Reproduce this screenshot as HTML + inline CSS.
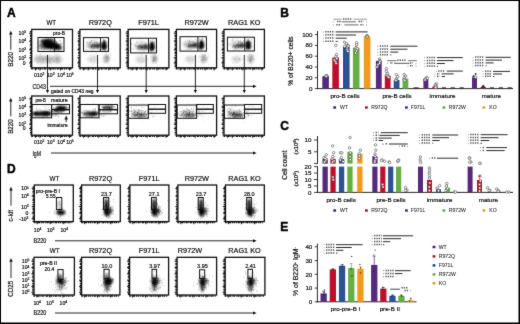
<!DOCTYPE html>
<html><head><meta charset="utf-8"><title>Figure</title>
<style>html,body{margin:0;padding:0;background:#fff;}body{width:520px;height:324px;overflow:hidden;font-family:"Liberation Sans",sans-serif;}svg{display:block;will-change:transform;opacity:0.999;}</style>
</head><body>
<svg width="520" height="324" viewBox="0 0 520 324" font-family="Liberation Sans, sans-serif">
<defs>
<filter id="b1" x="-50%" y="-50%" width="200%" height="200%"><feGaussianBlur stdDeviation="0.8"/></filter>
<filter id="b2" x="-50%" y="-50%" width="200%" height="200%"><feGaussianBlur stdDeviation="1.5"/></filter>
<filter id="b0" x="-50%" y="-50%" width="200%" height="200%"><feGaussianBlur stdDeviation="0.45"/></filter>
<filter id="soft" x="0" y="0" width="520" height="324" filterUnits="userSpaceOnUse" color-interpolation-filters="sRGB"><feConvolveMatrix order="3" kernelMatrix="0.016 0.064 0.016 0.064 0.68 0.064 0.016 0.064 0.016" divisor="1" edgeMode="duplicate" preserveAlpha="true"/></filter>
</defs>
<g filter="url(#soft)">
<rect x="0" y="0" width="520" height="324" fill="#fff"/>
<text x="7" y="16.8" font-size="12" text-anchor="start" font-weight="bold" fill="#000"  stroke="#000" stroke-width="0.45">A</text>
<text x="7" y="173.2" font-size="12" text-anchor="start" font-weight="bold" fill="#000"  stroke="#000" stroke-width="0.45">D</text>
<text x="280.3" y="17.2" font-size="12" text-anchor="start" font-weight="bold" fill="#000"  stroke="#000" stroke-width="0.45">B</text>
<text x="280.3" y="130.2" font-size="12" text-anchor="start" font-weight="bold" fill="#000"  stroke="#000" stroke-width="0.45">C</text>
<text x="280.3" y="230.6" font-size="12" text-anchor="start" font-weight="bold" fill="#000"  stroke="#000" stroke-width="0.45">E</text>
<text x="51.2" y="25.1" font-size="7.3" text-anchor="middle" font-weight="normal" fill="#111" stroke="#111" stroke-width="0.2" textLength="9.6" lengthAdjust="spacingAndGlyphs">WT</text>
<text x="100.3" y="25.1" font-size="7.3" text-anchor="middle" font-weight="normal" fill="#111" stroke="#111" stroke-width="0.2" >R972Q</text>
<text x="148.6" y="25.1" font-size="7.3" text-anchor="middle" font-weight="normal" fill="#111" stroke="#111" stroke-width="0.2" >F971L</text>
<text x="196.6" y="25.1" font-size="7.3" text-anchor="middle" font-weight="normal" fill="#111" stroke="#111" stroke-width="0.2" >R972W</text>
<text x="244.3" y="25.1" font-size="7.3" text-anchor="middle" font-weight="normal" fill="#111" stroke="#111" stroke-width="0.2" >RAG1 KO</text>
<ellipse cx="46" cy="44.6" rx="8" ry="5.4" fill="#000" opacity="0.24" filter="url(#b2)"/>
<ellipse cx="47" cy="44.3" rx="4.8" ry="4.2" fill="#000" opacity="0.95" filter="url(#b1)"/>
<ellipse cx="52" cy="45.2" rx="5.2" ry="3.9" fill="#000" opacity="0.97" filter="url(#b1)"/>
<ellipse cx="56.8" cy="46.8" rx="3.4" ry="3.3" fill="#000" opacity="0.95" filter="url(#b1)"/>
<ellipse cx="44" cy="41.2" rx="3.6" ry="2.0" fill="#000" opacity="0.75" filter="url(#b1)"/>
<ellipse cx="60" cy="47.8" rx="2.2" ry="2.8" fill="#000" opacity="0.6" filter="url(#b1)"/>
<ellipse cx="50" cy="40.2" rx="4.4" ry="1.6" fill="#000" opacity="0.8" filter="url(#b1)"/>
<ellipse cx="42" cy="47" rx="2.4" ry="2.6" fill="#000" opacity="0.35" filter="url(#b1)"/>
<ellipse cx="40" cy="59.2" rx="5.6" ry="4" fill="#000" opacity="0.25" filter="url(#b2)"/>
<ellipse cx="49" cy="59.4" rx="5" ry="4" fill="#000" opacity="0.24" filter="url(#b2)"/>
<ellipse cx="57.5" cy="59.4" rx="4" ry="4" fill="#000" opacity="0.28" filter="url(#b2)"/>
<path d="M42.0 46.4h.01M56.5 43.2h.01M41.4 44.8h.01M53.1 49.0h.01M42.1 40.3h.01M54.6 46.7h.01M60.0 48.5h.01M49.3 44.0h.01M44.9 40.9h.01M50.6 45.5h.01M47.8 44.8h.01M51.8 47.5h.01M57.1 45.8h.01M40.8 44.4h.01M40.4 45.0h.01M44.9 45.8h.01M55.5 40.2h.01M48.1 47.4h.01M49.4 46.3h.01M50.7 41.4h.01M53.7 42.1h.01M62.2 43.2h.01M54.5 45.0h.01M56.2 42.8h.01M56.5 44.6h.01M58.2 47.2h.01M50.9 42.2h.01M55.0 46.7h.01M60.7 43.6h.01M53.6 46.8h.01M51.8 45.8h.01M51.2 42.8h.01M43.4 43.6h.01M53.8 50.4h.01M56.4 48.8h.01M55.1 47.5h.01M51.2 47.8h.01M61.5 43.8h.01M51.6 48.5h.01M55.7 40.9h.01M51.2 47.7h.01M50.8 41.8h.01M49.3 46.3h.01M57.3 47.6h.01M50.4 49.9h.01M45.1 47.9h.01M57.2 43.9h.01M51.5 46.9h.01M60.1 41.4h.01M50.0 47.3h.01M56.5 41.7h.01M47.3 45.8h.01M50.7 50.6h.01M45.5 43.3h.01M54.7 50.1h.01M54.3 46.1h.01M46.0 43.1h.01M53.8 43.8h.01M55.1 45.3h.01M47.8 45.4h.01M52.8 48.1h.01M46.9 44.2h.01M59.4 44.4h.01M46.9 40.6h.01M51.1 45.7h.01M59.2 45.7h.01M39.5 45.6h.01M57.3 47.1h.01M49.2 39.4h.01M44.1 49.4h.01M60.7 40.7h.01M40.0 48.2h.01M55.5 41.4h.01" stroke="#000" stroke-width="0.6" stroke-linecap="round" fill="none" opacity="0.55"/>
<path d="M42.8 57.6h.01M39.1 57.6h.01M57.4 61.4h.01M63.4 59.3h.01M47.0 56.7h.01M47.1 55.8h.01M34.7 61.5h.01M58.8 61.8h.01M58.0 60.2h.01M42.6 59.7h.01M45.2 56.4h.01M35.3 55.3h.01M48.0 59.9h.01M44.4 63.5h.01M49.3 61.1h.01M57.1 57.2h.01M33.2 61.6h.01M42.8 63.2h.01M50.5 62.3h.01M53.7 53.7h.01M53.4 57.6h.01M42.3 58.3h.01M53.8 62.0h.01M55.6 54.9h.01M43.6 52.8h.01M47.2 61.2h.01M42.3 60.2h.01M49.7 62.3h.01M41.8 57.2h.01M42.3 64.4h.01M56.2 59.2h.01M49.7 59.8h.01M49.5 58.9h.01M45.5 56.0h.01M43.2 64.1h.01M52.0 59.7h.01M46.4 59.7h.01M50.7 57.7h.01M49.5 60.2h.01M42.4 57.3h.01M40.5 56.5h.01M54.7 52.9h.01M46.0 57.8h.01M43.4 59.8h.01M56.5 59.7h.01M46.9 57.8h.01M47.0 62.1h.01M45.0 56.3h.01M38.5 56.4h.01M37.6 62.6h.01M50.7 58.8h.01M58.9 57.7h.01M53.6 61.7h.01M36.4 55.1h.01M41.0 62.0h.01M57.7 56.1h.01M55.9 58.4h.01M45.0 58.0h.01M45.6 54.4h.01M40.5 56.0h.01M51.7 65.3h.01M68.5 58.6h.01M35.1 58.4h.01M41.0 65.1h.01M52.3 57.5h.01M55.0 61.0h.01M35.8 58.0h.01M46.2 59.6h.01M49.0 58.6h.01M49.4 57.9h.01M41.3 63.7h.01M50.7 60.7h.01M36.0 59.0h.01M54.1 55.9h.01M56.2 58.4h.01M51.0 59.1h.01M49.6 62.9h.01M45.0 63.9h.01M42.1 56.9h.01M53.3 56.5h.01M45.2 62.0h.01M57.1 54.5h.01M51.8 64.8h.01M57.0 58.8h.01M43.5 58.7h.01M39.4 58.8h.01M46.6 59.1h.01M56.9 58.9h.01M37.1 62.4h.01M40.0 58.2h.01M47.0 58.5h.01M40.5 58.8h.01M64.4 57.8h.01M47.0 62.6h.01M53.6 61.6h.01M54.5 54.0h.01M41.5 59.9h.01M51.7 63.1h.01M51.5 58.8h.01M48.3 58.9h.01M49.9 61.4h.01M45.5 57.2h.01M41.6 62.6h.01M57.6 62.3h.01M54.4 61.8h.01M48.0 61.4h.01M40.1 58.9h.01M42.5 61.5h.01M43.7 59.2h.01M51.0 63.3h.01" stroke="#000" stroke-width="0.7" stroke-linecap="round" fill="none" opacity="0.13"/>
<path d="M44.9 41.4h.01M59.4 40.3h.01M56.1 44.0h.01M51.0 35.3h.01M58.4 44.5h.01M43.9 62.5h.01M55.7 45.6h.01M53.0 59.2h.01M51.8 51.2h.01M56.6 41.6h.01M53.2 44.5h.01M40.8 54.1h.01M58.0 48.5h.01M43.8 34.0h.01M56.4 47.3h.01M36.8 47.6h.01M38.3 47.8h.01M53.3 50.5h.01M54.0 49.2h.01M41.7 45.3h.01M47.4 46.4h.01M54.4 52.3h.01M55.6 46.6h.01M37.1 50.8h.01M47.3 55.0h.01M42.5 47.3h.01M50.8 47.3h.01M46.7 35.1h.01M56.1 55.0h.01M51.4 40.9h.01M53.8 52.0h.01M50.4 47.9h.01M64.7 40.2h.01M47.0 34.7h.01M45.7 42.8h.01M43.4 43.1h.01M68.2 46.6h.01" stroke="#000" stroke-width="0.5" stroke-linecap="round" fill="none" opacity="0.3"/>
<rect x="31.7" y="29.4" width="40.8" height="38.4" fill="none" stroke="#111" stroke-width="1.3" />
<line x1="30.7" y1="30.9" x2="30.7" y2="68.3" stroke="#111" stroke-width="1.5" stroke-dasharray="1.7 0.8 0.8 0.6 2.3 0.7 1.1 0.6"/>
<line x1="31.2" y1="68.8" x2="71.5" y2="68.8" stroke="#111" stroke-width="1.5" stroke-dasharray="1.7 0.8 0.8 0.6 2.3 0.7 1.1 0.6"/>
<line x1="29.099999999999998" y1="33.2" x2="31.7" y2="33.2" stroke="#111" stroke-width="0.9" />
<line x1="29.099999999999998" y1="41.2" x2="31.7" y2="41.2" stroke="#111" stroke-width="0.9" />
<line x1="29.099999999999998" y1="49.7" x2="31.7" y2="49.7" stroke="#111" stroke-width="0.9" />
<line x1="29.099999999999998" y1="57.8" x2="31.7" y2="57.8" stroke="#111" stroke-width="0.9" />
<line x1="29.099999999999998" y1="63" x2="31.7" y2="63" stroke="#111" stroke-width="0.9" />
<line x1="35.5" y1="67.8" x2="35.5" y2="70.39999999999999" stroke="#111" stroke-width="0.9" />
<line x1="40.0" y1="67.8" x2="40.0" y2="70.39999999999999" stroke="#111" stroke-width="0.9" />
<line x1="50.5" y1="67.8" x2="50.5" y2="70.39999999999999" stroke="#111" stroke-width="0.9" />
<line x1="60.5" y1="67.8" x2="60.5" y2="70.39999999999999" stroke="#111" stroke-width="0.9" />
<line x1="69.5" y1="67.8" x2="69.5" y2="70.39999999999999" stroke="#111" stroke-width="0.9" />
<rect x="38" y="37.5" width="26" height="14.0" fill="none" stroke="#111" stroke-width="1.0" />
<line x1="54.6" y1="37.5" x2="54.6" y2="51.5" stroke="#111" stroke-width="0.9" />
<ellipse cx="92.5" cy="45.1" rx="7" ry="4.6" fill="#000" opacity="0.13" filter="url(#b2)"/>
<ellipse cx="95.5" cy="46.1" rx="5" ry="1.8" fill="#000" opacity="0.62" filter="url(#b1)"/>
<ellipse cx="98.3" cy="45.4" rx="2.4" ry="2.8" fill="#000" opacity="0.5" filter="url(#b1)"/>
<ellipse cx="91.5" cy="46.5" rx="3" ry="1.4" fill="#000" opacity="0.3" filter="url(#b1)"/>
<ellipse cx="104.1" cy="45.1" rx="2.1" ry="4.4" fill="#000" opacity="0.96" filter="url(#b1)"/>
<ellipse cx="103.9" cy="46.5" rx="2.6" ry="3.0" fill="#000" opacity="0.75" filter="url(#b1)"/>
<ellipse cx="92.5" cy="59.4" rx="4.8" ry="3.6" fill="#000" opacity="0.14" filter="url(#b2)"/>
<ellipse cx="106.5" cy="58.6" rx="2.8" ry="3.8" fill="#000" opacity="0.34" filter="url(#b2)"/>
<path d="M94.2 40.3h.01M96.7 42.7h.01M103.5 41.8h.01M91.3 40.7h.01M95.0 42.5h.01M94.1 44.4h.01M91.1 48.3h.01M99.6 45.7h.01M89.5 42.3h.01M92.0 43.1h.01M90.7 42.2h.01M89.2 44.9h.01M102.4 45.5h.01M91.7 40.7h.01M95.7 45.4h.01M87.8 42.2h.01M94.3 48.5h.01M97.9 46.1h.01M92.7 46.5h.01M88.3 44.4h.01M101.5 44.7h.01M102.3 45.4h.01M95.3 44.4h.01M86.9 42.6h.01M106.7 47.4h.01M97.8 48.4h.01M97.6 48.6h.01M93.0 44.8h.01M99.9 44.4h.01M87.2 44.8h.01M91.5 47.3h.01M90.5 42.3h.01M92.7 50.2h.01M94.2 46.0h.01M94.6 46.4h.01M99.6 49.7h.01M85.5 49.6h.01M94.5 44.5h.01M107.7 45.0h.01M105.2 48.4h.01M88.8 47.0h.01M98.6 45.1h.01M93.4 42.2h.01M104.5 44.8h.01M92.3 44.6h.01M90.2 43.2h.01M95.0 46.4h.01M91.7 45.2h.01M86.9 47.1h.01M90.4 46.1h.01M89.5 44.0h.01M95.7 41.9h.01M94.1 43.3h.01M103.3 49.7h.01M96.1 41.4h.01M91.7 47.3h.01M91.7 41.9h.01M88.0 43.2h.01M94.6 43.6h.01M104.3 42.4h.01M96.4 45.8h.01M93.7 48.6h.01M92.7 44.5h.01M92.4 45.2h.01" stroke="#000" stroke-width="0.55" stroke-linecap="round" fill="none" opacity="0.45"/>
<path d="M106.3 47.8h.01M101.6 43.4h.01M102.6 47.9h.01M104.4 48.2h.01M104.8 45.8h.01M104.9 40.3h.01M104.1 42.5h.01M102.8 46.3h.01M104.6 41.8h.01M103.0 49.0h.01M102.4 46.5h.01M107.0 49.2h.01M104.7 45.7h.01M102.1 43.4h.01M103.4 42.2h.01M104.1 43.6h.01M104.6 50.2h.01M105.3 46.5h.01M103.6 39.5h.01M103.8 47.0h.01M102.2 49.5h.01M103.4 46.3h.01M103.4 40.5h.01M105.7 43.0h.01M104.5 42.1h.01M103.3 48.3h.01M107.5 42.0h.01M104.0 48.4h.01M102.9 47.6h.01M102.6 47.2h.01M104.8 49.4h.01M104.7 40.7h.01M105.2 41.0h.01M105.4 50.4h.01M105.1 43.0h.01M106.1 45.6h.01" stroke="#000" stroke-width="0.6" stroke-linecap="round" fill="none" opacity="0.6"/>
<path d="M87.9 58.6h.01M99.9 58.7h.01M94.0 58.6h.01M85.9 58.2h.01M95.1 60.0h.01M92.7 54.0h.01M99.0 61.4h.01M98.1 62.9h.01M91.5 57.9h.01M94.9 63.9h.01M85.9 58.9h.01M90.3 61.0h.01M100.1 58.7h.01M87.9 59.6h.01M92.2 55.5h.01M97.5 58.1h.01M96.6 56.1h.01M98.4 55.8h.01M98.2 54.8h.01M99.7 58.5h.01M86.5 58.9h.01M95.0 56.9h.01M91.3 60.2h.01M92.7 51.5h.01M91.6 60.6h.01M94.8 62.1h.01M90.4 66.1h.01M97.1 60.3h.01M98.4 62.0h.01M94.0 57.9h.01M98.1 60.6h.01M85.0 56.6h.01M95.6 59.8h.01M94.8 61.2h.01M94.2 63.6h.01M90.8 58.5h.01M95.0 61.4h.01M97.0 63.4h.01M91.4 62.5h.01M95.6 56.8h.01M92.9 64.9h.01M97.0 58.3h.01M82.7 57.6h.01M90.3 59.7h.01M103.9 61.4h.01M94.9 57.1h.01M88.2 59.0h.01M91.7 57.9h.01M98.6 59.7h.01" stroke="#000" stroke-width="0.7" stroke-linecap="round" fill="none" opacity="0.1"/>
<path d="M103.5 62.9h.01M105.8 55.0h.01M107.3 60.5h.01M105.7 61.1h.01M108.5 56.4h.01M101.6 51.8h.01M106.2 62.7h.01M108.9 63.2h.01M111.0 59.0h.01M109.0 54.4h.01M108.2 60.2h.01M106.3 57.7h.01M103.8 59.4h.01M109.6 57.9h.01M107.8 57.0h.01M107.1 56.0h.01M107.4 58.3h.01M107.3 57.2h.01M103.7 58.0h.01M109.0 63.7h.01M105.7 61.4h.01M108.3 60.2h.01M102.8 60.0h.01M104.2 62.5h.01M108.4 60.9h.01M100.4 60.9h.01M108.2 55.2h.01M108.8 59.2h.01M106.1 56.9h.01M104.1 57.7h.01M113.9 59.6h.01M107.0 57.1h.01M105.0 57.3h.01M104.4 61.6h.01M105.9 61.6h.01M103.7 61.8h.01M106.4 61.0h.01M106.3 56.3h.01M109.4 57.7h.01M106.1 56.3h.01M107.0 57.8h.01M107.2 60.0h.01M104.8 54.8h.01M107.5 61.8h.01M108.2 55.6h.01" stroke="#000" stroke-width="0.7" stroke-linecap="round" fill="none" opacity="0.16"/>
<path d="M105.3 52.3h.01M102.8 52.6h.01M97.9 51.3h.01M107.9 47.0h.01M89.0 49.4h.01M102.1 38.9h.01M95.1 53.5h.01M99.3 50.6h.01M90.4 55.4h.01M114.5 48.8h.01M94.6 43.1h.01M107.6 50.6h.01M94.1 57.3h.01M106.6 53.6h.01M86.4 49.4h.01M105.5 42.7h.01M107.9 58.6h.01M108.8 45.7h.01M94.8 55.7h.01M108.5 57.4h.01M110.1 49.4h.01M97.2 38.9h.01M106.8 63.7h.01M96.8 47.1h.01M105.7 52.2h.01" stroke="#000" stroke-width="0.5" stroke-linecap="round" fill="none" opacity="0.25"/>
<rect x="79.9" y="29.4" width="40.3" height="38.4" fill="none" stroke="#111" stroke-width="1.3" />
<line x1="78.9" y1="30.9" x2="78.9" y2="68.3" stroke="#111" stroke-width="1.5" stroke-dasharray="1.7 0.8 0.8 0.6 2.3 0.7 1.1 0.6"/>
<line x1="79.4" y1="68.8" x2="119.2" y2="68.8" stroke="#111" stroke-width="1.5" stroke-dasharray="1.7 0.8 0.8 0.6 2.3 0.7 1.1 0.6"/>
<line x1="77.30000000000001" y1="33.2" x2="79.9" y2="33.2" stroke="#111" stroke-width="0.9" />
<line x1="77.30000000000001" y1="41.2" x2="79.9" y2="41.2" stroke="#111" stroke-width="0.9" />
<line x1="77.30000000000001" y1="49.7" x2="79.9" y2="49.7" stroke="#111" stroke-width="0.9" />
<line x1="77.30000000000001" y1="57.8" x2="79.9" y2="57.8" stroke="#111" stroke-width="0.9" />
<line x1="77.30000000000001" y1="63" x2="79.9" y2="63" stroke="#111" stroke-width="0.9" />
<line x1="83.7" y1="67.8" x2="83.7" y2="70.39999999999999" stroke="#111" stroke-width="0.9" />
<line x1="88.2" y1="67.8" x2="88.2" y2="70.39999999999999" stroke="#111" stroke-width="0.9" />
<line x1="98.7" y1="67.8" x2="98.7" y2="70.39999999999999" stroke="#111" stroke-width="0.9" />
<line x1="108.7" y1="67.8" x2="108.7" y2="70.39999999999999" stroke="#111" stroke-width="0.9" />
<line x1="117.7" y1="67.8" x2="117.7" y2="70.39999999999999" stroke="#111" stroke-width="0.9" />
<rect x="83.5" y="37.6" width="25.0" height="13.799999999999997" fill="none" stroke="#111" stroke-width="1.0" />
<line x1="100.5" y1="37.6" x2="100.5" y2="51.4" stroke="#111" stroke-width="0.9" />
<ellipse cx="140.5" cy="46.15" rx="7" ry="4.6" fill="#000" opacity="0.13" filter="url(#b2)"/>
<ellipse cx="143.5" cy="47.15" rx="5" ry="1.8" fill="#000" opacity="0.62" filter="url(#b1)"/>
<ellipse cx="146.3" cy="46.449999999999996" rx="2.4" ry="2.8" fill="#000" opacity="0.5" filter="url(#b1)"/>
<ellipse cx="139.5" cy="47.55" rx="3" ry="1.4" fill="#000" opacity="0.3" filter="url(#b1)"/>
<ellipse cx="152.1" cy="46.15" rx="2.1" ry="4.4" fill="#000" opacity="0.96" filter="url(#b1)"/>
<ellipse cx="151.9" cy="47.55" rx="2.6" ry="3.0" fill="#000" opacity="0.75" filter="url(#b1)"/>
<ellipse cx="140.5" cy="59.4" rx="4.8" ry="3.6" fill="#000" opacity="0.14" filter="url(#b2)"/>
<ellipse cx="154.5" cy="58.6" rx="2.8" ry="3.8" fill="#000" opacity="0.34" filter="url(#b2)"/>
<path d="M135.0 44.4h.01M138.6 49.1h.01M150.3 51.4h.01M135.7 45.5h.01M138.5 45.7h.01M145.6 42.8h.01M149.9 50.4h.01M142.9 50.5h.01M144.2 44.9h.01M140.4 46.2h.01M145.9 46.9h.01M155.5 46.0h.01M139.9 44.4h.01M138.2 42.2h.01M137.1 49.3h.01M142.8 46.0h.01M144.4 49.8h.01M145.9 48.9h.01M139.4 45.8h.01M138.2 46.3h.01M138.0 45.4h.01M141.5 45.9h.01M141.0 45.1h.01M149.7 45.5h.01M136.9 47.1h.01M136.5 43.3h.01M143.0 41.5h.01M148.2 41.5h.01M137.6 48.3h.01M131.6 43.9h.01M135.9 46.0h.01M131.6 49.2h.01M141.7 47.5h.01M140.7 40.2h.01M141.7 42.5h.01M142.6 44.0h.01M140.8 45.9h.01M146.7 48.9h.01M137.0 46.5h.01M150.5 48.0h.01M138.5 46.2h.01M140.6 49.4h.01M142.7 47.7h.01M154.7 42.4h.01M136.9 41.4h.01M133.7 49.1h.01M144.1 51.4h.01M131.6 43.9h.01M150.4 49.6h.01M147.4 49.2h.01M142.7 46.5h.01M142.7 49.1h.01M141.6 47.5h.01M150.5 43.2h.01M138.4 48.2h.01M141.1 46.1h.01M154.0 47.8h.01M140.2 49.8h.01M138.8 46.9h.01M145.4 45.4h.01M145.2 44.2h.01M139.2 46.9h.01M155.6 39.8h.01" stroke="#000" stroke-width="0.55" stroke-linecap="round" fill="none" opacity="0.45"/>
<path d="M152.8 50.9h.01M152.8 46.6h.01M151.8 43.0h.01M154.9 41.8h.01M151.8 44.2h.01M151.3 46.5h.01M152.3 49.1h.01M151.7 43.7h.01M152.6 48.4h.01M150.4 40.6h.01M150.2 49.9h.01M153.8 42.9h.01M152.2 49.1h.01M154.4 43.7h.01M151.6 51.1h.01M149.9 47.7h.01M151.5 45.8h.01M150.8 44.3h.01M153.3 47.6h.01M152.0 43.3h.01M151.6 50.5h.01M152.5 46.0h.01M149.1 47.5h.01M148.9 51.5h.01M150.9 46.1h.01M149.6 44.3h.01M150.3 50.1h.01M152.4 41.8h.01M148.5 45.8h.01M151.1 42.1h.01M153.1 45.4h.01M152.2 43.9h.01M151.0 44.4h.01M149.1 48.3h.01M152.7 39.8h.01" stroke="#000" stroke-width="0.6" stroke-linecap="round" fill="none" opacity="0.6"/>
<path d="M142.0 62.5h.01M142.6 62.9h.01M140.3 59.5h.01M135.7 57.1h.01M133.3 57.2h.01M142.6 60.9h.01M146.7 59.8h.01M137.0 60.6h.01M140.8 64.1h.01M150.3 62.0h.01M136.4 58.1h.01M142.4 57.6h.01M143.9 61.3h.01M145.3 60.1h.01M137.5 57.3h.01M140.9 63.0h.01M148.6 62.0h.01M143.1 61.3h.01M145.2 62.9h.01M145.4 55.5h.01M145.8 60.5h.01M139.4 60.9h.01M142.8 59.4h.01M133.9 59.8h.01M144.0 59.4h.01M134.4 60.7h.01M144.7 60.0h.01M143.4 58.6h.01M138.5 60.9h.01M139.9 60.0h.01M156.1 61.4h.01M142.1 55.3h.01M141.9 61.5h.01M138.3 58.9h.01M131.4 60.9h.01M138.8 61.3h.01M147.6 59.1h.01M145.9 60.2h.01M140.6 58.8h.01M137.7 62.8h.01M145.5 56.9h.01M145.3 57.6h.01M134.7 62.6h.01M135.7 62.6h.01M142.4 61.8h.01M143.8 62.5h.01M143.1 61.0h.01M142.6 62.3h.01M139.7 62.1h.01M148.3 59.3h.01" stroke="#000" stroke-width="0.7" stroke-linecap="round" fill="none" opacity="0.1"/>
<path d="M155.6 57.5h.01M153.8 59.8h.01M153.7 56.3h.01M154.4 59.6h.01M155.3 61.1h.01M150.2 63.2h.01M154.1 56.7h.01M153.6 60.3h.01M156.6 57.9h.01M154.9 54.2h.01M154.9 58.7h.01M153.5 61.7h.01M158.8 62.1h.01M152.6 63.6h.01M153.7 58.9h.01M153.1 60.4h.01M155.8 59.4h.01M154.0 58.6h.01M153.5 61.9h.01M153.3 58.6h.01M154.0 56.8h.01M154.0 54.6h.01M155.5 60.6h.01M153.8 63.7h.01M152.5 60.7h.01M155.6 57.4h.01M153.9 61.7h.01M154.6 59.8h.01M157.8 59.6h.01M150.5 56.8h.01M156.5 58.6h.01M151.9 53.1h.01M155.3 63.5h.01M151.5 52.5h.01M155.7 57.4h.01M153.8 58.0h.01M152.3 60.3h.01M156.7 60.1h.01M153.2 62.1h.01M154.2 60.7h.01M152.3 61.0h.01M156.3 62.8h.01M154.6 60.3h.01M153.1 61.6h.01M156.4 62.2h.01" stroke="#000" stroke-width="0.7" stroke-linecap="round" fill="none" opacity="0.16"/>
<path d="M145.4 42.7h.01M148.0 48.8h.01M142.6 53.6h.01M156.0 52.4h.01M157.3 52.4h.01M140.8 46.5h.01M145.7 54.1h.01M155.8 50.8h.01M156.5 45.1h.01M147.6 58.9h.01M152.0 56.2h.01M133.6 40.1h.01M141.7 56.0h.01M161.4 46.3h.01M140.7 44.0h.01M141.5 53.3h.01M146.0 61.1h.01M154.2 46.0h.01M150.4 49.1h.01M154.8 55.4h.01M145.8 55.3h.01M153.0 49.5h.01M150.5 54.0h.01M146.0 46.0h.01M158.5 50.0h.01" stroke="#000" stroke-width="0.5" stroke-linecap="round" fill="none" opacity="0.25"/>
<rect x="128.2" y="29.4" width="40.70000000000002" height="38.4" fill="none" stroke="#111" stroke-width="1.3" />
<line x1="127.19999999999999" y1="30.9" x2="127.19999999999999" y2="68.3" stroke="#111" stroke-width="1.5" stroke-dasharray="1.7 0.8 0.8 0.6 2.3 0.7 1.1 0.6"/>
<line x1="127.69999999999999" y1="68.8" x2="167.9" y2="68.8" stroke="#111" stroke-width="1.5" stroke-dasharray="1.7 0.8 0.8 0.6 2.3 0.7 1.1 0.6"/>
<line x1="125.6" y1="33.2" x2="128.2" y2="33.2" stroke="#111" stroke-width="0.9" />
<line x1="125.6" y1="41.2" x2="128.2" y2="41.2" stroke="#111" stroke-width="0.9" />
<line x1="125.6" y1="49.7" x2="128.2" y2="49.7" stroke="#111" stroke-width="0.9" />
<line x1="125.6" y1="57.8" x2="128.2" y2="57.8" stroke="#111" stroke-width="0.9" />
<line x1="125.6" y1="63" x2="128.2" y2="63" stroke="#111" stroke-width="0.9" />
<line x1="132.0" y1="67.8" x2="132.0" y2="70.39999999999999" stroke="#111" stroke-width="0.9" />
<line x1="136.5" y1="67.8" x2="136.5" y2="70.39999999999999" stroke="#111" stroke-width="0.9" />
<line x1="147.0" y1="67.8" x2="147.0" y2="70.39999999999999" stroke="#111" stroke-width="0.9" />
<line x1="157.0" y1="67.8" x2="157.0" y2="70.39999999999999" stroke="#111" stroke-width="0.9" />
<line x1="166.0" y1="67.8" x2="166.0" y2="70.39999999999999" stroke="#111" stroke-width="0.9" />
<rect x="130.6" y="38.2" width="25.900000000000006" height="14.699999999999996" fill="none" stroke="#111" stroke-width="1.0" />
<line x1="148.5" y1="38.2" x2="148.5" y2="52.9" stroke="#111" stroke-width="0.9" />
<ellipse cx="189.9" cy="44.50000000000001" rx="7" ry="4.6" fill="#000" opacity="0.13" filter="url(#b2)"/>
<ellipse cx="192.9" cy="45.50000000000001" rx="5" ry="1.8" fill="#000" opacity="0.62" filter="url(#b1)"/>
<ellipse cx="195.70000000000002" cy="44.800000000000004" rx="2.4" ry="2.8" fill="#000" opacity="0.5" filter="url(#b1)"/>
<ellipse cx="188.9" cy="45.900000000000006" rx="3" ry="1.4" fill="#000" opacity="0.3" filter="url(#b1)"/>
<ellipse cx="201.5" cy="44.50000000000001" rx="2.1" ry="4.4" fill="#000" opacity="0.96" filter="url(#b1)"/>
<ellipse cx="201.3" cy="45.900000000000006" rx="2.6" ry="3.0" fill="#000" opacity="0.75" filter="url(#b1)"/>
<ellipse cx="189.9" cy="59.4" rx="4.8" ry="3.6" fill="#000" opacity="0.14" filter="url(#b2)"/>
<ellipse cx="203.9" cy="58.6" rx="2.8" ry="3.8" fill="#000" opacity="0.34" filter="url(#b2)"/>
<path d="M188.7 46.3h.01M183.9 45.1h.01M184.6 43.6h.01M182.3 42.8h.01M196.8 44.4h.01M185.4 50.0h.01M188.5 49.3h.01M189.1 40.6h.01M201.9 43.6h.01M196.0 48.4h.01M184.8 45.1h.01M188.8 46.7h.01M191.9 41.2h.01M192.2 47.2h.01M190.3 46.6h.01M189.1 44.8h.01M193.8 45.3h.01M198.8 47.7h.01M196.5 47.0h.01M192.8 41.5h.01M197.7 50.0h.01M193.1 44.2h.01M191.7 48.5h.01M193.5 42.0h.01M191.0 42.7h.01M190.9 42.3h.01M187.2 49.3h.01M197.6 40.2h.01M186.7 43.6h.01M189.8 40.9h.01M196.7 40.2h.01M195.7 47.0h.01M190.0 43.0h.01M192.3 45.4h.01M194.8 44.6h.01M189.7 42.0h.01M188.2 42.7h.01M200.2 46.3h.01M193.1 45.5h.01M189.9 49.6h.01M194.7 44.8h.01M191.3 45.5h.01M185.8 44.0h.01M188.6 46.7h.01M195.2 39.5h.01M190.7 47.8h.01M185.0 41.5h.01M197.3 44.5h.01M189.5 41.4h.01M192.9 43.3h.01M193.1 46.2h.01M195.7 44.0h.01M189.1 45.0h.01M191.4 45.4h.01M189.1 44.2h.01M188.8 43.2h.01M192.8 48.3h.01M189.1 46.6h.01M193.8 45.2h.01M195.6 43.3h.01M195.0 45.8h.01M186.2 45.2h.01M193.8 42.1h.01M198.4 46.2h.01M187.7 41.4h.01" stroke="#000" stroke-width="0.55" stroke-linecap="round" fill="none" opacity="0.45"/>
<path d="M198.2 46.8h.01M201.2 42.2h.01M202.5 44.8h.01M201.9 45.4h.01M199.5 49.1h.01M200.6 48.4h.01M202.6 44.6h.01M201.7 44.3h.01M198.2 43.3h.01M202.2 38.7h.01M198.8 48.2h.01M202.8 39.0h.01M202.2 44.3h.01M203.1 43.3h.01M201.0 41.8h.01M201.7 44.0h.01M200.3 43.2h.01M200.1 46.6h.01M199.6 38.9h.01M199.7 48.3h.01M200.5 46.7h.01M202.7 42.6h.01M202.7 46.2h.01M201.3 41.9h.01M201.3 39.9h.01M200.9 42.4h.01M202.2 45.6h.01M200.3 47.5h.01M203.5 44.7h.01M200.1 46.2h.01M197.1 42.3h.01M200.1 49.8h.01M197.2 48.3h.01M201.7 48.0h.01M201.1 42.2h.01M201.0 49.8h.01M202.9 43.4h.01" stroke="#000" stroke-width="0.6" stroke-linecap="round" fill="none" opacity="0.6"/>
<path d="M192.6 61.7h.01M193.4 59.4h.01M188.0 57.6h.01M189.0 58.1h.01M183.9 55.9h.01M194.8 56.6h.01M185.1 59.4h.01M197.4 62.8h.01M189.1 56.8h.01M188.5 57.2h.01M188.5 60.7h.01M186.2 57.5h.01M189.8 59.4h.01M187.5 57.5h.01M185.9 57.6h.01M193.2 58.9h.01M190.6 57.3h.01M189.8 51.7h.01M183.5 62.5h.01M200.5 65.1h.01M187.6 59.6h.01M194.4 56.3h.01M198.7 57.6h.01M192.5 56.5h.01M192.5 59.5h.01M195.8 56.5h.01M190.9 64.2h.01M185.6 60.4h.01M192.9 58.2h.01M189.7 63.2h.01M196.0 61.0h.01M192.1 56.6h.01M191.3 64.2h.01M195.6 56.0h.01M181.6 57.8h.01M191.6 58.1h.01M189.5 60.4h.01M194.9 60.0h.01M196.5 55.8h.01M193.0 60.6h.01M184.2 62.8h.01M183.7 55.7h.01M202.9 62.9h.01M192.6 63.0h.01M196.1 56.6h.01M193.1 63.2h.01M190.2 59.7h.01M188.8 61.4h.01M188.4 58.0h.01" stroke="#000" stroke-width="0.7" stroke-linecap="round" fill="none" opacity="0.1"/>
<path d="M201.0 56.2h.01M204.4 60.4h.01M203.0 55.8h.01M204.7 60.1h.01M207.0 57.5h.01M202.9 60.5h.01M207.6 58.9h.01M203.7 56.2h.01M203.0 61.9h.01M206.0 62.4h.01M199.9 61.5h.01M201.7 60.8h.01M198.2 58.7h.01M201.8 62.8h.01M204.2 62.9h.01M202.8 64.9h.01M202.8 64.7h.01M202.7 56.0h.01M206.1 57.8h.01M203.8 54.9h.01M203.1 59.3h.01M202.2 60.2h.01M198.3 61.7h.01M202.9 63.5h.01M203.1 57.0h.01M202.8 59.8h.01M205.3 57.6h.01M202.0 60.3h.01M205.9 53.7h.01M201.4 57.0h.01M208.0 62.7h.01M205.8 60.5h.01M201.2 62.4h.01M202.8 56.6h.01M208.6 54.6h.01M207.3 59.6h.01M201.7 59.5h.01M201.9 59.6h.01M202.3 55.4h.01M210.4 57.5h.01M206.3 58.9h.01M205.5 55.2h.01M201.4 49.1h.01M206.3 60.4h.01M201.0 61.5h.01" stroke="#000" stroke-width="0.7" stroke-linecap="round" fill="none" opacity="0.16"/>
<path d="M199.8 55.6h.01M202.9 54.7h.01M197.7 47.5h.01M203.7 57.5h.01M188.5 43.1h.01M197.6 61.0h.01M196.2 39.7h.01M204.5 54.6h.01M213.7 51.2h.01M213.9 45.6h.01M205.3 50.8h.01M188.3 48.3h.01M208.7 56.8h.01M194.9 56.8h.01M205.2 55.5h.01M200.3 51.9h.01M191.2 49.6h.01M198.9 45.6h.01M195.6 51.0h.01M199.7 56.4h.01M189.6 47.6h.01M200.1 47.7h.01M200.6 47.2h.01M207.5 48.6h.01" stroke="#000" stroke-width="0.5" stroke-linecap="round" fill="none" opacity="0.25"/>
<rect x="176.4" y="29.4" width="40.19999999999999" height="38.4" fill="none" stroke="#111" stroke-width="1.3" />
<line x1="175.4" y1="30.9" x2="175.4" y2="68.3" stroke="#111" stroke-width="1.5" stroke-dasharray="1.7 0.8 0.8 0.6 2.3 0.7 1.1 0.6"/>
<line x1="175.9" y1="68.8" x2="215.6" y2="68.8" stroke="#111" stroke-width="1.5" stroke-dasharray="1.7 0.8 0.8 0.6 2.3 0.7 1.1 0.6"/>
<line x1="173.8" y1="33.2" x2="176.4" y2="33.2" stroke="#111" stroke-width="0.9" />
<line x1="173.8" y1="41.2" x2="176.4" y2="41.2" stroke="#111" stroke-width="0.9" />
<line x1="173.8" y1="49.7" x2="176.4" y2="49.7" stroke="#111" stroke-width="0.9" />
<line x1="173.8" y1="57.8" x2="176.4" y2="57.8" stroke="#111" stroke-width="0.9" />
<line x1="173.8" y1="63" x2="176.4" y2="63" stroke="#111" stroke-width="0.9" />
<line x1="180.20000000000002" y1="67.8" x2="180.20000000000002" y2="70.39999999999999" stroke="#111" stroke-width="0.9" />
<line x1="184.70000000000002" y1="67.8" x2="184.70000000000002" y2="70.39999999999999" stroke="#111" stroke-width="0.9" />
<line x1="195.20000000000002" y1="67.8" x2="195.20000000000002" y2="70.39999999999999" stroke="#111" stroke-width="0.9" />
<line x1="205.20000000000002" y1="67.8" x2="205.20000000000002" y2="70.39999999999999" stroke="#111" stroke-width="0.9" />
<line x1="214.2" y1="67.8" x2="214.2" y2="70.39999999999999" stroke="#111" stroke-width="0.9" />
<rect x="180" y="36.7" width="26.400000000000006" height="14.399999999999999" fill="none" stroke="#111" stroke-width="1.0" />
<line x1="197.9" y1="36.7" x2="197.9" y2="51.1" stroke="#111" stroke-width="0.9" />
<ellipse cx="236.7" cy="44.7" rx="7" ry="4.6" fill="#000" opacity="0.13" filter="url(#b2)"/>
<ellipse cx="239.7" cy="45.7" rx="5" ry="1.8" fill="#000" opacity="0.62" filter="url(#b1)"/>
<ellipse cx="242.5" cy="45.0" rx="2.4" ry="2.8" fill="#000" opacity="0.5" filter="url(#b1)"/>
<ellipse cx="235.7" cy="46.1" rx="3" ry="1.4" fill="#000" opacity="0.3" filter="url(#b1)"/>
<ellipse cx="248.29999999999998" cy="44.7" rx="2.1" ry="4.4" fill="#000" opacity="0.96" filter="url(#b1)"/>
<ellipse cx="248.1" cy="46.1" rx="2.6" ry="3.0" fill="#000" opacity="0.75" filter="url(#b1)"/>
<ellipse cx="236.7" cy="59.4" rx="4.8" ry="3.6" fill="#000" opacity="0.14" filter="url(#b2)"/>
<ellipse cx="250.7" cy="58.6" rx="2.8" ry="3.8" fill="#000" opacity="0.34" filter="url(#b2)"/>
<path d="M232.4 47.4h.01M248.0 39.3h.01M238.0 45.3h.01M244.5 49.7h.01M237.9 40.4h.01M242.4 48.2h.01M241.3 45.4h.01M232.1 40.5h.01M244.2 46.0h.01M242.5 46.2h.01M248.1 49.4h.01M235.7 48.2h.01M232.2 39.9h.01M245.4 43.8h.01M235.0 46.7h.01M238.4 42.8h.01M234.8 47.4h.01M233.6 45.5h.01M233.2 46.5h.01M248.6 46.8h.01M244.9 46.5h.01M233.4 44.2h.01M239.1 46.5h.01M235.4 47.0h.01M234.7 45.3h.01M238.7 41.6h.01M244.3 45.3h.01M239.3 45.0h.01M233.8 48.1h.01M235.5 47.0h.01M233.0 42.6h.01M236.1 48.3h.01M229.5 44.6h.01M241.0 45.5h.01M238.6 47.5h.01M240.3 42.1h.01M242.3 42.8h.01M236.8 49.5h.01M252.3 49.5h.01M241.1 42.8h.01M234.5 50.2h.01M240.6 40.9h.01M247.5 46.9h.01M246.1 46.3h.01M237.9 44.6h.01M247.1 43.1h.01M238.2 44.9h.01M238.2 42.0h.01M240.6 44.5h.01M239.9 41.9h.01M238.8 42.2h.01M233.1 46.1h.01M242.3 46.9h.01M238.5 44.0h.01M246.5 48.9h.01M235.2 41.8h.01M240.8 46.1h.01M240.1 48.1h.01M228.5 43.8h.01M246.7 49.4h.01M237.3 45.2h.01M233.8 46.3h.01M232.9 39.0h.01" stroke="#000" stroke-width="0.55" stroke-linecap="round" fill="none" opacity="0.45"/>
<path d="M245.4 44.8h.01M245.8 48.6h.01M250.5 48.2h.01M249.4 48.7h.01M248.7 47.8h.01M249.1 47.5h.01M246.4 42.2h.01M246.4 47.6h.01M249.1 41.8h.01M246.4 42.5h.01M249.8 44.2h.01M247.8 42.1h.01M247.0 43.3h.01M251.3 47.2h.01M246.1 48.6h.01M245.9 46.6h.01M243.6 41.0h.01M249.9 42.5h.01M246.9 44.8h.01M248.2 42.9h.01M250.9 45.8h.01M246.1 42.7h.01M247.7 46.4h.01M251.1 42.7h.01M248.5 43.1h.01M248.5 42.1h.01M248.9 48.8h.01M247.5 43.4h.01M248.4 39.9h.01M251.5 39.8h.01M247.6 41.4h.01M250.9 42.9h.01M248.0 41.8h.01M248.2 45.3h.01M246.9 44.0h.01M247.8 47.2h.01M249.6 47.7h.01" stroke="#000" stroke-width="0.6" stroke-linecap="round" fill="none" opacity="0.6"/>
<path d="M237.2 61.6h.01M236.8 62.6h.01M239.6 58.4h.01M243.3 55.6h.01M233.3 57.4h.01M237.1 56.3h.01M232.3 54.6h.01M238.3 57.5h.01M247.7 61.5h.01M232.6 63.0h.01M238.2 62.3h.01M232.7 62.6h.01M242.7 58.4h.01M233.9 58.5h.01M238.9 65.8h.01M245.9 63.4h.01M236.7 58.7h.01M239.4 58.8h.01M235.6 59.0h.01M241.6 59.3h.01M238.8 58.8h.01M236.9 58.7h.01M243.5 60.1h.01M244.5 59.1h.01M242.5 55.9h.01M235.9 59.4h.01M234.9 59.2h.01M233.6 59.1h.01M234.7 59.5h.01M236.4 56.9h.01M235.9 59.6h.01M232.0 59.8h.01M243.4 58.9h.01M240.2 61.1h.01M234.1 63.0h.01M249.1 56.8h.01M247.4 57.7h.01M244.3 54.8h.01M242.9 59.9h.01M231.9 57.4h.01M233.0 57.2h.01M239.4 59.0h.01M226.4 58.7h.01M239.8 59.8h.01M245.4 54.7h.01M238.8 59.6h.01M241.0 56.0h.01M231.8 59.1h.01M238.1 54.8h.01M239.4 59.5h.01" stroke="#000" stroke-width="0.7" stroke-linecap="round" fill="none" opacity="0.1"/>
<path d="M252.5 51.1h.01M251.9 56.3h.01M249.6 61.4h.01M254.8 59.5h.01M250.5 63.0h.01M248.6 58.6h.01M249.5 56.1h.01M251.2 65.2h.01M251.3 60.5h.01M250.6 62.4h.01M251.2 56.4h.01M251.0 63.4h.01M250.5 62.6h.01M250.5 65.1h.01M251.4 61.0h.01M250.0 61.5h.01M250.2 54.6h.01M251.4 55.4h.01M254.3 61.4h.01M250.8 61.1h.01M244.5 63.7h.01M249.1 61.0h.01M256.9 54.1h.01M249.7 60.1h.01M251.7 53.9h.01M248.5 63.5h.01M249.3 60.7h.01M247.4 56.3h.01M246.3 59.8h.01M253.5 59.3h.01M250.1 59.8h.01M251.8 58.1h.01M252.1 64.9h.01M256.1 57.3h.01M247.7 64.8h.01M253.1 62.7h.01M252.2 58.3h.01M253.1 62.4h.01M253.6 55.7h.01M253.2 58.0h.01M249.9 60.1h.01M249.9 66.0h.01M252.1 59.8h.01M250.3 59.8h.01M250.2 60.8h.01" stroke="#000" stroke-width="0.7" stroke-linecap="round" fill="none" opacity="0.16"/>
<path d="M251.7 55.1h.01M234.7 48.1h.01M245.5 42.7h.01M247.8 49.2h.01M245.2 52.4h.01M239.8 59.4h.01M253.1 46.7h.01M248.5 54.5h.01M238.6 47.9h.01M250.4 34.5h.01M234.2 52.0h.01M249.8 44.5h.01M251.7 63.4h.01M246.5 49.8h.01M245.3 43.9h.01M249.2 51.1h.01M250.8 58.7h.01M245.1 51.2h.01M247.4 60.6h.01M233.1 50.0h.01M239.7 50.8h.01M251.5 50.5h.01M250.7 51.2h.01M239.1 46.1h.01M233.7 51.4h.01" stroke="#000" stroke-width="0.5" stroke-linecap="round" fill="none" opacity="0.25"/>
<rect x="224" y="29.4" width="40.39999999999998" height="38.4" fill="none" stroke="#111" stroke-width="1.3" />
<line x1="223.0" y1="30.9" x2="223.0" y2="68.3" stroke="#111" stroke-width="1.5" stroke-dasharray="1.7 0.8 0.8 0.6 2.3 0.7 1.1 0.6"/>
<line x1="223.5" y1="68.8" x2="263.4" y2="68.8" stroke="#111" stroke-width="1.5" stroke-dasharray="1.7 0.8 0.8 0.6 2.3 0.7 1.1 0.6"/>
<line x1="221.4" y1="33.2" x2="224" y2="33.2" stroke="#111" stroke-width="0.9" />
<line x1="221.4" y1="41.2" x2="224" y2="41.2" stroke="#111" stroke-width="0.9" />
<line x1="221.4" y1="49.7" x2="224" y2="49.7" stroke="#111" stroke-width="0.9" />
<line x1="221.4" y1="57.8" x2="224" y2="57.8" stroke="#111" stroke-width="0.9" />
<line x1="221.4" y1="63" x2="224" y2="63" stroke="#111" stroke-width="0.9" />
<line x1="227.8" y1="67.8" x2="227.8" y2="70.39999999999999" stroke="#111" stroke-width="0.9" />
<line x1="232.3" y1="67.8" x2="232.3" y2="70.39999999999999" stroke="#111" stroke-width="0.9" />
<line x1="242.8" y1="67.8" x2="242.8" y2="70.39999999999999" stroke="#111" stroke-width="0.9" />
<line x1="252.8" y1="67.8" x2="252.8" y2="70.39999999999999" stroke="#111" stroke-width="0.9" />
<line x1="261.8" y1="67.8" x2="261.8" y2="70.39999999999999" stroke="#111" stroke-width="0.9" />
<rect x="227.4" y="37.2" width="27.0" height="13.799999999999997" fill="none" stroke="#111" stroke-width="1.0" />
<line x1="244.7" y1="37.2" x2="244.7" y2="51" stroke="#111" stroke-width="0.9" />
<text x="53.1" y="35.0" font-size="5.2" text-anchor="start" font-weight="normal" fill="#111" stroke="#111" stroke-width="0.2" textLength="11.8" lengthAdjust="spacingAndGlyphs">pro-B</text>
<line x1="47.5" y1="55" x2="47.5" y2="91.3" stroke="#111" stroke-width="0.9" />
<path d="M45.9 89.89999999999999 L47.5 93.3 L49.1 89.89999999999999 Z" fill="#111"/>
<line x1="97.5" y1="55" x2="97.5" y2="91.3" stroke="#111" stroke-width="0.9" />
<path d="M95.9 89.89999999999999 L97.5 93.3 L99.1 89.89999999999999 Z" fill="#111"/>
<line x1="146.2" y1="55" x2="146.2" y2="91.3" stroke="#111" stroke-width="0.9" />
<path d="M144.6 89.89999999999999 L146.2 93.3 L147.79999999999998 89.89999999999999 Z" fill="#111"/>
<line x1="195.4" y1="55" x2="195.4" y2="91.3" stroke="#111" stroke-width="0.9" />
<path d="M193.8 89.89999999999999 L195.4 93.3 L197.0 89.89999999999999 Z" fill="#111"/>
<line x1="244.3" y1="55" x2="244.3" y2="91.3" stroke="#111" stroke-width="0.9" />
<path d="M242.70000000000002 89.89999999999999 L244.3 93.3 L245.9 89.89999999999999 Z" fill="#111"/>
<text x="18.6" y="35.1" font-size="5.1" text-anchor="start" font-weight="normal" fill="#111" stroke="#111" stroke-width="0.2" >10<tspan font-size="3.37" dy="-1.84">5</tspan></text>
<text x="18.6" y="43.1" font-size="5.1" text-anchor="start" font-weight="normal" fill="#111" stroke="#111" stroke-width="0.2" >10<tspan font-size="3.37" dy="-1.84">4</tspan></text>
<text x="18.6" y="51.6" font-size="5.1" text-anchor="start" font-weight="normal" fill="#111" stroke="#111" stroke-width="0.2" >10<tspan font-size="3.37" dy="-1.84">3</tspan></text>
<text x="18.6" y="59.7" font-size="5.1" text-anchor="start" font-weight="normal" fill="#111" stroke="#111" stroke-width="0.2" >10<tspan font-size="3.37" dy="-1.84">2</tspan></text>
<text x="22.7" y="64.9" font-size="5.1" text-anchor="start" font-weight="normal" fill="#111" stroke="#111" stroke-width="0.2" >0</text>
<text transform="translate(13.2 59.4) rotate(-90)" font-size="6.3" text-anchor="middle" fill="#111" stroke="#111" stroke-width="0.2" >B220</text>
<line x1="10.8" y1="49.8" x2="10.8" y2="32.8" stroke="#111" stroke-width="0.9" />
<path d="M9.100000000000001 34.6 L10.8 30.8 L12.5 34.6 Z" fill="#111"/>
<text x="34" y="76.6" font-size="5.1" text-anchor="start" font-weight="normal" fill="#111" stroke="#111" stroke-width="0.2" >0</text>
<text x="36.9" y="76.6" font-size="5.1" text-anchor="start" font-weight="normal" fill="#111" stroke="#111" stroke-width="0.2" >10<tspan font-size="3.37" dy="-1.84">2</tspan></text>
<text x="47" y="76.6" font-size="5.1" text-anchor="start" font-weight="normal" fill="#111" stroke="#111" stroke-width="0.2" >10<tspan font-size="3.37" dy="-1.84">3</tspan></text>
<text x="57.3" y="76.6" font-size="5.1" text-anchor="start" font-weight="normal" fill="#111" stroke="#111" stroke-width="0.2" >10<tspan font-size="3.37" dy="-1.84">4</tspan></text>
<text x="66.2" y="76.6" font-size="5.1" text-anchor="start" font-weight="normal" fill="#111" stroke="#111" stroke-width="0.2" >10<tspan font-size="3.37" dy="-1.84">5</tspan></text>
<text x="32.4" y="89" font-size="7.6" text-anchor="start" font-weight="normal" fill="#111" stroke="#111" stroke-width="0.2" textLength="13.6" lengthAdjust="spacingAndGlyphs">CD43</text>
<line x1="50" y1="86.3" x2="254.60000000000002" y2="86.3" stroke="#111" stroke-width="0.9" />
<path d="M253.00000000000003 84.7 L256.6 86.3 L253.00000000000003 87.89999999999999 Z" fill="#111"/>
<text x="51" y="93.1" font-size="5" text-anchor="start" font-weight="normal" fill="#111" stroke="#111" stroke-width="0.2" textLength="42.6" lengthAdjust="spacingAndGlyphs">gated on CD43 neg</text>
<ellipse cx="42" cy="114" rx="9" ry="2.6" fill="#000" opacity="0.3" filter="url(#b2)"/>
<ellipse cx="42" cy="113.6" rx="8.5" ry="1.9" fill="#000" opacity="0.93" filter="url(#b1)"/>
<ellipse cx="46.5" cy="113.6" rx="4.6" ry="2.2" fill="#000" opacity="0.85" filter="url(#b1)"/>
<ellipse cx="35.5" cy="113.8" rx="3.6" ry="1.6" fill="#000" opacity="0.8" filter="url(#b1)"/>
<ellipse cx="55" cy="114.8" rx="3.4" ry="1.1" fill="#000" opacity="0.35" filter="url(#b1)"/>
<ellipse cx="60.5" cy="108.8" rx="5.2" ry="2.7" fill="#000" opacity="0.95" filter="url(#b1)"/>
<ellipse cx="56" cy="110.8" rx="3" ry="1.8" fill="#000" opacity="0.6" filter="url(#b1)"/>
<ellipse cx="64.5" cy="108" rx="3" ry="1.9" fill="#000" opacity="0.65" filter="url(#b1)"/>
<path d="M40.3 114.9h.01M49.9 111.1h.01M35.4 114.4h.01M36.9 113.5h.01M47.4 112.2h.01M55.6 111.3h.01M46.1 112.1h.01M42.0 114.3h.01M42.1 111.4h.01M39.5 112.4h.01M48.4 112.4h.01M51.8 114.9h.01M37.9 115.3h.01M36.2 112.8h.01M51.2 113.0h.01M41.9 115.9h.01M37.7 111.2h.01M49.9 114.4h.01M33.0 113.4h.01M48.6 112.7h.01M40.2 113.3h.01M44.6 111.5h.01M49.0 109.5h.01M42.6 117.7h.01M35.6 112.9h.01M35.0 113.2h.01M39.6 117.1h.01M36.6 113.0h.01M44.6 114.4h.01M49.4 109.6h.01M58.5 112.3h.01M38.0 109.4h.01M40.0 109.1h.01M44.4 111.7h.01M45.4 111.3h.01M43.6 117.9h.01M51.3 113.4h.01M36.1 116.2h.01M52.2 111.7h.01M52.5 114.3h.01M58.4 117.0h.01M47.2 111.6h.01M47.2 116.1h.01M44.0 106.6h.01M40.4 112.2h.01M42.6 112.2h.01M51.1 110.2h.01M46.1 108.6h.01M37.8 111.0h.01M38.1 114.4h.01M47.1 113.2h.01M44.4 111.5h.01M36.1 109.9h.01M40.1 110.5h.01M40.7 114.6h.01M46.9 115.9h.01M36.5 108.2h.01M35.2 117.4h.01M47.9 112.0h.01M52.3 112.1h.01M54.7 112.1h.01M40.2 114.5h.01M35.0 112.6h.01M56.6 114.0h.01M35.3 112.4h.01" stroke="#000" stroke-width="0.6" stroke-linecap="round" fill="none" opacity="0.5"/>
<path d="M60.4 107.1h.01M62.4 111.6h.01M60.7 110.8h.01M61.8 109.1h.01M57.1 110.9h.01M66.6 107.8h.01M56.6 110.0h.01M61.0 111.3h.01M62.7 108.5h.01M54.3 110.2h.01M60.9 106.0h.01M53.8 104.8h.01M63.3 107.8h.01M45.5 106.9h.01M57.6 108.6h.01M60.7 108.1h.01M63.8 111.1h.01M59.5 112.3h.01M59.9 106.9h.01M61.2 105.6h.01M59.1 106.5h.01M58.6 109.2h.01M49.4 109.7h.01M61.7 108.3h.01M63.7 109.6h.01M58.8 106.6h.01M63.8 110.5h.01M53.8 107.2h.01M55.2 110.6h.01M57.9 106.0h.01M67.3 109.8h.01M61.5 109.3h.01M59.7 108.9h.01M64.5 109.8h.01M58.4 109.0h.01M68.9 107.6h.01M54.5 109.0h.01M55.3 114.6h.01M63.3 110.1h.01M62.1 113.1h.01M55.9 108.7h.01M52.9 111.5h.01M60.1 112.7h.01M59.2 106.5h.01M57.3 110.6h.01M56.8 109.4h.01M57.2 107.2h.01M57.9 112.4h.01M55.6 109.5h.01M64.1 107.1h.01M53.7 112.1h.01M68.3 108.2h.01M55.0 110.7h.01M60.3 107.0h.01M58.7 103.5h.01M56.8 106.1h.01M54.5 110.1h.01M61.7 112.5h.01M48.3 107.3h.01M56.6 111.7h.01" stroke="#000" stroke-width="0.6" stroke-linecap="round" fill="none" opacity="0.55"/>
<path d="M61.3 112.4h.01M52.7 108.9h.01M47.2 110.2h.01M58.5 120.3h.01M63.1 113.9h.01M59.4 105.1h.01M42.7 115.4h.01M48.4 105.4h.01M51.8 106.7h.01M51.9 118.3h.01M41.5 110.1h.01M56.9 111.8h.01M53.5 108.5h.01M48.8 102.3h.01M50.2 117.1h.01M41.6 111.2h.01M58.3 116.9h.01M62.4 108.3h.01M48.0 119.0h.01M47.6 113.1h.01M44.1 109.3h.01M42.9 117.4h.01M58.8 113.5h.01M47.1 106.3h.01M56.2 108.6h.01M50.7 115.7h.01M50.1 111.8h.01" stroke="#000" stroke-width="0.5" stroke-linecap="round" fill="none" opacity="0.3"/>
<rect x="31.7" y="96" width="40.8" height="39.19999999999999" fill="none" stroke="#111" stroke-width="1.3" />
<line x1="30.7" y1="97.5" x2="30.7" y2="135.7" stroke="#111" stroke-width="1.5" stroke-dasharray="1.7 0.8 0.8 0.6 2.3 0.7 1.1 0.6"/>
<line x1="31.2" y1="136.2" x2="71.5" y2="136.2" stroke="#111" stroke-width="1.5" stroke-dasharray="1.7 0.8 0.8 0.6 2.3 0.7 1.1 0.6"/>
<line x1="29.099999999999998" y1="98.9" x2="31.7" y2="98.9" stroke="#111" stroke-width="0.9" />
<line x1="29.099999999999998" y1="107" x2="31.7" y2="107" stroke="#111" stroke-width="0.9" />
<line x1="29.099999999999998" y1="115" x2="31.7" y2="115" stroke="#111" stroke-width="0.9" />
<line x1="29.099999999999998" y1="124.2" x2="31.7" y2="124.2" stroke="#111" stroke-width="0.9" />
<line x1="29.099999999999998" y1="128.5" x2="31.7" y2="128.5" stroke="#111" stroke-width="0.9" />
<line x1="35.5" y1="135.2" x2="35.5" y2="137.79999999999998" stroke="#111" stroke-width="0.9" />
<line x1="40.0" y1="135.2" x2="40.0" y2="137.79999999999998" stroke="#111" stroke-width="0.9" />
<line x1="50.5" y1="135.2" x2="50.5" y2="137.79999999999998" stroke="#111" stroke-width="0.9" />
<line x1="60.5" y1="135.2" x2="60.5" y2="137.79999999999998" stroke="#111" stroke-width="0.9" />
<line x1="69.5" y1="135.2" x2="69.5" y2="137.79999999999998" stroke="#111" stroke-width="0.9" />
<rect x="32" y="104.5" width="19.6" height="13.299999999999997" fill="none" stroke="#111" stroke-width="1.0" />
<rect x="51.6" y="104.5" width="17.9" height="5.2" fill="none" stroke="#111" stroke-width="1.0" />
<rect x="51.6" y="109.7" width="17.9" height="4.1" fill="none" stroke="#111" stroke-width="1.0" />
<ellipse cx="90" cy="113.6" rx="8" ry="2.4" fill="#000" opacity="0.22" filter="url(#b2)"/>
<ellipse cx="90.5" cy="113.7" rx="7.6" ry="1.6" fill="#000" opacity="0.88" filter="url(#b1)"/>
<ellipse cx="94.5" cy="113.7" rx="3.8" ry="1.9" fill="#000" opacity="0.8" filter="url(#b1)"/>
<ellipse cx="90" cy="116.4" rx="6" ry="0.7" fill="#000" opacity="0.35" filter="url(#b1)"/>
<ellipse cx="108" cy="107.4" rx="5.6" ry="1.9" fill="#000" opacity="0.72" filter="url(#b1)"/>
<ellipse cx="106" cy="111.6" rx="4.8" ry="1.1" fill="#000" opacity="0.36" filter="url(#b1)"/>
<ellipse cx="103" cy="115.6" rx="3" ry="0.8" fill="#000" opacity="0.2" filter="url(#b1)"/>
<path d="M83.3 116.0h.01M93.3 115.2h.01M100.5 109.5h.01M90.0 115.0h.01M92.0 114.2h.01M92.9 109.7h.01M89.3 116.3h.01M89.5 113.0h.01M95.4 109.2h.01M92.4 117.1h.01M88.2 111.4h.01M93.3 112.3h.01M84.4 113.8h.01M81.9 112.1h.01M94.6 113.4h.01M91.5 116.8h.01M99.8 118.5h.01M86.2 115.7h.01M98.4 111.7h.01M92.9 115.5h.01M88.8 111.9h.01M99.8 110.2h.01M90.9 115.8h.01M91.4 117.3h.01M99.6 114.6h.01M101.5 115.3h.01M81.7 112.6h.01M91.6 113.9h.01M92.8 113.9h.01M100.0 114.0h.01M92.3 115.2h.01M85.0 110.3h.01M86.8 115.9h.01M88.0 116.5h.01M86.2 115.3h.01M90.0 115.5h.01M89.9 113.9h.01M86.8 116.5h.01M89.6 114.7h.01M94.2 111.3h.01M84.4 113.3h.01M98.3 110.9h.01M83.2 111.0h.01M87.3 110.9h.01M84.5 114.7h.01M82.7 113.4h.01M82.1 113.0h.01M93.3 108.6h.01M90.2 114.0h.01M89.5 114.1h.01M92.6 110.3h.01M89.1 115.0h.01M98.4 110.1h.01M86.0 110.1h.01M89.8 110.9h.01M83.4 115.3h.01M104.6 108.4h.01M100.7 111.2h.01M94.4 114.3h.01M98.0 113.0h.01M84.4 113.3h.01M95.1 111.3h.01M92.6 113.4h.01M91.1 113.5h.01M93.9 115.4h.01M88.0 112.6h.01" stroke="#000" stroke-width="0.6" stroke-linecap="round" fill="none" opacity="0.5"/>
<path d="M97.1 106.5h.01M100.2 110.0h.01M102.5 106.9h.01M110.6 110.7h.01M114.1 106.6h.01M109.1 110.8h.01M103.6 108.0h.01M101.8 107.0h.01M111.5 108.7h.01M106.1 107.2h.01M115.6 110.1h.01M101.7 113.3h.01M105.8 108.1h.01M105.5 107.2h.01M111.2 105.3h.01M108.1 107.7h.01M116.7 109.3h.01M110.1 109.6h.01M110.9 108.7h.01M95.6 109.4h.01M106.3 110.0h.01M109.5 107.3h.01M103.4 106.2h.01M109.4 108.2h.01M103.5 107.7h.01M109.7 107.0h.01M107.3 107.1h.01M94.9 108.7h.01M108.3 110.3h.01M114.5 106.9h.01M110.9 109.1h.01M108.3 110.3h.01M112.3 105.7h.01M115.4 108.1h.01M104.6 106.9h.01M106.8 106.0h.01M113.4 109.4h.01M103.4 110.3h.01M109.1 108.7h.01M112.8 108.3h.01M106.6 109.6h.01M98.7 105.8h.01M110.5 110.8h.01M99.5 108.5h.01M104.6 107.9h.01M111.0 111.8h.01M116.8 110.6h.01M111.2 108.8h.01M98.6 109.4h.01M102.0 106.0h.01M108.6 105.0h.01M116.9 109.8h.01M109.8 109.5h.01M109.2 108.6h.01M111.5 107.0h.01M109.3 108.9h.01M111.9 106.0h.01M109.2 108.2h.01M111.1 109.7h.01M108.9 109.5h.01M110.2 111.5h.01M109.5 109.7h.01M103.3 108.0h.01M111.8 110.8h.01M103.1 108.4h.01M106.6 108.6h.01M105.5 107.5h.01M107.6 108.8h.01M113.1 106.6h.01M103.1 110.2h.01" stroke="#000" stroke-width="0.6" stroke-linecap="round" fill="none" opacity="0.5"/>
<path d="M104.5 111.2h.01M89.5 116.2h.01M90.2 116.5h.01M102.2 111.4h.01M98.4 115.3h.01M100.0 105.0h.01M93.6 103.4h.01M103.5 115.7h.01M109.2 106.6h.01M119.1 119.3h.01M98.9 104.0h.01M92.1 116.2h.01M118.6 109.8h.01M83.3 108.1h.01M117.2 112.0h.01M87.2 103.6h.01M105.7 115.2h.01M95.6 111.2h.01M100.6 110.6h.01M95.0 109.7h.01M94.6 116.9h.01M103.5 116.1h.01M116.5 102.8h.01M99.3 115.8h.01M98.0 109.6h.01" stroke="#000" stroke-width="0.5" stroke-linecap="round" fill="none" opacity="0.3"/>
<rect x="79.9" y="96" width="40.3" height="39.19999999999999" fill="none" stroke="#111" stroke-width="1.3" />
<line x1="78.9" y1="97.5" x2="78.9" y2="135.7" stroke="#111" stroke-width="1.5" stroke-dasharray="1.7 0.8 0.8 0.6 2.3 0.7 1.1 0.6"/>
<line x1="79.4" y1="136.2" x2="119.2" y2="136.2" stroke="#111" stroke-width="1.5" stroke-dasharray="1.7 0.8 0.8 0.6 2.3 0.7 1.1 0.6"/>
<line x1="77.30000000000001" y1="98.9" x2="79.9" y2="98.9" stroke="#111" stroke-width="0.9" />
<line x1="77.30000000000001" y1="107" x2="79.9" y2="107" stroke="#111" stroke-width="0.9" />
<line x1="77.30000000000001" y1="115" x2="79.9" y2="115" stroke="#111" stroke-width="0.9" />
<line x1="77.30000000000001" y1="124.2" x2="79.9" y2="124.2" stroke="#111" stroke-width="0.9" />
<line x1="77.30000000000001" y1="128.5" x2="79.9" y2="128.5" stroke="#111" stroke-width="0.9" />
<line x1="83.7" y1="135.2" x2="83.7" y2="137.79999999999998" stroke="#111" stroke-width="0.9" />
<line x1="88.2" y1="135.2" x2="88.2" y2="137.79999999999998" stroke="#111" stroke-width="0.9" />
<line x1="98.7" y1="135.2" x2="98.7" y2="137.79999999999998" stroke="#111" stroke-width="0.9" />
<line x1="108.7" y1="135.2" x2="108.7" y2="137.79999999999998" stroke="#111" stroke-width="0.9" />
<line x1="117.7" y1="135.2" x2="117.7" y2="137.79999999999998" stroke="#111" stroke-width="0.9" />
<rect x="80" y="104.5" width="19" height="13.299999999999997" fill="none" stroke="#111" stroke-width="1.0" />
<rect x="99" y="104.5" width="18.5" height="5.2" fill="none" stroke="#111" stroke-width="1.0" />
<rect x="99" y="109.7" width="18.5" height="4.1" fill="none" stroke="#111" stroke-width="1.0" />
<ellipse cx="139.2" cy="114.8" rx="7.8" ry="2.5" fill="#000" opacity="0.36" filter="url(#b1)"/>
<ellipse cx="141.7" cy="115.9" rx="4.4" ry="1.4" fill="#000" opacity="0.36" filter="url(#b1)"/>
<ellipse cx="137.2" cy="111.6" rx="6" ry="1.6" fill="#000" opacity="0.14" filter="url(#b1)"/>
<ellipse cx="153.4" cy="115.5" rx="4" ry="0.8" fill="#000" opacity="0.1" filter="url(#b1)"/>
<path d="M141.7 112.6h.01M133.7 113.2h.01M139.5 114.0h.01M145.0 114.0h.01M137.7 113.3h.01M138.2 112.2h.01M128.9 114.5h.01M148.6 109.2h.01M134.2 115.1h.01M134.7 115.4h.01M138.8 111.1h.01M137.7 112.6h.01M142.7 107.4h.01M141.8 117.4h.01M140.1 114.6h.01M135.7 114.9h.01M138.2 110.6h.01M131.4 107.9h.01M142.0 114.4h.01M146.2 114.6h.01M143.6 110.5h.01M137.0 114.9h.01M138.3 113.5h.01M139.4 114.6h.01M140.4 114.8h.01M135.9 113.7h.01M129.6 111.1h.01M137.4 115.1h.01M134.2 110.3h.01M145.4 111.8h.01M131.4 107.7h.01M136.6 118.4h.01M134.3 111.8h.01M146.6 114.2h.01M138.5 117.5h.01M131.4 113.8h.01M142.4 114.5h.01M131.5 111.5h.01M150.7 113.7h.01M137.4 116.8h.01M132.7 114.3h.01M133.1 114.3h.01M141.2 114.0h.01M137.1 114.6h.01M137.6 112.7h.01M143.2 116.2h.01M130.4 111.4h.01M134.1 114.7h.01M130.0 118.0h.01M139.4 114.4h.01M144.8 112.0h.01M141.6 115.0h.01M147.5 111.3h.01M148.2 115.5h.01M140.8 116.8h.01M137.5 113.5h.01M144.6 113.1h.01M146.2 117.6h.01M140.6 114.5h.01M135.0 111.6h.01M148.5 111.3h.01M139.7 114.8h.01M133.4 112.2h.01M141.6 117.6h.01M152.4 116.6h.01M147.8 112.9h.01M134.7 117.8h.01M148.7 111.4h.01M146.6 114.8h.01M144.4 116.5h.01M151.6 112.4h.01M139.3 117.3h.01M137.6 115.4h.01M138.8 109.6h.01M135.7 116.3h.01M135.7 110.0h.01M136.0 114.3h.01M142.5 114.9h.01M142.7 111.3h.01M135.4 112.0h.01M136.5 115.2h.01M148.0 113.4h.01M146.2 116.9h.01M131.9 111.9h.01M140.3 110.5h.01M151.5 109.2h.01M131.4 116.1h.01M134.5 115.9h.01M132.9 116.8h.01M135.6 115.9h.01M145.9 110.2h.01M133.6 109.5h.01M132.2 116.4h.01M139.2 116.3h.01M148.6 116.8h.01M144.1 113.0h.01M136.9 114.9h.01M145.0 116.9h.01M141.3 113.3h.01M138.9 118.4h.01M134.8 116.4h.01M140.8 116.1h.01M134.5 115.0h.01M139.0 113.4h.01M131.7 110.4h.01M137.2 115.5h.01M141.1 114.7h.01M141.5 110.6h.01M146.3 114.3h.01M134.6 112.7h.01M145.8 114.6h.01M129.8 118.5h.01M144.9 111.5h.01M147.5 117.4h.01M146.2 115.8h.01M141.5 114.7h.01M136.0 114.8h.01M147.7 113.8h.01M152.2 110.1h.01M139.7 110.3h.01M137.4 112.7h.01" stroke="#000" stroke-width="0.6" stroke-linecap="round" fill="none" opacity="0.48"/>
<path d="M132.1 111.1h.01M136.3 106.6h.01M143.8 103.8h.01M143.9 113.4h.01M144.7 112.8h.01M146.9 111.0h.01M131.9 113.9h.01M134.2 110.6h.01M141.5 108.0h.01M148.4 105.3h.01M150.3 112.0h.01M154.0 117.2h.01M145.9 113.5h.01M141.5 106.0h.01M136.1 108.0h.01M134.9 111.6h.01M134.2 112.8h.01M138.5 110.1h.01M143.6 114.3h.01M129.9 110.8h.01M163.8 112.2h.01M144.2 108.2h.01M148.3 119.1h.01M145.2 111.6h.01M140.8 103.7h.01M145.3 110.8h.01M143.7 113.9h.01M142.2 121.6h.01M147.9 109.3h.01" stroke="#000" stroke-width="0.5" stroke-linecap="round" fill="none" opacity="0.3"/>
<path d="M159.6 109.8h.01M156.8 111.4h.01M154.8 105.1h.01M151.3 109.4h.01M151.7 108.9h.01M149.1 109.3h.01M155.3 106.8h.01M153.8 108.0h.01M161.1 109.1h.01M155.6 108.9h.01" stroke="#000" stroke-width="0.5" stroke-linecap="round" fill="none" opacity="0.35"/>
<rect x="128.2" y="96" width="40.70000000000002" height="39.19999999999999" fill="none" stroke="#111" stroke-width="1.3" />
<line x1="127.19999999999999" y1="97.5" x2="127.19999999999999" y2="135.7" stroke="#111" stroke-width="1.5" stroke-dasharray="1.7 0.8 0.8 0.6 2.3 0.7 1.1 0.6"/>
<line x1="127.69999999999999" y1="136.2" x2="167.9" y2="136.2" stroke="#111" stroke-width="1.5" stroke-dasharray="1.7 0.8 0.8 0.6 2.3 0.7 1.1 0.6"/>
<line x1="125.6" y1="98.9" x2="128.2" y2="98.9" stroke="#111" stroke-width="0.9" />
<line x1="125.6" y1="107" x2="128.2" y2="107" stroke="#111" stroke-width="0.9" />
<line x1="125.6" y1="115" x2="128.2" y2="115" stroke="#111" stroke-width="0.9" />
<line x1="125.6" y1="124.2" x2="128.2" y2="124.2" stroke="#111" stroke-width="0.9" />
<line x1="125.6" y1="128.5" x2="128.2" y2="128.5" stroke="#111" stroke-width="0.9" />
<line x1="132.0" y1="135.2" x2="132.0" y2="137.79999999999998" stroke="#111" stroke-width="0.9" />
<line x1="136.5" y1="135.2" x2="136.5" y2="137.79999999999998" stroke="#111" stroke-width="0.9" />
<line x1="147.0" y1="135.2" x2="147.0" y2="137.79999999999998" stroke="#111" stroke-width="0.9" />
<line x1="157.0" y1="135.2" x2="157.0" y2="137.79999999999998" stroke="#111" stroke-width="0.9" />
<line x1="166.0" y1="135.2" x2="166.0" y2="137.79999999999998" stroke="#111" stroke-width="0.9" />
<rect x="128.2" y="105" width="20.200000000000017" height="13.299999999999997" fill="none" stroke="#111" stroke-width="1.0" />
<rect x="148.4" y="104.5" width="17.19999999999999" height="4.7" fill="none" stroke="#111" stroke-width="1.0" />
<rect x="148.4" y="109.2" width="17.19999999999999" height="4.1" fill="none" stroke="#111" stroke-width="1.0" />
<ellipse cx="188.2" cy="114.8" rx="7.8" ry="2.5" fill="#000" opacity="0.36" filter="url(#b1)"/>
<ellipse cx="190.7" cy="115.9" rx="4.4" ry="1.4" fill="#000" opacity="0.36" filter="url(#b1)"/>
<ellipse cx="186.2" cy="111.6" rx="6" ry="1.6" fill="#000" opacity="0.14" filter="url(#b1)"/>
<ellipse cx="201.6" cy="115.5" rx="4" ry="0.8" fill="#000" opacity="0.1" filter="url(#b1)"/>
<path d="M194.2 115.3h.01M199.8 112.2h.01M193.8 114.4h.01M184.4 115.6h.01M193.9 116.6h.01M191.6 111.8h.01M189.6 115.1h.01M199.2 114.4h.01M189.5 118.1h.01M188.9 113.0h.01M190.3 116.1h.01M189.5 109.8h.01M185.9 116.7h.01M183.7 116.3h.01M189.6 112.1h.01M193.6 108.6h.01M191.9 113.4h.01M192.5 113.9h.01M189.3 112.8h.01M185.9 116.7h.01M193.4 110.7h.01M193.3 111.7h.01M193.3 114.7h.01M186.4 116.6h.01M196.4 112.8h.01M189.3 113.1h.01M188.5 118.2h.01M185.7 115.6h.01M190.1 114.3h.01M181.2 115.7h.01M181.4 116.0h.01M187.9 114.5h.01M185.5 111.9h.01M181.9 114.1h.01M187.9 114.8h.01M186.6 116.1h.01M189.4 114.4h.01M186.9 114.1h.01M192.7 112.3h.01M180.8 115.1h.01M191.2 114.2h.01M190.0 110.8h.01M182.2 114.1h.01M188.3 110.9h.01M191.4 109.2h.01M196.4 111.4h.01M184.9 111.4h.01M179.8 113.3h.01M189.5 113.3h.01M188.3 110.4h.01M195.2 114.9h.01M192.5 116.9h.01M194.9 117.4h.01M177.6 114.3h.01M192.8 114.1h.01M186.8 108.7h.01M189.1 111.9h.01M197.1 116.0h.01M187.9 113.1h.01M195.5 112.7h.01M195.5 114.6h.01M186.6 115.0h.01M199.6 110.0h.01M193.2 116.0h.01M186.8 117.8h.01M192.7 115.5h.01M182.0 115.6h.01M180.2 115.4h.01M198.4 111.3h.01M188.9 115.9h.01M179.2 114.9h.01M183.5 112.5h.01M193.8 113.9h.01M191.0 114.1h.01M190.9 118.1h.01M189.2 113.4h.01M188.6 115.9h.01M191.4 108.6h.01M187.9 115.2h.01M186.7 111.1h.01M188.0 109.6h.01M183.0 113.9h.01M178.7 113.4h.01M184.0 117.3h.01M189.3 115.8h.01M199.3 111.7h.01M195.2 110.1h.01M185.9 113.6h.01M186.8 109.1h.01M189.2 113.3h.01M198.0 115.6h.01M195.3 113.8h.01M183.9 110.6h.01M186.0 111.7h.01M186.6 113.3h.01M196.6 111.6h.01M190.5 111.3h.01M190.2 116.7h.01M184.7 111.0h.01M188.6 114.1h.01M184.3 115.2h.01M188.9 115.8h.01M179.6 116.0h.01M196.5 112.0h.01M201.2 114.7h.01M180.0 111.3h.01M183.6 112.4h.01M186.9 114.8h.01M187.1 113.3h.01M182.2 108.8h.01M183.8 110.9h.01M194.1 107.8h.01M195.8 106.7h.01M187.1 114.1h.01M181.2 111.6h.01M194.0 111.3h.01M187.8 114.2h.01M192.6 110.8h.01M196.9 113.7h.01" stroke="#000" stroke-width="0.6" stroke-linecap="round" fill="none" opacity="0.48"/>
<path d="M197.5 105.8h.01M198.1 111.7h.01M195.6 109.3h.01M196.3 112.3h.01M184.1 114.2h.01M187.9 110.1h.01M186.5 116.2h.01M196.9 116.3h.01M177.5 122.5h.01M192.5 117.2h.01M189.4 112.8h.01M183.8 121.1h.01M186.8 117.0h.01M183.0 111.5h.01M186.3 111.6h.01M185.4 115.0h.01M194.7 104.9h.01M185.9 106.2h.01M198.0 106.5h.01M193.2 112.8h.01M189.0 103.4h.01M203.0 111.5h.01M194.9 116.9h.01M181.5 107.7h.01M203.2 120.8h.01M182.9 111.8h.01M197.0 111.5h.01M200.0 114.8h.01" stroke="#000" stroke-width="0.5" stroke-linecap="round" fill="none" opacity="0.3"/>
<path d="M204.4 109.9h.01M202.4 111.1h.01M201.5 111.2h.01M213.2 105.6h.01M204.4 112.2h.01M210.2 109.9h.01M206.6 108.9h.01M207.1 108.2h.01M203.3 106.1h.01" stroke="#000" stroke-width="0.5" stroke-linecap="round" fill="none" opacity="0.35"/>
<rect x="176.4" y="96" width="40.19999999999999" height="39.19999999999999" fill="none" stroke="#111" stroke-width="1.3" />
<line x1="175.4" y1="97.5" x2="175.4" y2="135.7" stroke="#111" stroke-width="1.5" stroke-dasharray="1.7 0.8 0.8 0.6 2.3 0.7 1.1 0.6"/>
<line x1="175.9" y1="136.2" x2="215.6" y2="136.2" stroke="#111" stroke-width="1.5" stroke-dasharray="1.7 0.8 0.8 0.6 2.3 0.7 1.1 0.6"/>
<line x1="173.8" y1="98.9" x2="176.4" y2="98.9" stroke="#111" stroke-width="0.9" />
<line x1="173.8" y1="107" x2="176.4" y2="107" stroke="#111" stroke-width="0.9" />
<line x1="173.8" y1="115" x2="176.4" y2="115" stroke="#111" stroke-width="0.9" />
<line x1="173.8" y1="124.2" x2="176.4" y2="124.2" stroke="#111" stroke-width="0.9" />
<line x1="173.8" y1="128.5" x2="176.4" y2="128.5" stroke="#111" stroke-width="0.9" />
<line x1="180.20000000000002" y1="135.2" x2="180.20000000000002" y2="137.79999999999998" stroke="#111" stroke-width="0.9" />
<line x1="184.70000000000002" y1="135.2" x2="184.70000000000002" y2="137.79999999999998" stroke="#111" stroke-width="0.9" />
<line x1="195.20000000000002" y1="135.2" x2="195.20000000000002" y2="137.79999999999998" stroke="#111" stroke-width="0.9" />
<line x1="205.20000000000002" y1="135.2" x2="205.20000000000002" y2="137.79999999999998" stroke="#111" stroke-width="0.9" />
<line x1="214.2" y1="135.2" x2="214.2" y2="137.79999999999998" stroke="#111" stroke-width="0.9" />
<rect x="177.2" y="105" width="19.400000000000006" height="13.299999999999997" fill="none" stroke="#111" stroke-width="1.0" />
<rect x="196.6" y="104.5" width="16.700000000000017" height="4.7" fill="none" stroke="#111" stroke-width="1.0" />
<rect x="196.6" y="109.2" width="16.700000000000017" height="4.1" fill="none" stroke="#111" stroke-width="1.0" />
<ellipse cx="235.5" cy="114.8" rx="7.8" ry="2.5" fill="#000" opacity="0.44" filter="url(#b1)"/>
<ellipse cx="238.0" cy="115.9" rx="4.4" ry="1.4" fill="#000" opacity="0.44" filter="url(#b1)"/>
<ellipse cx="233.5" cy="111.6" rx="6" ry="1.6" fill="#000" opacity="0.14" filter="url(#b1)"/>
<ellipse cx="249.5" cy="115.5" rx="4" ry="0.8" fill="#000" opacity="0.1" filter="url(#b1)"/>
<path d="M247.0 114.0h.01M248.1 116.0h.01M238.7 111.2h.01M234.0 114.2h.01M234.9 113.3h.01M234.1 112.8h.01M233.7 110.0h.01M230.2 117.9h.01M229.6 112.7h.01M230.3 113.7h.01M229.0 117.6h.01M232.7 115.3h.01M235.7 106.6h.01M233.5 113.5h.01M236.6 114.7h.01M228.6 111.6h.01M240.7 113.4h.01M236.0 115.8h.01M236.4 114.5h.01M228.7 114.1h.01M230.8 118.5h.01M232.5 113.8h.01M244.3 114.7h.01M237.0 113.4h.01M234.1 112.2h.01M230.8 109.5h.01M234.8 112.1h.01M248.2 111.0h.01M233.5 113.8h.01M225.8 118.2h.01M240.5 114.9h.01M248.4 115.4h.01M233.9 114.9h.01M232.8 115.4h.01M227.3 115.5h.01M233.9 113.0h.01M233.3 113.8h.01M235.7 116.6h.01M235.6 113.8h.01M227.9 112.9h.01M232.0 107.8h.01M233.9 112.3h.01M237.8 116.8h.01M233.9 117.2h.01M244.0 116.1h.01M233.7 114.4h.01M246.5 118.2h.01M243.3 109.6h.01M240.5 117.7h.01M239.7 113.4h.01M238.9 114.0h.01M245.6 116.4h.01M229.7 112.2h.01M242.5 116.5h.01M237.8 115.1h.01M227.7 111.9h.01M239.3 109.4h.01M239.1 115.7h.01M240.2 116.4h.01M248.4 114.9h.01M230.6 109.7h.01M241.7 109.8h.01M237.1 112.3h.01M234.3 114.7h.01M236.2 111.1h.01M240.9 113.8h.01M246.2 113.2h.01M246.4 110.0h.01M234.3 117.6h.01M244.5 115.5h.01M242.9 113.1h.01M240.6 116.7h.01M242.1 115.2h.01M241.4 115.3h.01M239.9 110.1h.01M239.9 111.7h.01M233.5 114.3h.01M237.6 110.7h.01M232.5 114.8h.01M233.2 114.2h.01M237.4 114.7h.01M232.4 114.6h.01M239.7 110.8h.01M241.0 111.5h.01M238.3 115.8h.01M240.1 111.1h.01M229.9 111.1h.01M239.6 114.5h.01M243.7 112.8h.01M235.4 114.8h.01M229.3 113.0h.01M239.5 113.3h.01M235.8 114.4h.01M247.1 114.8h.01M238.1 112.9h.01M244.0 114.3h.01M235.7 117.6h.01M244.7 111.7h.01M233.8 117.5h.01M232.8 118.3h.01M229.5 109.1h.01M231.1 113.0h.01M232.1 112.2h.01M236.9 114.5h.01M231.8 112.8h.01M244.6 116.6h.01M242.3 117.4h.01M234.6 116.4h.01M246.6 112.0h.01M244.7 107.7h.01M229.3 111.6h.01M232.7 116.3h.01M231.1 113.2h.01M227.3 110.0h.01M234.6 112.2h.01M241.6 114.4h.01" stroke="#000" stroke-width="0.6" stroke-linecap="round" fill="none" opacity="0.55"/>
<path d="M227.3 110.4h.01M228.5 108.5h.01M232.0 106.8h.01M230.9 110.9h.01M242.6 115.4h.01M251.2 104.9h.01M233.7 117.7h.01M227.8 111.4h.01M242.7 119.1h.01M241.4 113.7h.01M235.5 115.0h.01M237.6 113.7h.01M231.6 111.6h.01M229.7 107.2h.01M230.0 108.4h.01M231.4 109.6h.01M239.3 119.1h.01M229.0 108.2h.01M237.3 108.3h.01M230.6 115.4h.01M235.3 104.9h.01M244.4 122.3h.01M245.8 111.4h.01M247.6 111.8h.01M233.9 113.3h.01M247.1 112.7h.01M234.3 105.9h.01" stroke="#000" stroke-width="0.5" stroke-linecap="round" fill="none" opacity="0.3"/>
<path d="M253.6 106.4h.01M252.2 105.8h.01M248.3 106.6h.01M249.3 106.3h.01M258.8 110.1h.01M251.0 106.5h.01M258.1 108.1h.01M255.5 110.6h.01M250.6 109.4h.01M254.9 107.7h.01" stroke="#000" stroke-width="0.5" stroke-linecap="round" fill="none" opacity="0.35"/>
<rect x="224" y="96" width="40.39999999999998" height="39.19999999999999" fill="none" stroke="#111" stroke-width="1.3" />
<line x1="223.0" y1="97.5" x2="223.0" y2="135.7" stroke="#111" stroke-width="1.5" stroke-dasharray="1.7 0.8 0.8 0.6 2.3 0.7 1.1 0.6"/>
<line x1="223.5" y1="136.2" x2="263.4" y2="136.2" stroke="#111" stroke-width="1.5" stroke-dasharray="1.7 0.8 0.8 0.6 2.3 0.7 1.1 0.6"/>
<line x1="221.4" y1="98.9" x2="224" y2="98.9" stroke="#111" stroke-width="0.9" />
<line x1="221.4" y1="107" x2="224" y2="107" stroke="#111" stroke-width="0.9" />
<line x1="221.4" y1="115" x2="224" y2="115" stroke="#111" stroke-width="0.9" />
<line x1="221.4" y1="124.2" x2="224" y2="124.2" stroke="#111" stroke-width="0.9" />
<line x1="221.4" y1="128.5" x2="224" y2="128.5" stroke="#111" stroke-width="0.9" />
<line x1="227.8" y1="135.2" x2="227.8" y2="137.79999999999998" stroke="#111" stroke-width="0.9" />
<line x1="232.3" y1="135.2" x2="232.3" y2="137.79999999999998" stroke="#111" stroke-width="0.9" />
<line x1="242.8" y1="135.2" x2="242.8" y2="137.79999999999998" stroke="#111" stroke-width="0.9" />
<line x1="252.8" y1="135.2" x2="252.8" y2="137.79999999999998" stroke="#111" stroke-width="0.9" />
<line x1="261.8" y1="135.2" x2="261.8" y2="137.79999999999998" stroke="#111" stroke-width="0.9" />
<rect x="224.5" y="105" width="20.0" height="13.299999999999997" fill="none" stroke="#111" stroke-width="1.0" />
<rect x="244.5" y="104.5" width="17.19999999999999" height="4.7" fill="none" stroke="#111" stroke-width="1.0" />
<rect x="244.5" y="109.2" width="17.19999999999999" height="4.1" fill="none" stroke="#111" stroke-width="1.0" />
<text x="35.4" y="102" font-size="5" text-anchor="start" font-weight="normal" fill="#111" stroke="#111" stroke-width="0.2" textLength="10.3" lengthAdjust="spacingAndGlyphs">pre-B</text>
<text x="51" y="102" font-size="5" text-anchor="start" font-weight="normal" fill="#111" stroke="#111" stroke-width="0.2" textLength="16.6" lengthAdjust="spacingAndGlyphs">mature</text>
<text x="47.4" y="127" font-size="5" text-anchor="start" font-weight="normal" fill="#111" stroke="#111" stroke-width="0.2" textLength="20.3" lengthAdjust="spacingAndGlyphs">immature</text>
<line x1="66.2" y1="122" x2="66.2" y2="117.6" stroke="#111" stroke-width="0.9" />
<path d="M64.5 119.39999999999999 L66.2 115.6 L67.9 119.39999999999999 Z" fill="#111"/>
<text x="18.6" y="100.8" font-size="5.1" text-anchor="start" font-weight="normal" fill="#111" stroke="#111" stroke-width="0.2" >10<tspan font-size="3.37" dy="-1.84">5</tspan></text>
<text x="18.6" y="108.9" font-size="5.1" text-anchor="start" font-weight="normal" fill="#111" stroke="#111" stroke-width="0.2" >10<tspan font-size="3.37" dy="-1.84">4</tspan></text>
<text x="18.6" y="116.9" font-size="5.1" text-anchor="start" font-weight="normal" fill="#111" stroke="#111" stroke-width="0.2" >10<tspan font-size="3.37" dy="-1.84">3</tspan></text>
<text x="18.6" y="126.1" font-size="5.1" text-anchor="start" font-weight="normal" fill="#111" stroke="#111" stroke-width="0.2" >10<tspan font-size="3.37" dy="-1.84">2</tspan></text>
<text x="22.7" y="130.4" font-size="5.1" text-anchor="start" font-weight="normal" fill="#111" stroke="#111" stroke-width="0.2" >0</text>
<text transform="translate(13.2 126.5) rotate(-90)" font-size="6.3" text-anchor="middle" fill="#111" stroke="#111" stroke-width="0.2" >B220</text>
<line x1="10.8" y1="116.3" x2="10.8" y2="99.8" stroke="#111" stroke-width="0.9" />
<path d="M9.100000000000001 101.6 L10.8 97.8 L12.5 101.6 Z" fill="#111"/>
<text x="34" y="143.8" font-size="5.1" text-anchor="start" font-weight="normal" fill="#111" stroke="#111" stroke-width="0.2" >0</text>
<text x="36.9" y="143.8" font-size="5.1" text-anchor="start" font-weight="normal" fill="#111" stroke="#111" stroke-width="0.2" >10<tspan font-size="3.37" dy="-1.84">2</tspan></text>
<text x="47" y="143.8" font-size="5.1" text-anchor="start" font-weight="normal" fill="#111" stroke="#111" stroke-width="0.2" >10<tspan font-size="3.37" dy="-1.84">3</tspan></text>
<text x="57.3" y="143.8" font-size="5.1" text-anchor="start" font-weight="normal" fill="#111" stroke="#111" stroke-width="0.2" >10<tspan font-size="3.37" dy="-1.84">4</tspan></text>
<text x="66.2" y="143.8" font-size="5.1" text-anchor="start" font-weight="normal" fill="#111" stroke="#111" stroke-width="0.2" >10<tspan font-size="3.37" dy="-1.84">5</tspan></text>
<text x="32.4" y="155.6" font-size="7.6" text-anchor="start" font-weight="normal" fill="#111" stroke="#111" stroke-width="0.2" textLength="8.6" lengthAdjust="spacingAndGlyphs">IgM</text>
<line x1="51" y1="153" x2="254.60000000000002" y2="153" stroke="#111" stroke-width="0.9" />
<path d="M253.00000000000003 151.4 L256.6 153 L253.00000000000003 154.6 Z" fill="#111"/>
<text x="54.4" y="180.8" font-size="7.3" text-anchor="middle" font-weight="normal" fill="#111" stroke="#111" stroke-width="0.2" textLength="9.8" lengthAdjust="spacingAndGlyphs">WT</text>
<text x="100.5" y="180.8" font-size="7.3" text-anchor="middle" font-weight="normal" fill="#111" stroke="#111" stroke-width="0.2" >R972Q</text>
<text x="149.2" y="180.8" font-size="7.3" text-anchor="middle" font-weight="normal" fill="#111" stroke="#111" stroke-width="0.2" >F971L</text>
<text x="196.8" y="180.8" font-size="7.3" text-anchor="middle" font-weight="normal" fill="#111" stroke="#111" stroke-width="0.2" >R972W</text>
<text x="244.5" y="180.8" font-size="7.3" text-anchor="middle" font-weight="normal" fill="#111" stroke="#111" stroke-width="0.2" >RAG1 KO</text>
<ellipse cx="60.3" cy="212.4" rx="3.1" ry="2.3" fill="#000" opacity="0.96" filter="url(#b1)"/>
<ellipse cx="63.3" cy="212.6" rx="1.8" ry="1.6" fill="#000" opacity="0.75" filter="url(#b1)"/>
<ellipse cx="59.099999999999994" cy="204" rx="1.6" ry="4" fill="#000" opacity="0.2" filter="url(#b1)"/>
<ellipse cx="60.599999999999994" cy="212.5" rx="4.6" ry="3.2" fill="#000" opacity="0.25" filter="url(#b2)"/>
<path d="M60.1 211.1h.01M49.8 211.6h.01M66.0 214.7h.01M69.4 212.6h.01M63.5 211.1h.01M58.3 210.5h.01M62.1 214.2h.01M54.6 214.0h.01M63.6 214.2h.01M56.6 212.9h.01M61.7 209.5h.01M57.1 217.3h.01M58.5 211.4h.01M54.5 211.1h.01M65.0 213.3h.01M58.0 212.5h.01M61.9 213.7h.01M57.5 213.3h.01M58.6 211.4h.01M58.0 210.7h.01M62.2 208.6h.01M61.3 218.4h.01M57.8 211.8h.01M60.5 215.9h.01M56.1 213.7h.01M60.4 216.8h.01M60.0 216.8h.01M57.6 213.2h.01M57.2 211.1h.01M56.7 211.6h.01M65.6 211.3h.01M68.5 216.0h.01M61.6 212.5h.01M61.7 210.8h.01M62.6 212.7h.01M54.4 212.5h.01M62.5 212.6h.01M61.7 212.5h.01M59.1 214.7h.01M65.1 211.8h.01M63.2 210.1h.01M64.6 210.6h.01M60.8 214.5h.01M59.1 212.5h.01M63.9 211.2h.01" stroke="#000" stroke-width="0.55" stroke-linecap="round" fill="none" opacity="0.45"/>
<path d="M59.6 208.9h.01M59.5 202.4h.01M58.6 204.2h.01M59.1 207.3h.01M57.0 204.8h.01M59.4 210.3h.01M57.1 202.0h.01M60.4 204.9h.01M60.6 204.9h.01M58.2 204.9h.01M60.8 207.6h.01M59.4 205.6h.01M60.6 207.2h.01M59.5 207.6h.01M59.3 201.2h.01M60.4 209.2h.01M61.1 204.8h.01M57.5 206.5h.01M58.3 198.6h.01M59.3 202.4h.01M59.2 203.4h.01M60.3 208.0h.01M59.8 209.1h.01M58.4 213.2h.01M56.7 207.6h.01" stroke="#000" stroke-width="0.5" stroke-linecap="round" fill="none" opacity="0.35"/>
<rect x="34.3" y="185" width="39.0" height="36.599999999999994" fill="none" stroke="#111" stroke-width="1.3" />
<line x1="33.3" y1="186.5" x2="33.3" y2="222.1" stroke="#111" stroke-width="1.5" stroke-dasharray="1.7 0.8 0.8 0.6 2.3 0.7 1.1 0.6"/>
<line x1="33.8" y1="222.6" x2="72.3" y2="222.6" stroke="#111" stroke-width="1.5" stroke-dasharray="1.7 0.8 0.8 0.6 2.3 0.7 1.1 0.6"/>
<line x1="31.699999999999996" y1="188.5" x2="34.3" y2="188.5" stroke="#111" stroke-width="0.9" />
<line x1="31.699999999999996" y1="196" x2="34.3" y2="196" stroke="#111" stroke-width="0.9" />
<line x1="31.699999999999996" y1="206.6" x2="34.3" y2="206.6" stroke="#111" stroke-width="0.9" />
<line x1="31.699999999999996" y1="213" x2="34.3" y2="213" stroke="#111" stroke-width="0.9" />
<line x1="31.699999999999996" y1="218.7" x2="34.3" y2="218.7" stroke="#111" stroke-width="0.9" />
<line x1="37.3" y1="221.6" x2="37.3" y2="224.2" stroke="#111" stroke-width="0.9" />
<line x1="50.3" y1="221.6" x2="50.3" y2="224.2" stroke="#111" stroke-width="0.9" />
<line x1="63.3" y1="221.6" x2="63.3" y2="224.2" stroke="#111" stroke-width="0.9" />
<rect x="56.4" y="197.5" width="5.399999999999999" height="12" fill="none" stroke="#111" stroke-width="1.0" />
<ellipse cx="106.3" cy="206.8" rx="1.9" ry="7.4" fill="#000" opacity="0.9" filter="url(#b1)"/>
<ellipse cx="106.89999999999999" cy="212.2" rx="2.7" ry="3.4" fill="#000" opacity="0.9" filter="url(#b1)"/>
<ellipse cx="110.3" cy="210.8" rx="2.0" ry="2.7" fill="#000" opacity="0.62" filter="url(#b1)"/>
<ellipse cx="106.3" cy="200.6" rx="1.5" ry="2.4" fill="#000" opacity="0.4" filter="url(#b1)"/>
<ellipse cx="107.69999999999999" cy="215.8" rx="2.4" ry="1.8" fill="#000" opacity="0.35" filter="url(#b1)"/>
<ellipse cx="107.69999999999999" cy="210.5" rx="4.6" ry="6" fill="#000" opacity="0.13" filter="url(#b2)"/>
<path d="M110.5 207.6h.01M108.0 203.7h.01M106.4 211.0h.01M104.2 200.0h.01M106.7 205.5h.01M105.0 208.8h.01M103.9 214.9h.01M110.8 209.7h.01M106.0 209.3h.01M107.4 205.7h.01M105.9 211.7h.01M105.2 206.5h.01M106.4 204.7h.01M108.3 203.3h.01M110.2 213.1h.01M107.6 213.7h.01M110.6 207.7h.01M107.5 206.6h.01M106.6 207.7h.01M107.9 212.1h.01M113.6 211.2h.01M110.2 208.4h.01M112.1 210.1h.01M107.2 208.2h.01M107.7 207.6h.01M108.1 218.1h.01M107.8 205.9h.01M102.6 209.0h.01M104.9 205.8h.01M108.0 211.2h.01M108.9 215.1h.01M105.0 206.3h.01M105.2 204.6h.01M105.8 205.4h.01M109.5 204.3h.01M113.6 199.5h.01M109.9 201.9h.01M106.3 203.6h.01M107.6 211.8h.01M106.5 206.3h.01M104.9 205.4h.01M105.3 206.2h.01M107.8 213.7h.01M105.7 199.7h.01M106.6 213.4h.01M104.8 211.2h.01M104.4 203.3h.01M108.2 200.5h.01M106.5 196.3h.01M104.7 211.2h.01M106.2 206.0h.01M109.0 204.9h.01M104.4 207.4h.01M107.3 210.0h.01M107.0 215.1h.01M109.0 208.7h.01M113.8 201.8h.01M108.2 205.6h.01M113.3 210.7h.01M109.7 211.3h.01M111.5 206.7h.01M110.0 201.0h.01M109.0 214.8h.01M109.9 212.2h.01M102.4 209.7h.01M106.6 216.7h.01M109.0 212.5h.01M111.0 211.9h.01M103.8 205.4h.01M101.8 215.2h.01M107.0 203.1h.01M108.8 207.3h.01M106.7 215.6h.01M101.9 202.2h.01M107.2 208.1h.01M110.6 207.6h.01M108.9 217.6h.01M103.8 202.4h.01M105.6 208.3h.01M104.5 210.5h.01" stroke="#000" stroke-width="0.55" stroke-linecap="round" fill="none" opacity="0.5"/>
<path d="M109.0 213.7h.01M111.5 212.6h.01M110.9 211.4h.01M107.4 210.3h.01M107.1 214.2h.01M108.3 208.6h.01M109.6 216.4h.01M108.4 215.1h.01M110.8 217.4h.01M110.1 209.5h.01M110.5 209.5h.01M109.1 212.7h.01M109.6 213.1h.01M111.7 213.2h.01M113.6 213.6h.01M108.7 214.3h.01M105.7 214.1h.01M112.9 208.2h.01M113.0 206.2h.01M112.5 209.9h.01M110.0 210.5h.01M109.4 212.7h.01M110.4 210.8h.01M110.6 210.0h.01M108.6 212.4h.01M112.1 207.9h.01M112.4 214.1h.01M110.9 214.6h.01M106.3 214.4h.01M109.1 211.7h.01" stroke="#000" stroke-width="0.55" stroke-linecap="round" fill="none" opacity="0.45"/>
<rect x="81.6" y="185" width="38.7" height="36.599999999999994" fill="none" stroke="#111" stroke-width="1.3" />
<line x1="80.6" y1="186.5" x2="80.6" y2="222.1" stroke="#111" stroke-width="1.5" stroke-dasharray="1.7 0.8 0.8 0.6 2.3 0.7 1.1 0.6"/>
<line x1="81.1" y1="222.6" x2="119.3" y2="222.6" stroke="#111" stroke-width="1.5" stroke-dasharray="1.7 0.8 0.8 0.6 2.3 0.7 1.1 0.6"/>
<line x1="79.0" y1="188.5" x2="81.6" y2="188.5" stroke="#111" stroke-width="0.9" />
<line x1="79.0" y1="196" x2="81.6" y2="196" stroke="#111" stroke-width="0.9" />
<line x1="79.0" y1="206.6" x2="81.6" y2="206.6" stroke="#111" stroke-width="0.9" />
<line x1="79.0" y1="213" x2="81.6" y2="213" stroke="#111" stroke-width="0.9" />
<line x1="79.0" y1="218.7" x2="81.6" y2="218.7" stroke="#111" stroke-width="0.9" />
<line x1="84.6" y1="221.6" x2="84.6" y2="224.2" stroke="#111" stroke-width="0.9" />
<line x1="97.6" y1="221.6" x2="97.6" y2="224.2" stroke="#111" stroke-width="0.9" />
<line x1="110.6" y1="221.6" x2="110.6" y2="224.2" stroke="#111" stroke-width="0.9" />
<rect x="103.5" y="197.5" width="5.200000000000003" height="12" fill="none" stroke="#111" stroke-width="1.0" />
<text x="106.39999999999999" y="195.7" font-size="5.5" text-anchor="middle" font-weight="normal" fill="#111" stroke="#111" stroke-width="0.2" >23.7</text>
<ellipse cx="154.04999999999998" cy="206.8" rx="1.9" ry="7.4" fill="#000" opacity="0.9" filter="url(#b1)"/>
<ellipse cx="154.65" cy="212.2" rx="2.7" ry="3.4" fill="#000" opacity="0.9" filter="url(#b1)"/>
<ellipse cx="158.04999999999998" cy="210.8" rx="2.0" ry="2.7" fill="#000" opacity="0.62" filter="url(#b1)"/>
<ellipse cx="154.04999999999998" cy="200.6" rx="1.5" ry="2.4" fill="#000" opacity="0.4" filter="url(#b1)"/>
<ellipse cx="155.45" cy="215.8" rx="2.4" ry="1.8" fill="#000" opacity="0.35" filter="url(#b1)"/>
<ellipse cx="155.45" cy="210.5" rx="4.6" ry="6" fill="#000" opacity="0.13" filter="url(#b2)"/>
<path d="M154.1 212.5h.01M151.3 207.9h.01M156.4 208.8h.01M153.2 216.5h.01M151.1 209.7h.01M154.8 207.5h.01M157.0 210.5h.01M154.8 212.5h.01M155.0 211.9h.01M158.7 210.5h.01M155.4 206.6h.01M159.1 214.0h.01M156.7 210.8h.01M153.0 209.7h.01M156.1 203.7h.01M152.7 208.8h.01M160.5 211.1h.01M151.3 215.5h.01M157.7 212.8h.01M153.8 208.8h.01M161.2 214.8h.01M167.7 200.5h.01M151.0 207.3h.01M152.8 206.1h.01M157.2 215.8h.01M151.4 212.1h.01M157.6 210.6h.01M159.0 215.0h.01M153.1 210.0h.01M156.0 203.6h.01M154.6 214.3h.01M156.3 209.5h.01M162.3 212.4h.01M157.9 205.2h.01M158.6 207.2h.01M154.8 207.4h.01M151.8 212.2h.01M151.9 213.4h.01M153.1 215.6h.01M156.2 215.1h.01M152.3 212.2h.01M157.3 210.8h.01M155.0 206.6h.01M146.4 211.9h.01M151.8 204.3h.01M156.3 196.5h.01M153.2 212.8h.01M155.4 208.4h.01M153.2 210.3h.01M151.1 206.7h.01M157.5 204.9h.01M154.9 207.6h.01M151.9 199.8h.01M152.9 205.7h.01M152.5 209.1h.01M156.2 212.5h.01M156.3 203.7h.01M159.1 211.2h.01M157.3 203.2h.01M158.3 220.7h.01M156.7 214.9h.01M153.7 210.2h.01M155.2 212.7h.01M155.8 210.8h.01M152.8 203.6h.01M152.6 212.1h.01M159.0 206.3h.01M150.8 211.3h.01M155.2 205.2h.01M159.5 212.9h.01M155.3 202.7h.01M158.8 215.0h.01M157.6 217.5h.01M152.5 204.6h.01M157.7 211.7h.01M155.2 207.1h.01M158.2 210.7h.01M157.7 203.9h.01" stroke="#000" stroke-width="0.55" stroke-linecap="round" fill="none" opacity="0.5"/>
<path d="M158.5 212.1h.01M160.3 206.7h.01M157.9 209.3h.01M158.4 210.6h.01M159.2 213.0h.01M158.9 210.8h.01M160.1 214.6h.01M158.5 209.0h.01M161.8 213.4h.01M162.6 209.9h.01M157.6 210.6h.01M158.2 207.2h.01M160.0 207.2h.01M152.9 210.9h.01M156.2 211.7h.01M156.1 207.5h.01M154.3 207.8h.01M157.8 216.5h.01M159.7 209.3h.01M161.0 211.6h.01M154.6 206.5h.01M155.4 209.5h.01M158.4 209.4h.01M157.3 208.6h.01M158.7 213.0h.01M156.2 214.2h.01M156.7 210.3h.01M161.7 212.6h.01M158.4 206.1h.01M158.5 210.1h.01" stroke="#000" stroke-width="0.55" stroke-linecap="round" fill="none" opacity="0.45"/>
<rect x="129.9" y="185" width="39.0" height="36.599999999999994" fill="none" stroke="#111" stroke-width="1.3" />
<line x1="128.9" y1="186.5" x2="128.9" y2="222.1" stroke="#111" stroke-width="1.5" stroke-dasharray="1.7 0.8 0.8 0.6 2.3 0.7 1.1 0.6"/>
<line x1="129.4" y1="222.6" x2="167.9" y2="222.6" stroke="#111" stroke-width="1.5" stroke-dasharray="1.7 0.8 0.8 0.6 2.3 0.7 1.1 0.6"/>
<line x1="127.30000000000001" y1="188.5" x2="129.9" y2="188.5" stroke="#111" stroke-width="0.9" />
<line x1="127.30000000000001" y1="196" x2="129.9" y2="196" stroke="#111" stroke-width="0.9" />
<line x1="127.30000000000001" y1="206.6" x2="129.9" y2="206.6" stroke="#111" stroke-width="0.9" />
<line x1="127.30000000000001" y1="213" x2="129.9" y2="213" stroke="#111" stroke-width="0.9" />
<line x1="127.30000000000001" y1="218.7" x2="129.9" y2="218.7" stroke="#111" stroke-width="0.9" />
<line x1="132.9" y1="221.6" x2="132.9" y2="224.2" stroke="#111" stroke-width="0.9" />
<line x1="145.9" y1="221.6" x2="145.9" y2="224.2" stroke="#111" stroke-width="0.9" />
<line x1="158.9" y1="221.6" x2="158.9" y2="224.2" stroke="#111" stroke-width="0.9" />
<rect x="151.5" y="197.5" width="4.699999999999989" height="12" fill="none" stroke="#111" stroke-width="1.0" />
<text x="154.15" y="195.7" font-size="5.5" text-anchor="middle" font-weight="normal" fill="#111" stroke="#111" stroke-width="0.2" >27.1</text>
<ellipse cx="200.89999999999998" cy="206.8" rx="1.9" ry="7.4" fill="#000" opacity="0.9" filter="url(#b1)"/>
<ellipse cx="201.5" cy="212.2" rx="2.7" ry="3.4" fill="#000" opacity="0.9" filter="url(#b1)"/>
<ellipse cx="204.89999999999998" cy="210.8" rx="2.0" ry="2.7" fill="#000" opacity="0.62" filter="url(#b1)"/>
<ellipse cx="200.89999999999998" cy="200.6" rx="1.5" ry="2.4" fill="#000" opacity="0.4" filter="url(#b1)"/>
<ellipse cx="202.29999999999998" cy="215.8" rx="2.4" ry="1.8" fill="#000" opacity="0.35" filter="url(#b1)"/>
<ellipse cx="202.29999999999998" cy="210.5" rx="4.6" ry="6" fill="#000" opacity="0.13" filter="url(#b2)"/>
<path d="M201.6 215.0h.01M200.7 218.4h.01M202.3 210.3h.01M201.3 210.0h.01M206.0 210.7h.01M199.4 205.7h.01M205.4 212.2h.01M199.8 208.9h.01M202.5 212.4h.01M199.5 210.0h.01M198.6 205.7h.01M201.6 216.2h.01M202.0 217.8h.01M203.3 215.9h.01M201.8 200.6h.01M196.1 207.4h.01M207.1 208.7h.01M200.8 212.6h.01M201.2 207.6h.01M202.8 211.5h.01M200.6 205.5h.01M206.7 205.2h.01M199.7 208.6h.01M201.8 211.0h.01M206.6 216.0h.01M202.1 210.1h.01M204.9 208.9h.01M202.7 204.1h.01M203.3 209.1h.01M198.2 210.7h.01M208.4 211.2h.01M200.0 215.9h.01M203.2 210.5h.01M206.4 214.1h.01M208.0 205.5h.01M201.0 209.1h.01M202.8 203.6h.01M203.0 202.6h.01M200.6 208.3h.01M202.9 211.1h.01M200.1 211.2h.01M203.0 209.1h.01M202.3 207.0h.01M207.3 216.3h.01M202.9 216.1h.01M199.8 206.9h.01M201.3 211.7h.01M201.3 205.0h.01M198.0 204.0h.01M204.8 211.9h.01M198.3 218.8h.01M200.9 207.2h.01M201.7 209.7h.01M201.1 209.3h.01M204.4 214.0h.01M200.3 208.7h.01M200.1 207.3h.01M201.9 207.9h.01M203.9 204.9h.01M203.3 213.2h.01M201.3 207.9h.01M203.9 207.6h.01M201.3 210.5h.01M195.3 213.0h.01M202.9 212.4h.01M198.4 207.4h.01M203.4 212.3h.01M200.6 207.2h.01M206.4 210.8h.01M205.6 202.8h.01M203.4 206.8h.01M200.8 215.8h.01M199.3 204.8h.01M200.3 208.3h.01M202.3 211.6h.01M205.7 211.8h.01M207.1 214.8h.01M203.7 208.8h.01M206.0 208.0h.01M205.0 209.7h.01" stroke="#000" stroke-width="0.55" stroke-linecap="round" fill="none" opacity="0.5"/>
<path d="M204.1 212.7h.01M206.6 211.8h.01M207.4 211.3h.01M203.8 211.2h.01M208.9 208.5h.01M201.6 211.0h.01M203.2 214.5h.01M205.5 208.6h.01M205.1 208.6h.01M206.2 213.4h.01M207.6 213.7h.01M205.2 214.1h.01M206.2 207.7h.01M207.9 208.7h.01M204.0 207.0h.01M203.6 205.6h.01M202.8 208.9h.01M202.8 210.0h.01M206.8 210.2h.01M206.1 213.9h.01M204.0 214.8h.01M205.1 210.9h.01M205.9 214.5h.01M202.8 213.4h.01M204.2 211.2h.01M203.2 204.5h.01M207.5 213.0h.01M203.1 208.7h.01M202.8 210.9h.01M209.2 210.6h.01" stroke="#000" stroke-width="0.55" stroke-linecap="round" fill="none" opacity="0.45"/>
<rect x="177.9" y="185" width="38.79999999999998" height="36.599999999999994" fill="none" stroke="#111" stroke-width="1.3" />
<line x1="176.9" y1="186.5" x2="176.9" y2="222.1" stroke="#111" stroke-width="1.5" stroke-dasharray="1.7 0.8 0.8 0.6 2.3 0.7 1.1 0.6"/>
<line x1="177.4" y1="222.6" x2="215.7" y2="222.6" stroke="#111" stroke-width="1.5" stroke-dasharray="1.7 0.8 0.8 0.6 2.3 0.7 1.1 0.6"/>
<line x1="175.3" y1="188.5" x2="177.9" y2="188.5" stroke="#111" stroke-width="0.9" />
<line x1="175.3" y1="196" x2="177.9" y2="196" stroke="#111" stroke-width="0.9" />
<line x1="175.3" y1="206.6" x2="177.9" y2="206.6" stroke="#111" stroke-width="0.9" />
<line x1="175.3" y1="213" x2="177.9" y2="213" stroke="#111" stroke-width="0.9" />
<line x1="175.3" y1="218.7" x2="177.9" y2="218.7" stroke="#111" stroke-width="0.9" />
<line x1="180.9" y1="221.6" x2="180.9" y2="224.2" stroke="#111" stroke-width="0.9" />
<line x1="193.9" y1="221.6" x2="193.9" y2="224.2" stroke="#111" stroke-width="0.9" />
<line x1="206.9" y1="221.6" x2="206.9" y2="224.2" stroke="#111" stroke-width="0.9" />
<rect x="198.2" y="197.5" width="5.0" height="12" fill="none" stroke="#111" stroke-width="1.0" />
<text x="201.0" y="195.7" font-size="5.5" text-anchor="middle" font-weight="normal" fill="#111" stroke="#111" stroke-width="0.2" >23.7</text>
<ellipse cx="249.2" cy="206.8" rx="1.9" ry="7.4" fill="#000" opacity="0.9" filter="url(#b1)"/>
<ellipse cx="249.8" cy="212.2" rx="2.7" ry="3.4" fill="#000" opacity="0.9" filter="url(#b1)"/>
<ellipse cx="253.2" cy="210.8" rx="2.0" ry="2.7" fill="#000" opacity="0.62" filter="url(#b1)"/>
<ellipse cx="249.2" cy="200.6" rx="1.5" ry="2.4" fill="#000" opacity="0.4" filter="url(#b1)"/>
<ellipse cx="250.6" cy="215.8" rx="2.4" ry="1.8" fill="#000" opacity="0.35" filter="url(#b1)"/>
<ellipse cx="250.6" cy="210.5" rx="4.6" ry="6" fill="#000" opacity="0.13" filter="url(#b2)"/>
<path d="M245.8 213.2h.01M248.0 201.6h.01M251.6 209.5h.01M251.0 213.0h.01M253.2 199.2h.01M251.0 215.2h.01M253.9 204.4h.01M245.4 204.0h.01M251.6 208.5h.01M252.8 208.6h.01M247.0 204.0h.01M249.8 213.6h.01M254.6 204.5h.01M251.7 209.2h.01M247.3 203.7h.01M254.8 207.3h.01M250.3 211.8h.01M251.5 212.9h.01M248.3 207.6h.01M251.2 211.2h.01M248.5 201.1h.01M252.9 213.7h.01M253.1 208.9h.01M245.5 207.5h.01M256.1 211.0h.01M251.2 201.4h.01M248.7 214.4h.01M251.4 208.9h.01M254.0 213.0h.01M252.0 208.7h.01M251.7 214.6h.01M251.4 203.3h.01M250.0 208.1h.01M251.7 215.8h.01M250.3 207.3h.01M252.5 211.8h.01M248.3 211.8h.01M251.0 211.2h.01M246.3 199.7h.01M246.3 201.1h.01M253.2 214.4h.01M246.9 216.8h.01M247.4 205.5h.01M256.5 203.1h.01M252.5 213.6h.01M253.6 212.8h.01M251.2 217.1h.01M250.3 210.0h.01M251.6 207.8h.01M250.1 215.5h.01M255.0 212.5h.01M250.2 207.1h.01M249.4 207.7h.01M249.3 209.1h.01M249.9 214.9h.01M246.6 207.5h.01M252.8 207.5h.01M249.4 212.3h.01M250.3 204.7h.01M250.9 212.7h.01M245.8 214.1h.01M245.8 213.0h.01M246.9 210.7h.01M250.4 214.6h.01M250.3 207.4h.01M248.5 210.6h.01M249.9 213.9h.01M251.7 215.7h.01M252.5 210.4h.01M250.3 212.6h.01M252.7 202.9h.01M251.6 207.8h.01M251.4 213.5h.01M245.2 209.0h.01M253.3 201.0h.01M251.2 209.6h.01M249.0 214.0h.01M253.1 209.7h.01M254.5 216.8h.01M251.1 213.7h.01" stroke="#000" stroke-width="0.55" stroke-linecap="round" fill="none" opacity="0.5"/>
<path d="M255.3 215.5h.01M255.1 212.8h.01M253.8 212.9h.01M256.7 210.9h.01M253.3 208.6h.01M258.6 210.0h.01M252.6 209.6h.01M255.9 212.0h.01M249.5 211.4h.01M257.2 211.0h.01M253.8 218.5h.01M253.1 210.5h.01M254.8 217.3h.01M254.4 206.9h.01M253.3 210.5h.01M255.1 210.2h.01M253.8 207.8h.01M251.1 211.2h.01M256.8 208.6h.01M250.4 214.1h.01M254.3 213.1h.01M253.2 211.7h.01M253.4 211.1h.01M257.1 210.1h.01M252.8 211.1h.01M253.2 215.5h.01M253.3 212.1h.01M251.1 212.5h.01M254.9 212.8h.01M250.4 209.5h.01" stroke="#000" stroke-width="0.55" stroke-linecap="round" fill="none" opacity="0.45"/>
<rect x="225.5" y="185" width="38.80000000000001" height="36.599999999999994" fill="none" stroke="#111" stroke-width="1.3" />
<line x1="224.5" y1="186.5" x2="224.5" y2="222.1" stroke="#111" stroke-width="1.5" stroke-dasharray="1.7 0.8 0.8 0.6 2.3 0.7 1.1 0.6"/>
<line x1="225.0" y1="222.6" x2="263.3" y2="222.6" stroke="#111" stroke-width="1.5" stroke-dasharray="1.7 0.8 0.8 0.6 2.3 0.7 1.1 0.6"/>
<line x1="222.9" y1="188.5" x2="225.5" y2="188.5" stroke="#111" stroke-width="0.9" />
<line x1="222.9" y1="196" x2="225.5" y2="196" stroke="#111" stroke-width="0.9" />
<line x1="222.9" y1="206.6" x2="225.5" y2="206.6" stroke="#111" stroke-width="0.9" />
<line x1="222.9" y1="213" x2="225.5" y2="213" stroke="#111" stroke-width="0.9" />
<line x1="222.9" y1="218.7" x2="225.5" y2="218.7" stroke="#111" stroke-width="0.9" />
<line x1="228.5" y1="221.6" x2="228.5" y2="224.2" stroke="#111" stroke-width="0.9" />
<line x1="241.5" y1="221.6" x2="241.5" y2="224.2" stroke="#111" stroke-width="0.9" />
<line x1="254.5" y1="221.6" x2="254.5" y2="224.2" stroke="#111" stroke-width="0.9" />
<rect x="246.7" y="197.5" width="4.600000000000023" height="12" fill="none" stroke="#111" stroke-width="1.0" />
<text x="249.3" y="195.7" font-size="5.5" text-anchor="middle" font-weight="normal" fill="#111" stroke="#111" stroke-width="0.2" >28.0</text>
<text x="35.7" y="192.5" font-size="5" text-anchor="start" font-weight="normal" fill="#111" stroke="#111" stroke-width="0.2" textLength="24.2" lengthAdjust="spacingAndGlyphs">pro-pre-B I</text>
<text x="45.8" y="197.5" font-size="5" text-anchor="start" font-weight="normal" fill="#111" stroke="#111" stroke-width="0.2" >5.55</text>
<text x="21.2" y="190.4" font-size="5.1" text-anchor="start" font-weight="normal" fill="#111" stroke="#111" stroke-width="0.2" >10<tspan font-size="3.37" dy="-1.84">5</tspan></text>
<text x="21.2" y="197.9" font-size="5.1" text-anchor="start" font-weight="normal" fill="#111" stroke="#111" stroke-width="0.2" >10<tspan font-size="3.37" dy="-1.84">4</tspan></text>
<text x="21.2" y="208.5" font-size="5.1" text-anchor="start" font-weight="normal" fill="#111" stroke="#111" stroke-width="0.2" >10<tspan font-size="3.37" dy="-1.84">3</tspan></text>
<text x="25.4" y="215" font-size="5.1" text-anchor="start" font-weight="normal" fill="#111" stroke="#111" stroke-width="0.2" >0</text>
<text x="19.2" y="220.6" font-size="5.1" text-anchor="start" font-weight="normal" fill="#111" stroke="#111" stroke-width="0.2" >-10<tspan font-size="3.37" dy="-1.84">3</tspan></text>
<text transform="translate(13.2 215.8) rotate(-90)" font-size="6.3" text-anchor="middle" fill="#111" stroke="#111" stroke-width="0.2" >c-kit</text>
<line x1="11" y1="205.6" x2="11" y2="188.8" stroke="#111" stroke-width="0.9" />
<path d="M9.3 190.60000000000002 L11 186.8 L12.7 190.60000000000002 Z" fill="#111"/>
<text x="33.8" y="231.6" font-size="5.1" text-anchor="start" font-weight="normal" fill="#111" stroke="#111" stroke-width="0.2" >10<tspan font-size="3.37" dy="-1.84">4</tspan></text>
<text x="46.9" y="231.6" font-size="5.1" text-anchor="start" font-weight="normal" fill="#111" stroke="#111" stroke-width="0.2" >10<tspan font-size="3.37" dy="-1.84">3</tspan></text>
<text x="60.5" y="231.6" font-size="5.1" text-anchor="start" font-weight="normal" fill="#111" stroke="#111" stroke-width="0.2" >10<tspan font-size="3.37" dy="-1.84">4</tspan></text>
<text x="33.6" y="243.1" font-size="6.4" text-anchor="start" font-weight="normal" fill="#111" stroke="#111" stroke-width="0.2" textLength="12.8" lengthAdjust="spacingAndGlyphs">B220</text>
<line x1="55" y1="240.8" x2="254.60000000000002" y2="240.8" stroke="#111" stroke-width="0.9" />
<path d="M253.00000000000003 239.20000000000002 L256.6 240.8 L253.00000000000003 242.4 Z" fill="#111"/>
<text x="54.6" y="253.3" font-size="7.3" text-anchor="middle" font-weight="normal" fill="#111" stroke="#111" stroke-width="0.2" textLength="9.8" lengthAdjust="spacingAndGlyphs">WT</text>
<text x="100.5" y="253.3" font-size="7.3" text-anchor="middle" font-weight="normal" fill="#111" stroke="#111" stroke-width="0.2" >R972Q</text>
<text x="149.2" y="253.3" font-size="7.3" text-anchor="middle" font-weight="normal" fill="#111" stroke="#111" stroke-width="0.2" >F971L</text>
<text x="190" y="253.3" font-size="7.3" text-anchor="middle" font-weight="normal" fill="#111" stroke="#111" stroke-width="0.2" >R972W</text>
<text x="244.5" y="253.3" font-size="7.3" text-anchor="middle" font-weight="normal" fill="#111" stroke="#111" stroke-width="0.2" >RAG1 KO</text>
<ellipse cx="59.9" cy="281" rx="3.2" ry="2.8" fill="#000" opacity="0.92" filter="url(#b1)"/>
<ellipse cx="63.1" cy="282" rx="2.3" ry="2" fill="#000" opacity="0.55" filter="url(#b1)"/>
<ellipse cx="59.9" cy="276.4" rx="1.8" ry="3" fill="#000" opacity="0.55" filter="url(#b1)"/>
<ellipse cx="60.5" cy="286.5" rx="3.4" ry="3.6" fill="#000" opacity="0.24" filter="url(#b2)"/>
<ellipse cx="60.5" cy="281" rx="5.4" ry="3.6" fill="#000" opacity="0.2" filter="url(#b2)"/>
<path d="M52.9 289.6h.01M60.9 289.5h.01M67.3 287.0h.01M59.2 281.8h.01M63.7 274.5h.01M65.6 288.8h.01M64.0 281.5h.01M62.4 276.0h.01M58.2 280.8h.01M58.8 289.6h.01M62.7 272.6h.01M64.9 284.8h.01M60.5 279.7h.01M67.8 283.7h.01M62.1 276.0h.01M59.4 286.4h.01M61.6 280.8h.01M60.2 276.0h.01M53.4 284.9h.01M56.6 276.1h.01M62.2 286.5h.01M60.1 287.3h.01M61.4 269.6h.01M66.4 278.1h.01M66.2 281.5h.01M61.0 280.7h.01M58.0 285.2h.01M66.5 288.1h.01M59.4 284.7h.01M64.6 285.1h.01M57.1 291.2h.01M58.8 279.2h.01M61.7 283.6h.01M59.4 277.2h.01M57.3 282.7h.01M55.2 287.4h.01M63.3 283.5h.01M61.9 279.0h.01M59.4 286.4h.01M59.6 289.3h.01M64.5 285.5h.01M60.4 278.7h.01M60.7 278.6h.01M60.0 281.1h.01M59.4 287.4h.01M58.4 279.5h.01M65.0 283.7h.01M62.8 280.0h.01M62.3 288.2h.01M61.3 284.4h.01M65.1 285.1h.01M65.2 277.6h.01M55.6 277.9h.01M62.6 279.8h.01M54.8 290.2h.01M65.4 280.4h.01M59.1 279.7h.01M63.5 284.5h.01M61.6 288.4h.01M58.6 277.6h.01M61.2 282.4h.01M61.5 284.4h.01M56.3 289.3h.01M55.5 284.0h.01M62.3 286.1h.01M61.9 279.2h.01M60.6 276.9h.01M60.7 281.7h.01M55.2 291.8h.01M59.3 284.9h.01M65.4 282.5h.01M59.9 277.9h.01M58.8 279.6h.01M60.7 285.9h.01M61.8 288.9h.01M62.5 283.6h.01M51.4 281.9h.01M62.0 276.4h.01M61.0 279.6h.01M60.5 282.4h.01M60.3 282.4h.01M62.3 283.9h.01M59.0 286.4h.01M61.4 284.2h.01M66.8 289.6h.01M68.2 281.6h.01M62.5 284.6h.01M61.5 282.0h.01M63.9 287.4h.01M68.2 280.4h.01" stroke="#000" stroke-width="0.55" stroke-linecap="round" fill="none" opacity="0.5"/>
<path d="M62.2 285.2h.01M60.6 280.0h.01M65.8 282.5h.01M61.4 281.9h.01M60.4 284.3h.01M56.6 284.2h.01M60.7 287.2h.01M56.9 289.6h.01M60.5 283.9h.01M64.5 285.3h.01M61.7 292.4h.01M61.3 287.2h.01M63.3 286.2h.01M61.3 287.1h.01M60.3 290.0h.01M61.8 292.1h.01M62.0 283.1h.01M62.0 286.7h.01M60.6 290.7h.01M62.1 282.4h.01M65.6 287.1h.01M57.6 286.5h.01M62.2 284.0h.01M59.2 281.8h.01M61.7 285.9h.01M64.5 288.4h.01M61.7 285.6h.01M63.3 283.2h.01M61.8 289.1h.01M59.4 283.8h.01M63.7 293.4h.01M62.0 293.4h.01M62.2 287.0h.01M60.3 283.6h.01M63.2 285.7h.01M59.7 288.7h.01M62.2 285.2h.01M61.6 287.1h.01M61.4 287.1h.01M60.2 279.8h.01" stroke="#000" stroke-width="0.55" stroke-linecap="round" fill="none" opacity="0.4"/>
<path d="M63.2 283.2h.01M63.8 281.3h.01M65.9 279.2h.01M64.7 280.5h.01M65.3 282.1h.01M64.7 280.6h.01M66.6 281.2h.01M61.3 283.3h.01M65.5 280.0h.01M64.4 279.3h.01M64.8 278.4h.01M66.7 281.9h.01M62.3 281.9h.01M61.3 280.1h.01M62.3 282.3h.01M66.1 278.6h.01M64.9 281.9h.01M63.8 285.4h.01M61.1 283.4h.01M67.8 280.4h.01M62.0 283.2h.01M59.1 280.9h.01M61.4 281.0h.01M63.3 278.7h.01M65.7 283.1h.01" stroke="#000" stroke-width="0.55" stroke-linecap="round" fill="none" opacity="0.4"/>
<rect x="34" y="257.3" width="40.400000000000006" height="37.69999999999999" fill="none" stroke="#111" stroke-width="1.3" />
<line x1="33.0" y1="258.8" x2="33.0" y2="295.5" stroke="#111" stroke-width="1.5" stroke-dasharray="1.7 0.8 0.8 0.6 2.3 0.7 1.1 0.6"/>
<line x1="33.5" y1="296.0" x2="73.4" y2="296.0" stroke="#111" stroke-width="1.5" stroke-dasharray="1.7 0.8 0.8 0.6 2.3 0.7 1.1 0.6"/>
<line x1="31.4" y1="261.2" x2="34" y2="261.2" stroke="#111" stroke-width="0.9" />
<line x1="31.4" y1="267.5" x2="34" y2="267.5" stroke="#111" stroke-width="0.9" />
<line x1="31.4" y1="273.7" x2="34" y2="273.7" stroke="#111" stroke-width="0.9" />
<line x1="31.4" y1="280.2" x2="34" y2="280.2" stroke="#111" stroke-width="0.9" />
<line x1="31.4" y1="286.4" x2="34" y2="286.4" stroke="#111" stroke-width="0.9" />
<line x1="31.4" y1="292.3" x2="34" y2="292.3" stroke="#111" stroke-width="0.9" />
<line x1="37" y1="295" x2="37" y2="297.6" stroke="#111" stroke-width="0.9" />
<line x1="50" y1="295" x2="50" y2="297.6" stroke="#111" stroke-width="0.9" />
<line x1="63" y1="295" x2="63" y2="297.6" stroke="#111" stroke-width="0.9" />
<rect x="57.9" y="269.6" width="5.200000000000003" height="9.799999999999955" fill="none" stroke="#111" stroke-width="1.0" />
<ellipse cx="107.75" cy="281.6" rx="3.9" ry="4.2" fill="#000" opacity="0.95" filter="url(#b1)"/>
<ellipse cx="111.14999999999999" cy="281" rx="2.3" ry="2.4" fill="#000" opacity="0.6" filter="url(#b1)"/>
<ellipse cx="106.55" cy="276" rx="1.8" ry="2.8" fill="#000" opacity="0.55" filter="url(#b1)"/>
<ellipse cx="107.14999999999999" cy="288.5" rx="2.0" ry="3.2" fill="#000" opacity="0.4" filter="url(#b1)"/>
<ellipse cx="107.55" cy="287" rx="3.2" ry="3.4" fill="#000" opacity="0.2" filter="url(#b2)"/>
<path d="M102.8 285.3h.01M107.5 279.7h.01M105.5 284.9h.01M110.8 281.3h.01M99.3 285.9h.01M108.4 274.4h.01M105.5 282.5h.01M106.2 283.8h.01M104.3 285.2h.01M98.4 284.0h.01M105.3 282.0h.01M109.2 288.2h.01M103.9 282.1h.01M103.9 282.7h.01M105.3 277.4h.01M110.7 284.0h.01M107.1 288.1h.01M101.9 284.1h.01M112.3 281.0h.01M104.3 279.1h.01M111.1 286.9h.01M108.2 286.4h.01M105.0 280.8h.01M109.8 278.5h.01M107.8 282.3h.01M104.4 283.3h.01M103.0 279.7h.01M100.8 277.1h.01M104.3 284.0h.01M107.1 277.2h.01M106.3 291.9h.01M107.3 284.1h.01M100.3 280.3h.01M110.8 276.4h.01M104.2 279.3h.01M106.7 284.9h.01M101.5 285.3h.01M98.6 278.6h.01M108.4 277.5h.01M104.4 280.1h.01M112.2 278.1h.01M110.1 290.6h.01M105.8 278.9h.01M107.0 278.1h.01M105.8 277.8h.01M102.2 275.6h.01M110.0 279.4h.01M103.3 286.8h.01M106.4 280.9h.01M104.6 282.3h.01M106.0 280.5h.01M106.4 285.6h.01M106.4 287.8h.01M110.1 277.9h.01M103.9 276.8h.01M104.5 285.3h.01M105.9 280.2h.01M107.3 273.0h.01M108.0 281.5h.01M109.1 281.0h.01M110.2 286.7h.01M106.0 284.7h.01M104.1 279.2h.01M103.4 281.4h.01M103.0 277.6h.01M106.2 276.0h.01M108.8 278.3h.01M106.1 280.9h.01M110.2 284.8h.01M106.2 279.7h.01M109.7 281.6h.01M103.6 282.8h.01M109.0 282.1h.01M107.1 288.5h.01M105.2 285.4h.01M112.0 289.4h.01M103.2 284.5h.01M107.4 292.3h.01M111.0 286.5h.01M110.8 284.6h.01M103.6 291.7h.01M101.5 285.5h.01M109.5 283.1h.01M110.2 282.2h.01M109.6 283.3h.01M104.6 286.4h.01M105.1 284.9h.01M103.6 283.3h.01M108.7 287.1h.01M103.4 280.0h.01" stroke="#000" stroke-width="0.55" stroke-linecap="round" fill="none" opacity="0.5"/>
<path d="M107.0 284.0h.01M108.5 289.3h.01M105.2 289.1h.01M108.2 293.7h.01M106.3 291.3h.01M106.3 286.4h.01M106.1 288.2h.01M103.7 286.1h.01M110.3 281.5h.01M109.0 289.8h.01M106.1 284.8h.01M109.6 286.2h.01M107.7 286.6h.01M104.6 290.7h.01M108.5 284.3h.01M109.5 283.3h.01M104.2 290.1h.01M106.1 287.3h.01M110.6 283.9h.01M108.4 286.0h.01M107.3 286.6h.01M105.3 287.5h.01M105.0 287.4h.01M104.9 286.4h.01M107.3 282.8h.01M106.9 289.6h.01M107.3 290.3h.01M104.8 289.2h.01M107.7 278.5h.01M107.0 290.2h.01M106.9 287.5h.01M106.7 286.8h.01M104.7 285.1h.01M102.2 294.1h.01M107.0 288.1h.01M108.4 289.0h.01M106.9 282.3h.01M104.4 292.8h.01M108.0 289.5h.01" stroke="#000" stroke-width="0.55" stroke-linecap="round" fill="none" opacity="0.4"/>
<path d="M108.1 280.0h.01M111.0 279.5h.01M113.1 279.5h.01M109.5 278.8h.01M111.2 283.3h.01M110.9 280.9h.01M109.6 282.4h.01M110.4 284.1h.01M109.8 280.2h.01M109.3 277.5h.01M110.9 281.1h.01M106.9 278.8h.01M108.1 280.3h.01M108.2 282.3h.01M113.1 279.7h.01M110.5 279.0h.01M113.4 278.9h.01M108.7 280.9h.01M108.6 285.8h.01M110.0 280.5h.01M108.2 280.8h.01M109.1 280.1h.01M112.6 279.8h.01M111.4 279.8h.01M112.7 279.5h.01" stroke="#000" stroke-width="0.55" stroke-linecap="round" fill="none" opacity="0.4"/>
<rect x="81.6" y="257.3" width="38.30000000000001" height="37.69999999999999" fill="none" stroke="#111" stroke-width="1.3" />
<line x1="80.6" y1="258.8" x2="80.6" y2="295.5" stroke="#111" stroke-width="1.5" stroke-dasharray="1.7 0.8 0.8 0.6 2.3 0.7 1.1 0.6"/>
<line x1="81.1" y1="296.0" x2="118.9" y2="296.0" stroke="#111" stroke-width="1.5" stroke-dasharray="1.7 0.8 0.8 0.6 2.3 0.7 1.1 0.6"/>
<line x1="79.0" y1="261.2" x2="81.6" y2="261.2" stroke="#111" stroke-width="0.9" />
<line x1="79.0" y1="267.5" x2="81.6" y2="267.5" stroke="#111" stroke-width="0.9" />
<line x1="79.0" y1="273.7" x2="81.6" y2="273.7" stroke="#111" stroke-width="0.9" />
<line x1="79.0" y1="280.2" x2="81.6" y2="280.2" stroke="#111" stroke-width="0.9" />
<line x1="79.0" y1="286.4" x2="81.6" y2="286.4" stroke="#111" stroke-width="0.9" />
<line x1="79.0" y1="292.3" x2="81.6" y2="292.3" stroke="#111" stroke-width="0.9" />
<line x1="84.6" y1="295" x2="84.6" y2="297.6" stroke="#111" stroke-width="0.9" />
<line x1="97.6" y1="295" x2="97.6" y2="297.6" stroke="#111" stroke-width="0.9" />
<line x1="110.6" y1="295" x2="110.6" y2="297.6" stroke="#111" stroke-width="0.9" />
<rect x="104" y="269.3" width="5.099999999999994" height="9.300000000000011" fill="none" stroke="#111" stroke-width="1.0" />
<text x="106.85" y="267.6" font-size="5.5" text-anchor="middle" font-weight="normal" fill="#111" stroke="#111" stroke-width="0.2" >10.0</text>
<ellipse cx="154.70000000000002" cy="282" rx="3.1" ry="4.2" fill="#000" opacity="0.92" filter="url(#b1)"/>
<ellipse cx="158.10000000000002" cy="280.4" rx="1.9" ry="1.8" fill="#000" opacity="0.5" filter="url(#b1)"/>
<ellipse cx="154.3" cy="288.4" rx="1.8" ry="3.2" fill="#000" opacity="0.4" filter="url(#b1)"/>
<ellipse cx="154.8" cy="286.5" rx="3" ry="3.6" fill="#000" opacity="0.2" filter="url(#b2)"/>
<ellipse cx="154.3" cy="277" rx="1.5" ry="1.8" fill="#000" opacity="0.35" filter="url(#b1)"/>
<path d="M151.6 281.2h.01M158.7 280.6h.01M151.9 281.6h.01M152.5 283.4h.01M152.5 283.6h.01M157.6 284.4h.01M159.6 283.6h.01M160.6 287.6h.01M153.9 285.6h.01M152.4 281.4h.01M154.5 279.0h.01M155.7 281.9h.01M161.1 285.5h.01M154.0 279.5h.01M153.0 279.4h.01M152.3 282.3h.01M150.4 281.0h.01M156.3 279.8h.01M151.2 280.2h.01M157.5 279.1h.01M159.7 275.3h.01M152.2 284.8h.01M159.0 281.4h.01M149.5 281.1h.01M151.8 279.4h.01M153.5 279.8h.01M154.6 282.9h.01M153.8 274.8h.01M154.2 271.3h.01M155.0 280.5h.01M151.8 291.0h.01M160.0 287.9h.01M155.4 280.2h.01M156.2 289.1h.01M154.4 281.7h.01M152.9 282.0h.01M157.4 278.5h.01M158.1 282.9h.01M161.8 283.1h.01M158.8 278.2h.01M162.4 282.6h.01M154.5 288.6h.01M155.2 277.1h.01M156.7 284.6h.01M154.7 280.4h.01M149.6 289.3h.01M153.4 283.8h.01M153.2 279.3h.01M155.7 278.6h.01M157.7 275.6h.01M156.7 287.3h.01M153.4 283.2h.01M157.4 280.5h.01M154.0 281.5h.01M163.4 278.9h.01M154.2 280.5h.01M153.0 278.5h.01M152.7 283.0h.01M158.5 289.1h.01M150.7 278.3h.01M154.7 278.3h.01M152.3 281.4h.01M153.0 278.8h.01M155.5 279.1h.01M153.9 283.7h.01M157.1 283.2h.01M158.2 283.0h.01M150.1 288.5h.01M163.8 285.7h.01M159.9 286.9h.01M153.4 285.0h.01M152.6 280.0h.01M156.6 282.7h.01M152.7 276.5h.01M157.3 282.4h.01M155.3 278.7h.01M152.3 282.2h.01M148.9 287.4h.01M154.9 286.9h.01M157.8 280.0h.01M156.4 277.7h.01M151.9 287.9h.01M153.1 279.1h.01M156.3 282.5h.01M157.9 277.1h.01M154.0 277.9h.01M154.9 281.2h.01M151.8 275.1h.01M150.5 286.3h.01M153.6 277.8h.01" stroke="#000" stroke-width="0.55" stroke-linecap="round" fill="none" opacity="0.5"/>
<path d="M155.2 283.8h.01M156.8 290.2h.01M154.9 285.6h.01M150.8 289.0h.01M159.3 288.0h.01M153.7 289.9h.01M154.0 283.5h.01M154.6 289.3h.01M150.8 290.7h.01M158.4 287.3h.01M153.8 282.9h.01M156.0 286.5h.01M157.5 292.4h.01M157.6 288.0h.01M150.9 291.6h.01M153.8 285.9h.01M157.2 288.9h.01M152.6 286.4h.01M154.2 286.9h.01M152.3 292.2h.01M154.6 289.5h.01M156.4 285.1h.01M153.9 290.2h.01M158.5 282.8h.01M159.0 285.6h.01M154.4 286.1h.01M156.1 286.8h.01M154.8 284.5h.01M158.0 288.6h.01M154.8 294.2h.01M156.3 291.8h.01M154.3 287.9h.01M154.5 290.2h.01M155.5 282.1h.01M156.1 286.7h.01M155.4 290.5h.01M154.3 289.5h.01M154.9 287.2h.01M153.8 287.1h.01" stroke="#000" stroke-width="0.55" stroke-linecap="round" fill="none" opacity="0.4"/>
<path d="M157.6 282.4h.01M153.2 282.0h.01M158.1 279.1h.01M160.0 280.9h.01M159.5 283.4h.01M158.7 278.1h.01M154.8 280.9h.01M155.6 284.8h.01M158.1 277.8h.01M153.5 280.0h.01M153.0 281.8h.01M153.2 282.5h.01M157.2 283.0h.01M155.7 280.2h.01M160.7 278.1h.01M159.7 283.6h.01M156.1 280.7h.01M161.9 283.6h.01M161.8 280.8h.01M157.5 280.7h.01M157.5 282.5h.01M160.1 281.9h.01M156.8 282.4h.01M159.4 281.4h.01M161.0 280.3h.01" stroke="#000" stroke-width="0.55" stroke-linecap="round" fill="none" opacity="0.4"/>
<rect x="129.6" y="257.3" width="39.0" height="37.69999999999999" fill="none" stroke="#111" stroke-width="1.3" />
<line x1="128.6" y1="258.8" x2="128.6" y2="295.5" stroke="#111" stroke-width="1.5" stroke-dasharray="1.7 0.8 0.8 0.6 2.3 0.7 1.1 0.6"/>
<line x1="129.1" y1="296.0" x2="167.6" y2="296.0" stroke="#111" stroke-width="1.5" stroke-dasharray="1.7 0.8 0.8 0.6 2.3 0.7 1.1 0.6"/>
<line x1="127.0" y1="261.2" x2="129.6" y2="261.2" stroke="#111" stroke-width="0.9" />
<line x1="127.0" y1="267.5" x2="129.6" y2="267.5" stroke="#111" stroke-width="0.9" />
<line x1="127.0" y1="273.7" x2="129.6" y2="273.7" stroke="#111" stroke-width="0.9" />
<line x1="127.0" y1="280.2" x2="129.6" y2="280.2" stroke="#111" stroke-width="0.9" />
<line x1="127.0" y1="286.4" x2="129.6" y2="286.4" stroke="#111" stroke-width="0.9" />
<line x1="127.0" y1="292.3" x2="129.6" y2="292.3" stroke="#111" stroke-width="0.9" />
<line x1="132.6" y1="295" x2="132.6" y2="297.6" stroke="#111" stroke-width="0.9" />
<line x1="145.6" y1="295" x2="145.6" y2="297.6" stroke="#111" stroke-width="0.9" />
<line x1="158.6" y1="295" x2="158.6" y2="297.6" stroke="#111" stroke-width="0.9" />
<rect x="152" y="269.3" width="4.599999999999994" height="8.899999999999977" fill="none" stroke="#111" stroke-width="1.0" />
<text x="154.60000000000002" y="267.6" font-size="5.5" text-anchor="middle" font-weight="normal" fill="#111" stroke="#111" stroke-width="0.2" >3.97</text>
<ellipse cx="202.54999999999998" cy="282" rx="3.1" ry="4.2" fill="#000" opacity="0.92" filter="url(#b1)"/>
<ellipse cx="205.95" cy="280.4" rx="1.9" ry="1.8" fill="#000" opacity="0.5" filter="url(#b1)"/>
<ellipse cx="202.14999999999998" cy="288.4" rx="1.8" ry="3.2" fill="#000" opacity="0.4" filter="url(#b1)"/>
<ellipse cx="202.64999999999998" cy="286.5" rx="3" ry="3.6" fill="#000" opacity="0.2" filter="url(#b2)"/>
<ellipse cx="202.14999999999998" cy="277" rx="1.5" ry="1.8" fill="#000" opacity="0.35" filter="url(#b1)"/>
<path d="M203.1 287.1h.01M200.3 286.2h.01M205.1 288.7h.01M206.9 280.1h.01M208.4 280.6h.01M199.0 281.3h.01M201.6 278.8h.01M205.9 284.6h.01M204.7 276.8h.01M208.6 284.5h.01M206.5 284.0h.01M203.9 285.7h.01M203.3 288.3h.01M201.1 274.0h.01M201.6 282.4h.01M204.1 282.9h.01M204.1 284.4h.01M202.2 284.8h.01M204.5 279.3h.01M197.2 283.4h.01M204.3 287.0h.01M206.3 283.7h.01M206.5 280.1h.01M201.3 288.1h.01M199.0 282.4h.01M199.4 277.5h.01M209.5 275.2h.01M208.4 280.7h.01M200.4 275.6h.01M203.5 285.1h.01M204.6 278.8h.01M208.0 283.4h.01M204.4 285.0h.01M204.6 281.2h.01M203.9 279.6h.01M203.6 278.5h.01M198.3 280.1h.01M202.3 279.7h.01M201.8 280.3h.01M202.9 289.8h.01M204.6 286.1h.01M205.9 286.1h.01M204.1 286.0h.01M206.2 281.9h.01M201.9 282.5h.01M202.6 284.5h.01M201.4 280.8h.01M203.5 284.6h.01M202.5 276.4h.01M202.0 286.0h.01M202.1 287.7h.01M201.2 281.6h.01M205.3 287.3h.01M201.9 288.6h.01M203.4 284.2h.01M208.5 286.0h.01M202.1 282.3h.01M200.0 287.2h.01M203.9 290.3h.01M206.7 282.7h.01M200.9 281.3h.01M206.8 282.1h.01M206.4 287.7h.01M207.5 283.6h.01M205.1 277.3h.01M203.9 282.7h.01M205.7 275.4h.01M201.8 292.1h.01M203.3 280.7h.01M203.1 282.0h.01M201.8 285.1h.01M203.7 287.3h.01M210.7 285.6h.01M203.9 288.7h.01M198.5 290.0h.01M199.3 280.7h.01M203.0 277.1h.01M200.9 283.3h.01M204.1 276.9h.01M193.4 285.3h.01M197.6 284.0h.01M204.3 285.9h.01M201.1 280.1h.01M212.5 282.2h.01M199.6 277.2h.01M202.0 289.7h.01M205.0 278.9h.01M198.5 280.1h.01M202.8 283.8h.01M204.4 287.2h.01" stroke="#000" stroke-width="0.55" stroke-linecap="round" fill="none" opacity="0.5"/>
<path d="M199.9 282.7h.01M202.6 289.4h.01M201.6 288.4h.01M202.6 291.2h.01M202.3 286.1h.01M203.9 290.7h.01M201.4 287.2h.01M201.2 284.0h.01M208.1 285.7h.01M202.1 286.5h.01M201.0 287.1h.01M202.6 288.7h.01M201.6 283.1h.01M202.5 289.8h.01M205.5 287.3h.01M202.2 285.2h.01M206.0 285.7h.01M201.7 287.4h.01M202.3 287.8h.01M203.7 292.9h.01M203.9 288.9h.01M203.9 290.4h.01M202.1 287.3h.01M202.0 287.0h.01M201.9 290.1h.01M205.1 287.4h.01M202.2 290.2h.01M202.3 289.3h.01M201.4 292.0h.01M201.8 289.3h.01M206.5 288.8h.01M202.2 289.9h.01M206.1 280.6h.01M202.0 287.1h.01M204.7 282.8h.01M204.6 287.8h.01M204.0 284.4h.01M203.1 289.5h.01" stroke="#000" stroke-width="0.55" stroke-linecap="round" fill="none" opacity="0.4"/>
<path d="M203.9 276.0h.01M206.0 280.7h.01M207.7 281.2h.01M203.3 277.1h.01M208.6 282.8h.01M205.9 280.6h.01M207.7 280.1h.01M203.4 283.3h.01M203.2 280.3h.01M209.0 281.9h.01M208.6 283.7h.01M206.6 278.4h.01M202.5 277.1h.01M207.8 278.5h.01M205.9 281.2h.01M207.0 281.0h.01M209.0 281.6h.01M208.5 280.9h.01M206.3 281.3h.01M207.3 282.4h.01M205.1 282.2h.01M212.3 276.2h.01M207.6 280.8h.01M205.7 280.0h.01M203.6 281.5h.01" stroke="#000" stroke-width="0.55" stroke-linecap="round" fill="none" opacity="0.4"/>
<rect x="177.1" y="257.3" width="39.5" height="37.69999999999999" fill="none" stroke="#111" stroke-width="1.3" />
<line x1="176.1" y1="258.8" x2="176.1" y2="295.5" stroke="#111" stroke-width="1.5" stroke-dasharray="1.7 0.8 0.8 0.6 2.3 0.7 1.1 0.6"/>
<line x1="176.6" y1="296.0" x2="215.6" y2="296.0" stroke="#111" stroke-width="1.5" stroke-dasharray="1.7 0.8 0.8 0.6 2.3 0.7 1.1 0.6"/>
<line x1="174.5" y1="261.2" x2="177.1" y2="261.2" stroke="#111" stroke-width="0.9" />
<line x1="174.5" y1="267.5" x2="177.1" y2="267.5" stroke="#111" stroke-width="0.9" />
<line x1="174.5" y1="273.7" x2="177.1" y2="273.7" stroke="#111" stroke-width="0.9" />
<line x1="174.5" y1="280.2" x2="177.1" y2="280.2" stroke="#111" stroke-width="0.9" />
<line x1="174.5" y1="286.4" x2="177.1" y2="286.4" stroke="#111" stroke-width="0.9" />
<line x1="174.5" y1="292.3" x2="177.1" y2="292.3" stroke="#111" stroke-width="0.9" />
<line x1="180.1" y1="295" x2="180.1" y2="297.6" stroke="#111" stroke-width="0.9" />
<line x1="193.1" y1="295" x2="193.1" y2="297.6" stroke="#111" stroke-width="0.9" />
<line x1="206.1" y1="295" x2="206.1" y2="297.6" stroke="#111" stroke-width="0.9" />
<rect x="199.6" y="269.8" width="5.099999999999994" height="8.800000000000011" fill="none" stroke="#111" stroke-width="1.0" />
<text x="202.45" y="267.6" font-size="5.5" text-anchor="middle" font-weight="normal" fill="#111" stroke="#111" stroke-width="0.2" >3.95</text>
<ellipse cx="250.6" cy="282" rx="3.1" ry="4.2" fill="#000" opacity="0.92" filter="url(#b1)"/>
<ellipse cx="254.0" cy="280.4" rx="1.9" ry="1.8" fill="#000" opacity="0.5" filter="url(#b1)"/>
<ellipse cx="250.2" cy="288.4" rx="1.8" ry="3.2" fill="#000" opacity="0.4" filter="url(#b1)"/>
<ellipse cx="250.7" cy="286.5" rx="3" ry="3.6" fill="#000" opacity="0.2" filter="url(#b2)"/>
<ellipse cx="250.2" cy="277" rx="1.5" ry="1.8" fill="#000" opacity="0.35" filter="url(#b1)"/>
<path d="M248.6 289.2h.01M251.9 289.9h.01M251.3 276.6h.01M252.2 283.5h.01M253.6 272.6h.01M251.1 288.7h.01M251.1 274.0h.01M252.2 284.6h.01M255.3 285.0h.01M247.7 287.6h.01M253.1 287.7h.01M250.3 287.0h.01M244.2 277.0h.01M252.8 289.4h.01M252.7 283.3h.01M250.4 280.8h.01M254.4 275.1h.01M251.8 289.0h.01M245.6 273.2h.01M247.7 282.6h.01M252.6 280.2h.01M253.4 280.4h.01M245.7 286.9h.01M250.9 279.8h.01M245.6 271.9h.01M247.5 285.6h.01M248.0 276.9h.01M248.4 285.1h.01M252.8 287.8h.01M248.1 289.0h.01M256.0 284.4h.01M254.2 289.7h.01M252.1 279.0h.01M252.6 284.2h.01M253.1 293.7h.01M251.0 281.6h.01M254.9 282.8h.01M246.9 284.0h.01M254.1 275.8h.01M256.4 290.8h.01M247.3 283.7h.01M252.2 285.0h.01M251.8 285.6h.01M248.4 281.6h.01M250.6 284.5h.01M257.2 286.4h.01M247.5 284.2h.01M257.1 291.3h.01M256.4 283.1h.01M253.3 283.4h.01M247.3 282.9h.01M249.6 277.3h.01M250.4 281.0h.01M250.1 285.7h.01M247.5 283.0h.01M252.1 283.9h.01M251.8 283.0h.01M245.8 273.9h.01M249.0 281.0h.01M247.9 279.4h.01M249.6 289.9h.01M250.6 286.1h.01M253.1 283.4h.01M254.0 280.3h.01M250.3 277.7h.01M250.5 286.4h.01M248.1 282.3h.01M250.1 282.4h.01M249.6 283.9h.01M246.9 283.2h.01M256.3 278.0h.01M253.5 279.7h.01M249.1 290.3h.01M253.1 285.3h.01M256.2 285.4h.01M250.6 272.9h.01M253.2 289.9h.01M249.5 277.5h.01M245.4 285.1h.01M243.2 284.2h.01M253.5 280.7h.01M247.5 281.4h.01M255.9 277.7h.01M248.3 284.9h.01M248.9 288.2h.01M248.5 277.5h.01M246.1 281.7h.01M254.4 282.7h.01M249.0 276.1h.01M251.7 279.7h.01" stroke="#000" stroke-width="0.55" stroke-linecap="round" fill="none" opacity="0.5"/>
<path d="M256.0 283.7h.01M247.8 283.4h.01M251.3 289.5h.01M251.4 291.4h.01M252.4 285.7h.01M254.6 285.0h.01M251.3 287.7h.01M253.4 287.5h.01M251.6 281.2h.01M250.7 288.0h.01M254.2 282.0h.01M248.2 290.3h.01M256.0 288.1h.01M246.2 281.8h.01M250.0 284.7h.01M251.9 291.0h.01M252.6 284.5h.01M249.3 287.0h.01M251.8 289.4h.01M250.0 290.9h.01M252.4 286.6h.01M251.3 292.7h.01M252.3 286.6h.01M250.1 290.7h.01M251.7 288.0h.01M249.2 286.7h.01M251.2 293.3h.01M248.0 288.0h.01M248.8 283.1h.01M255.9 283.5h.01M253.6 290.9h.01M251.9 287.8h.01M250.8 289.2h.01M251.7 289.4h.01M252.3 282.3h.01M248.0 287.5h.01M250.8 283.2h.01M253.0 289.2h.01M251.5 291.0h.01M252.2 287.2h.01" stroke="#000" stroke-width="0.55" stroke-linecap="round" fill="none" opacity="0.4"/>
<path d="M252.9 283.1h.01M253.2 279.7h.01M252.2 282.3h.01M254.8 280.8h.01M256.4 279.5h.01M256.1 280.1h.01M253.9 280.7h.01M254.7 283.6h.01M252.9 282.9h.01M257.0 280.8h.01M252.8 279.0h.01M254.1 286.3h.01M253.8 281.3h.01M252.2 281.8h.01M254.8 282.8h.01M258.9 282.9h.01M252.4 280.8h.01M251.4 280.3h.01M251.1 283.1h.01M249.4 282.1h.01M254.5 278.2h.01M256.0 283.4h.01M258.2 280.6h.01M255.9 281.4h.01M257.5 281.0h.01" stroke="#000" stroke-width="0.55" stroke-linecap="round" fill="none" opacity="0.4"/>
<rect x="225.2" y="257.3" width="39.69999999999999" height="37.69999999999999" fill="none" stroke="#111" stroke-width="1.3" />
<line x1="224.2" y1="258.8" x2="224.2" y2="295.5" stroke="#111" stroke-width="1.5" stroke-dasharray="1.7 0.8 0.8 0.6 2.3 0.7 1.1 0.6"/>
<line x1="224.7" y1="296.0" x2="263.9" y2="296.0" stroke="#111" stroke-width="1.5" stroke-dasharray="1.7 0.8 0.8 0.6 2.3 0.7 1.1 0.6"/>
<line x1="222.6" y1="261.2" x2="225.2" y2="261.2" stroke="#111" stroke-width="0.9" />
<line x1="222.6" y1="267.5" x2="225.2" y2="267.5" stroke="#111" stroke-width="0.9" />
<line x1="222.6" y1="273.7" x2="225.2" y2="273.7" stroke="#111" stroke-width="0.9" />
<line x1="222.6" y1="280.2" x2="225.2" y2="280.2" stroke="#111" stroke-width="0.9" />
<line x1="222.6" y1="286.4" x2="225.2" y2="286.4" stroke="#111" stroke-width="0.9" />
<line x1="222.6" y1="292.3" x2="225.2" y2="292.3" stroke="#111" stroke-width="0.9" />
<line x1="228.2" y1="295" x2="228.2" y2="297.6" stroke="#111" stroke-width="0.9" />
<line x1="241.2" y1="295" x2="241.2" y2="297.6" stroke="#111" stroke-width="0.9" />
<line x1="254.2" y1="295" x2="254.2" y2="297.6" stroke="#111" stroke-width="0.9" />
<rect x="247.9" y="269.3" width="4.599999999999994" height="9.300000000000011" fill="none" stroke="#111" stroke-width="1.0" />
<text x="250.5" y="267.6" font-size="5.5" text-anchor="middle" font-weight="normal" fill="#111" stroke="#111" stroke-width="0.2" >2.41</text>
<text x="39.9" y="265.3" font-size="5" text-anchor="start" font-weight="normal" fill="#111" stroke="#111" stroke-width="0.2" textLength="17.1" lengthAdjust="spacingAndGlyphs">pre-B II</text>
<text x="44.6" y="271" font-size="5" text-anchor="start" font-weight="normal" fill="#111" stroke="#111" stroke-width="0.2" >20.4</text>
<text x="21.8" y="263" font-size="5.1" text-anchor="start" font-weight="normal" fill="#111" stroke="#111" stroke-width="0.2" >10<tspan font-size="3.37" dy="-1.84">5</tspan></text>
<text x="21.8" y="269.4" font-size="5.1" text-anchor="start" font-weight="normal" fill="#111" stroke="#111" stroke-width="0.2" >10<tspan font-size="3.37" dy="-1.84">4</tspan></text>
<text x="21.8" y="275.6" font-size="5.1" text-anchor="start" font-weight="normal" fill="#111" stroke="#111" stroke-width="0.2" >10<tspan font-size="3.37" dy="-1.84">3</tspan></text>
<text x="21.8" y="282.1" font-size="5.1" text-anchor="start" font-weight="normal" fill="#111" stroke="#111" stroke-width="0.2" >10<tspan font-size="3.37" dy="-1.84">2</tspan></text>
<text x="21.8" y="288.3" font-size="5.1" text-anchor="start" font-weight="normal" fill="#111" stroke="#111" stroke-width="0.2" >10<tspan font-size="3.37" dy="-1.84">1</tspan></text>
<text x="21.8" y="294.2" font-size="5.1" text-anchor="start" font-weight="normal" fill="#111" stroke="#111" stroke-width="0.2" >10<tspan font-size="3.37" dy="-1.84">0</tspan></text>
<text transform="translate(13.2 288.8) rotate(-90)" font-size="6.3" text-anchor="middle" fill="#111" stroke="#111" stroke-width="0.2" >CD25</text>
<line x1="11" y1="278" x2="11" y2="260" stroke="#111" stroke-width="0.9" />
<path d="M9.3 261.8 L11 258 L12.7 261.8 Z" fill="#111"/>
<text x="33.4" y="304.6" font-size="5.1" text-anchor="start" font-weight="normal" fill="#111" stroke="#111" stroke-width="0.2" >10<tspan font-size="3.37" dy="-1.84">4</tspan></text>
<text x="46.2" y="304.6" font-size="5.1" text-anchor="start" font-weight="normal" fill="#111" stroke="#111" stroke-width="0.2" >10<tspan font-size="3.37" dy="-1.84">3</tspan></text>
<text x="59.6" y="304.6" font-size="5.1" text-anchor="start" font-weight="normal" fill="#111" stroke="#111" stroke-width="0.2" >10<tspan font-size="3.37" dy="-1.84">4</tspan></text>
<text x="33.6" y="315.4" font-size="6.4" text-anchor="start" font-weight="normal" fill="#111" stroke="#111" stroke-width="0.2" textLength="12.8" lengthAdjust="spacingAndGlyphs">B220</text>
<line x1="55" y1="313" x2="254.60000000000002" y2="313" stroke="#111" stroke-width="0.9" />
<path d="M253.00000000000003 311.4 L256.6 313 L253.00000000000003 314.6 Z" fill="#111"/>
<line x1="317.5" y1="31" x2="317.5" y2="89.05" stroke="#111" stroke-width="0.9" />
<line x1="317.05" y1="88.6" x2="513" y2="88.6" stroke="#111" stroke-width="0.9" />
<line x1="314.8" y1="88.6" x2="317.5" y2="88.6" stroke="#111" stroke-width="0.8" />
<text x="312.5" y="90.6" font-size="6.2" text-anchor="end" font-weight="normal" fill="#111" stroke="#111" stroke-width="0.2" >0</text>
<line x1="314.8" y1="77.8" x2="317.5" y2="77.8" stroke="#111" stroke-width="0.8" />
<text x="312.5" y="79.8" font-size="6.2" text-anchor="end" font-weight="normal" fill="#111" stroke="#111" stroke-width="0.2" >20</text>
<line x1="314.8" y1="67.0" x2="317.5" y2="67.0" stroke="#111" stroke-width="0.8" />
<text x="312.5" y="69.0" font-size="6.2" text-anchor="end" font-weight="normal" fill="#111" stroke="#111" stroke-width="0.2" >40</text>
<line x1="314.8" y1="56.19999999999999" x2="317.5" y2="56.19999999999999" stroke="#111" stroke-width="0.8" />
<text x="312.5" y="58.19999999999999" font-size="6.2" text-anchor="end" font-weight="normal" fill="#111" stroke="#111" stroke-width="0.2" >60</text>
<line x1="314.8" y1="45.39999999999999" x2="317.5" y2="45.39999999999999" stroke="#111" stroke-width="0.8" />
<text x="312.5" y="47.39999999999999" font-size="6.2" text-anchor="end" font-weight="normal" fill="#111" stroke="#111" stroke-width="0.2" >80</text>
<line x1="314.8" y1="34.599999999999994" x2="317.5" y2="34.599999999999994" stroke="#111" stroke-width="0.8" />
<text x="312.5" y="36.599999999999994" font-size="6.2" text-anchor="end" font-weight="normal" fill="#111" stroke="#111" stroke-width="0.2" >100</text>
<text transform="translate(292.9 61) rotate(-90)" font-size="6.6" text-anchor="middle" fill="#111" stroke="#111" stroke-width="0.2" >% of B220+ cells</text>
<rect x="322.3" y="76.2" width="6.6" height="12.4" fill="#552a7c"/>
<rect x="332.3" y="57.5" width="6.6" height="31.0" fill="#c00f2e"/>
<rect x="343.0" y="46.5" width="6.6" height="42.1" fill="#2c5292"/>
<rect x="352.9" y="47.8" width="6.6" height="40.8" fill="#65b041"/>
<rect x="363.8" y="36.3" width="6.6" height="52.3" fill="#f09c18"/>
<rect x="375.9" y="60.8" width="5.8" height="27.8" fill="#552a7c"/>
<rect x="384.8" y="75.6" width="5.8" height="13.0" fill="#c00f2e"/>
<rect x="393.7" y="80.0" width="5.8" height="8.6" fill="#2c5292"/>
<rect x="402.5" y="78.6" width="5.8" height="10.0" fill="#65b041"/>
<line x1="413.59999999999997" y1="88.0" x2="418.6" y2="88.0" stroke="#222" stroke-width="1.3" />
<rect x="423.4" y="79.1" width="5.0" height="9.5" fill="#552a7c"/>
<rect x="432.4" y="86.4" width="5.0" height="2.2" fill="#c00f2e"/>
<line x1="441.79999999999995" y1="88.0" x2="446.0" y2="88.0" stroke="#222" stroke-width="1.3" />
<line x1="450.59999999999997" y1="88.0" x2="454.8" y2="88.0" stroke="#222" stroke-width="1.3" />
<line x1="459.59999999999997" y1="88.0" x2="463.8" y2="88.0" stroke="#222" stroke-width="1.3" />
<rect x="472.0" y="77.3" width="5.0" height="11.3" fill="#552a7c"/>
<rect x="480.6" y="87.5" width="5.0" height="1.1" fill="#c00f2e"/>
<line x1="489.79999999999995" y1="88.0" x2="494.0" y2="88.0" stroke="#222" stroke-width="1.3" />
<line x1="498.79999999999995" y1="88.0" x2="503.0" y2="88.0" stroke="#222" stroke-width="1.3" />
<line x1="507.59999999999997" y1="88.0" x2="511.80000000000007" y2="88.0" stroke="#222" stroke-width="1.3" />
<circle cx="326.9" cy="75.9" r="1.25" fill="#fff" stroke="#222" stroke-width="0.48"/>
<circle cx="326.2" cy="75.6" r="1.25" fill="#fff" stroke="#222" stroke-width="0.48"/>
<circle cx="326.2" cy="76.4" r="1.25" fill="#fff" stroke="#222" stroke-width="0.48"/>
<circle cx="335.8" cy="45.4" r="1.25" fill="#fff" stroke="#222" stroke-width="0.48"/>
<circle cx="336.5" cy="54.6" r="1.25" fill="#fff" stroke="#222" stroke-width="0.48"/>
<circle cx="335.8" cy="56.7" r="1.25" fill="#fff" stroke="#222" stroke-width="0.48"/>
<circle cx="336.7" cy="58.4" r="1.25" fill="#fff" stroke="#222" stroke-width="0.48"/>
<circle cx="334.3" cy="60.0" r="1.25" fill="#fff" stroke="#222" stroke-width="0.48"/>
<circle cx="335.5" cy="61.6" r="1.25" fill="#fff" stroke="#222" stroke-width="0.48"/>
<circle cx="336.1" cy="63.2" r="1.25" fill="#fff" stroke="#222" stroke-width="0.48"/>
<circle cx="344.6" cy="42.2" r="1.25" fill="#fff" stroke="#222" stroke-width="0.48"/>
<circle cx="346.5" cy="43.8" r="1.25" fill="#fff" stroke="#222" stroke-width="0.48"/>
<circle cx="348.0" cy="45.4" r="1.25" fill="#fff" stroke="#222" stroke-width="0.48"/>
<circle cx="344.6" cy="46.5" r="1.25" fill="#fff" stroke="#222" stroke-width="0.48"/>
<circle cx="347.2" cy="48.1" r="1.25" fill="#fff" stroke="#222" stroke-width="0.48"/>
<circle cx="347.2" cy="49.7" r="1.25" fill="#fff" stroke="#222" stroke-width="0.48"/>
<circle cx="347.9" cy="51.3" r="1.25" fill="#fff" stroke="#222" stroke-width="0.48"/>
<circle cx="348.2" cy="45.9" r="1.25" fill="#fff" stroke="#222" stroke-width="0.48"/>
<circle cx="356.7" cy="42.7" r="1.25" fill="#fff" stroke="#222" stroke-width="0.48"/>
<circle cx="356.6" cy="44.9" r="1.25" fill="#fff" stroke="#222" stroke-width="0.48"/>
<circle cx="356.1" cy="47.6" r="1.25" fill="#fff" stroke="#222" stroke-width="0.48"/>
<circle cx="356.0" cy="49.2" r="1.25" fill="#fff" stroke="#222" stroke-width="0.48"/>
<circle cx="356.6" cy="50.8" r="1.25" fill="#fff" stroke="#222" stroke-width="0.48"/>
<circle cx="355.6" cy="53.0" r="1.25" fill="#fff" stroke="#222" stroke-width="0.48"/>
<circle cx="357.4" cy="48.6" r="1.25" fill="#fff" stroke="#222" stroke-width="0.48"/>
<circle cx="367.2" cy="35.7" r="1.25" fill="#fff" stroke="#222" stroke-width="0.48"/>
<circle cx="366.8" cy="36.2" r="1.25" fill="#fff" stroke="#222" stroke-width="0.48"/>
<circle cx="367.1" cy="37.0" r="1.25" fill="#fff" stroke="#222" stroke-width="0.48"/>
<circle cx="379.5" cy="58.9" r="1.25" fill="#fff" stroke="#222" stroke-width="0.48"/>
<circle cx="379.9" cy="60.5" r="1.25" fill="#fff" stroke="#222" stroke-width="0.48"/>
<circle cx="379.9" cy="61.6" r="1.25" fill="#fff" stroke="#222" stroke-width="0.48"/>
<circle cx="379.5" cy="63.2" r="1.25" fill="#fff" stroke="#222" stroke-width="0.48"/>
<circle cx="377.9" cy="64.8" r="1.25" fill="#fff" stroke="#222" stroke-width="0.48"/>
<circle cx="377.1" cy="67.0" r="1.25" fill="#fff" stroke="#222" stroke-width="0.48"/>
<circle cx="386.4" cy="68.6" r="1.25" fill="#fff" stroke="#222" stroke-width="0.48"/>
<circle cx="386.3" cy="71.3" r="1.25" fill="#fff" stroke="#222" stroke-width="0.48"/>
<circle cx="387.7" cy="73.5" r="1.25" fill="#fff" stroke="#222" stroke-width="0.48"/>
<circle cx="386.3" cy="75.1" r="1.25" fill="#fff" stroke="#222" stroke-width="0.48"/>
<circle cx="387.6" cy="76.2" r="1.25" fill="#fff" stroke="#222" stroke-width="0.48"/>
<circle cx="388.6" cy="77.3" r="1.25" fill="#fff" stroke="#222" stroke-width="0.48"/>
<circle cx="396.4" cy="74.6" r="1.25" fill="#fff" stroke="#222" stroke-width="0.48"/>
<circle cx="397.8" cy="76.7" r="1.25" fill="#fff" stroke="#222" stroke-width="0.48"/>
<circle cx="396.2" cy="78.9" r="1.25" fill="#fff" stroke="#222" stroke-width="0.48"/>
<circle cx="396.6" cy="80.0" r="1.25" fill="#fff" stroke="#222" stroke-width="0.48"/>
<circle cx="395.8" cy="80.5" r="1.25" fill="#fff" stroke="#222" stroke-width="0.48"/>
<circle cx="404.1" cy="74.6" r="1.25" fill="#fff" stroke="#222" stroke-width="0.48"/>
<circle cx="405.7" cy="76.2" r="1.25" fill="#fff" stroke="#222" stroke-width="0.48"/>
<circle cx="404.1" cy="77.8" r="1.25" fill="#fff" stroke="#222" stroke-width="0.48"/>
<circle cx="404.2" cy="79.4" r="1.25" fill="#fff" stroke="#222" stroke-width="0.48"/>
<circle cx="404.7" cy="80.5" r="1.25" fill="#fff" stroke="#222" stroke-width="0.48"/>
<circle cx="426.6" cy="77.5" r="1.25" fill="#fff" stroke="#222" stroke-width="0.48"/>
<circle cx="427.3" cy="78.3" r="1.25" fill="#fff" stroke="#222" stroke-width="0.48"/>
<circle cx="425.1" cy="79.1" r="1.25" fill="#fff" stroke="#222" stroke-width="0.48"/>
<circle cx="425.1" cy="80.0" r="1.25" fill="#fff" stroke="#222" stroke-width="0.48"/>
<circle cx="436.5" cy="83.7" r="1.25" fill="#fff" stroke="#222" stroke-width="0.48"/>
<circle cx="435.2" cy="84.8" r="1.25" fill="#fff" stroke="#222" stroke-width="0.48"/>
<circle cx="435.9" cy="85.9" r="1.25" fill="#fff" stroke="#222" stroke-width="0.48"/>
<circle cx="436.6" cy="87.0" r="1.25" fill="#fff" stroke="#222" stroke-width="0.48"/>
<circle cx="435.4" cy="87.5" r="1.25" fill="#fff" stroke="#222" stroke-width="0.48"/>
<circle cx="473.9" cy="76.7" r="1.25" fill="#fff" stroke="#222" stroke-width="0.48"/>
<circle cx="475.7" cy="77.3" r="1.25" fill="#fff" stroke="#222" stroke-width="0.48"/>
<circle cx="475.6" cy="74" r="0.9" fill="#222"/>
<circle cx="473.4" cy="76.4" r="0.8" fill="#222"/>
<path d="M480.4 88 L483.2 84.6 L486 88 Z" fill="#333"/>
<text x="345" y="97.6" font-size="6.2" text-anchor="middle" font-weight="normal" fill="#111" stroke="#111" stroke-width="0.2" >pro-B cells</text>
<text x="397" y="97.6" font-size="6.2" text-anchor="middle" font-weight="normal" fill="#111" stroke="#111" stroke-width="0.2" >pre-B cells</text>
<text x="442.5" y="97.6" font-size="6.2" text-anchor="middle" font-weight="normal" fill="#111" stroke="#111" stroke-width="0.2" >immature</text>
<text x="491.3" y="97.6" font-size="6.2" text-anchor="middle" font-weight="normal" fill="#111" stroke="#111" stroke-width="0.2" >mature</text>
<rect x="333.3" y="106.3" width="2.8" height="2.4" fill="#3f1f63"/>
<text x="340" y="109.3" font-size="5.1" text-anchor="start" font-weight="normal" fill="#2a2a2a" stroke="#2a2a2a" stroke-width="0.08" >WT</text>
<rect x="365" y="106.3" width="2.8" height="2.4" fill="#a80d28"/>
<text x="371.3" y="109.3" font-size="5.1" text-anchor="start" font-weight="normal" fill="#2a2a2a" stroke="#2a2a2a" stroke-width="0.08" >R972Q</text>
<rect x="405" y="106.3" width="2.8" height="2.4" fill="#1f3f70"/>
<text x="410.8" y="109.3" font-size="5.1" text-anchor="start" font-weight="normal" fill="#2a2a2a" stroke="#2a2a2a" stroke-width="0.08" >F971L</text>
<rect x="442.5" y="106.3" width="2.8" height="2.4" fill="#5fa83c"/>
<text x="448.8" y="109.3" font-size="5.1" text-anchor="start" font-weight="normal" fill="#2a2a2a" stroke="#2a2a2a" stroke-width="0.08" >R972W</text>
<rect x="482.5" y="106.3" width="2.8" height="2.4" fill="#e09a1c"/>
<text x="489.3" y="109.3" font-size="5.1" text-anchor="start" font-weight="normal" fill="#2a2a2a" stroke="#2a2a2a" stroke-width="0.08" >KO</text>
<line x1="333.2" y1="19.2" x2="341.8" y2="19.2" stroke="#555" stroke-width="0.6" />
<line x1="343" y1="19" x2="352.3" y2="19" stroke="#2a2a2a" stroke-width="1.5" stroke-dasharray="1.35 0.95" opacity="0.8"/>
<line x1="353.5" y1="19.2" x2="367" y2="19.2" stroke="#555" stroke-width="0.6" />
<circle cx="333.2" cy="21.9" r="0.45" fill="#2a2a2a"/>
<line x1="337" y1="21.6" x2="341.2" y2="21.6" stroke="#2a2a2a" stroke-width="1.5" stroke-dasharray="1.35 0.95" opacity="0.8"/>
<line x1="341.6" y1="21.8" x2="356" y2="21.8" stroke="#2a2a2a" stroke-width="0.7" />
<line x1="358.5" y1="21.6" x2="363.4" y2="21.6" stroke="#2a2a2a" stroke-width="1.5" stroke-dasharray="1.35 0.95" opacity="0.8"/>
<circle cx="366.5" cy="21.9" r="0.45" fill="#2a2a2a"/>
<circle cx="333.2" cy="25" r="0.45" fill="#2a2a2a"/>
<line x1="336.3" y1="24.7" x2="341.2" y2="24.7" stroke="#2a2a2a" stroke-width="1.5" stroke-dasharray="1.35 0.95" opacity="0.8"/>
<line x1="344.3" y1="24.9" x2="358.5" y2="24.9" stroke="#2a2a2a" stroke-width="0.7" />
<line x1="360.3" y1="24.7" x2="363.4" y2="24.7" stroke="#2a2a2a" stroke-width="1.5" stroke-dasharray="1.35 0.95" opacity="0.8"/>
<circle cx="366.5" cy="25" r="0.45" fill="#2a2a2a"/>
<circle cx="323.2" cy="32.0" r="0.45" fill="#2a2a2a"/>
<line x1="325.2" y1="31.7" x2="334.5" y2="31.7" stroke="#2a2a2a" stroke-width="1.5" stroke-dasharray="1.35 0.95" opacity="0.8"/>
<line x1="335.7" y1="31.9" x2="367.7" y2="31.9" stroke="#2a2a2a" stroke-width="1.0" />
<circle cx="323.2" cy="35.099999999999994" r="0.45" fill="#2a2a2a"/>
<line x1="325.2" y1="34.8" x2="334.5" y2="34.8" stroke="#2a2a2a" stroke-width="1.5" stroke-dasharray="1.35 0.95" opacity="0.8"/>
<line x1="335.7" y1="35.0" x2="356" y2="35.0" stroke="#2a2a2a" stroke-width="1.0" />
<circle cx="323.2" cy="38.3" r="0.45" fill="#2a2a2a"/>
<line x1="325.2" y1="38.0" x2="334.5" y2="38.0" stroke="#2a2a2a" stroke-width="1.5" stroke-dasharray="1.35 0.95" opacity="0.8"/>
<line x1="335.7" y1="38.2" x2="346.8" y2="38.2" stroke="#2a2a2a" stroke-width="1.0" />
<circle cx="323.2" cy="41.5" r="0.45" fill="#2a2a2a"/>
<line x1="325.2" y1="41.2" x2="334.5" y2="41.2" stroke="#2a2a2a" stroke-width="1.5" stroke-dasharray="1.35 0.95" opacity="0.8"/>
<line x1="335.7" y1="41.400000000000006" x2="337.6" y2="41.400000000000006" stroke="#2a2a2a" stroke-width="1.0" />
<circle cx="377.8" cy="46.3" r="0.45" fill="#2a2a2a"/>
<line x1="379.8" y1="46" x2="388.5" y2="46" stroke="#2a2a2a" stroke-width="1.5" stroke-dasharray="1.35 0.95" opacity="0.8"/>
<line x1="390.3" y1="46.2" x2="417.4" y2="46.2" stroke="#2a2a2a" stroke-width="1.0" />
<circle cx="377.8" cy="49.3" r="0.45" fill="#2a2a2a"/>
<line x1="379.8" y1="49" x2="388.5" y2="49" stroke="#2a2a2a" stroke-width="1.5" stroke-dasharray="1.35 0.95" opacity="0.8"/>
<line x1="390.3" y1="49.2" x2="407.5" y2="49.2" stroke="#2a2a2a" stroke-width="1.0" />
<circle cx="377.8" cy="52.199999999999996" r="0.45" fill="#2a2a2a"/>
<line x1="379.8" y1="51.9" x2="388.5" y2="51.9" stroke="#2a2a2a" stroke-width="1.5" stroke-dasharray="1.35 0.95" opacity="0.8"/>
<line x1="390.3" y1="52.1" x2="398.3" y2="52.1" stroke="#2a2a2a" stroke-width="1.0" />
<circle cx="377.8" cy="55.0" r="0.45" fill="#2a2a2a"/>
<line x1="379.8" y1="54.7" x2="388.5" y2="54.7" stroke="#2a2a2a" stroke-width="1.5" stroke-dasharray="1.35 0.95" opacity="0.8"/>
<line x1="390.3" y1="54.900000000000006" x2="391.3" y2="54.900000000000006" stroke="#2a2a2a" stroke-width="1.0" />
<line x1="387.2" y1="60.7" x2="396.5" y2="60.7" stroke="#2a2a2a" stroke-width="0.7" />
<line x1="397.3" y1="60.3" x2="405.7" y2="60.3" stroke="#2a2a2a" stroke-width="1.5" stroke-dasharray="1.35 0.95" opacity="0.8"/>
<line x1="408.2" y1="60.7" x2="416.8" y2="60.7" stroke="#2a2a2a" stroke-width="0.7" />
<circle cx="387.8" cy="63.4" r="0.45" fill="#2a2a2a"/>
<line x1="390.3" y1="63.1" x2="393" y2="63.1" stroke="#2a2a2a" stroke-width="1.5" stroke-dasharray="1.35 0.95" opacity="0.8"/>
<line x1="394" y1="63.300000000000004" x2="409.4" y2="63.300000000000004" stroke="#2a2a2a" stroke-width="0.8" />
<line x1="410" y1="63.1" x2="412.7" y2="63.1" stroke="#2a2a2a" stroke-width="1.5" stroke-dasharray="1.35 0.95" opacity="0.8"/>
<circle cx="416" cy="63.4" r="0.45" fill="#2a2a2a"/>
<circle cx="408" cy="66" r="0.45" fill="#2a2a2a"/>
<line x1="410" y1="65.7" x2="413" y2="65.7" stroke="#2a2a2a" stroke-width="1.5" stroke-dasharray="1.35 0.95" opacity="0.8"/>
<circle cx="416" cy="66" r="0.45" fill="#2a2a2a"/>
<circle cx="424.8" cy="57.699999999999996" r="0.45" fill="#2a2a2a"/>
<line x1="426.8" y1="57.4" x2="435.4" y2="57.4" stroke="#2a2a2a" stroke-width="1.5" stroke-dasharray="1.35 0.95" opacity="0.8"/>
<line x1="436.9" y1="57.6" x2="462.8" y2="57.6" stroke="#2a2a2a" stroke-width="1.0" />
<circle cx="424.8" cy="60.699999999999996" r="0.45" fill="#2a2a2a"/>
<line x1="426.8" y1="60.4" x2="435.4" y2="60.4" stroke="#2a2a2a" stroke-width="1.5" stroke-dasharray="1.35 0.95" opacity="0.8"/>
<line x1="436.9" y1="60.6" x2="453.5" y2="60.6" stroke="#2a2a2a" stroke-width="1.0" />
<circle cx="424.8" cy="63.599999999999994" r="0.45" fill="#2a2a2a"/>
<line x1="426.8" y1="63.3" x2="435.4" y2="63.3" stroke="#2a2a2a" stroke-width="1.5" stroke-dasharray="1.35 0.95" opacity="0.8"/>
<line x1="436.9" y1="63.5" x2="444.9" y2="63.5" stroke="#2a2a2a" stroke-width="1.0" />
<circle cx="424.8" cy="66.39999999999999" r="0.45" fill="#2a2a2a"/>
<line x1="426.8" y1="66.1" x2="435.4" y2="66.1" stroke="#2a2a2a" stroke-width="1.5" stroke-dasharray="1.35 0.95" opacity="0.8"/>
<line x1="436.9" y1="66.3" x2="438" y2="66.3" stroke="#2a2a2a" stroke-width="1.0" />
<circle cx="436.2" cy="71.2" r="0.45" fill="#2a2a2a"/>
<line x1="438.2" y1="70.9" x2="444.9" y2="70.9" stroke="#2a2a2a" stroke-width="1.5" stroke-dasharray="1.35 0.95" opacity="0.8"/>
<line x1="446.8" y1="71.10000000000001" x2="462.8" y2="71.10000000000001" stroke="#2a2a2a" stroke-width="1.0" />
<circle cx="435.0" cy="74.0" r="0.45" fill="#2a2a2a"/>
<line x1="437" y1="73.7" x2="439.6" y2="73.7" stroke="#2a2a2a" stroke-width="1.5" stroke-dasharray="1.35 0.95" opacity="0.8"/>
<line x1="441.8" y1="73.9" x2="453.5" y2="73.9" stroke="#2a2a2a" stroke-width="1.0" />
<circle cx="435.0" cy="76.6" r="0.45" fill="#2a2a2a"/>
<line x1="437" y1="76.3" x2="439.6" y2="76.3" stroke="#2a2a2a" stroke-width="1.5" stroke-dasharray="1.35 0.95" opacity="0.8"/>
<line x1="441.8" y1="76.5" x2="445" y2="76.5" stroke="#2a2a2a" stroke-width="1.0" />
<circle cx="473.0" cy="57.4" r="0.45" fill="#2a2a2a"/>
<line x1="475" y1="57.1" x2="483.7" y2="57.1" stroke="#2a2a2a" stroke-width="1.5" stroke-dasharray="1.35 0.95" opacity="0.8"/>
<line x1="485.5" y1="57.300000000000004" x2="510.8" y2="57.300000000000004" stroke="#2a2a2a" stroke-width="1.0" />
<circle cx="473.0" cy="60.199999999999996" r="0.45" fill="#2a2a2a"/>
<line x1="475" y1="59.9" x2="483.7" y2="59.9" stroke="#2a2a2a" stroke-width="1.5" stroke-dasharray="1.35 0.95" opacity="0.8"/>
<line x1="485.5" y1="60.1" x2="502" y2="60.1" stroke="#2a2a2a" stroke-width="1.0" />
<circle cx="473.0" cy="63.0" r="0.45" fill="#2a2a2a"/>
<line x1="475" y1="62.7" x2="483.7" y2="62.7" stroke="#2a2a2a" stroke-width="1.5" stroke-dasharray="1.35 0.95" opacity="0.8"/>
<line x1="485.5" y1="62.900000000000006" x2="493.5" y2="62.900000000000006" stroke="#2a2a2a" stroke-width="1.0" />
<circle cx="473.0" cy="65.89999999999999" r="0.45" fill="#2a2a2a"/>
<line x1="475" y1="65.6" x2="483.7" y2="65.6" stroke="#2a2a2a" stroke-width="1.5" stroke-dasharray="1.35 0.95" opacity="0.8"/>
<line x1="485.5" y1="65.8" x2="486.6" y2="65.8" stroke="#2a2a2a" stroke-width="1.0" />
<circle cx="483.0" cy="71.5" r="0.45" fill="#2a2a2a"/>
<line x1="485" y1="71.2" x2="491" y2="71.2" stroke="#2a2a2a" stroke-width="1.5" stroke-dasharray="1.35 0.95" opacity="0.8"/>
<line x1="493" y1="71.4" x2="510" y2="71.4" stroke="#2a2a2a" stroke-width="1.0" />
<circle cx="483.0" cy="74.1" r="0.45" fill="#2a2a2a"/>
<line x1="485" y1="73.8" x2="491" y2="73.8" stroke="#2a2a2a" stroke-width="1.5" stroke-dasharray="1.35 0.95" opacity="0.8"/>
<line x1="493" y1="74.0" x2="502" y2="74.0" stroke="#2a2a2a" stroke-width="1.0" />
<circle cx="483.0" cy="76.6" r="0.45" fill="#2a2a2a"/>
<line x1="485" y1="76.3" x2="491" y2="76.3" stroke="#2a2a2a" stroke-width="1.5" stroke-dasharray="1.35 0.95" opacity="0.8"/>
<line x1="493" y1="76.5" x2="494.2" y2="76.5" stroke="#2a2a2a" stroke-width="1.0" />
<line x1="317.5" y1="136" x2="317.5" y2="163.6" stroke="#111" stroke-width="0.9" />
<line x1="317.5" y1="166.2" x2="317.5" y2="192.85" stroke="#111" stroke-width="0.9" />
<line x1="317.05" y1="192.4" x2="513" y2="192.4" stroke="#111" stroke-width="0.9" />
<line x1="314.0" y1="192.4" x2="317.5" y2="192.4" stroke="#111" stroke-width="0.8" />
<text x="311.5" y="194.6" font-size="6.2" text-anchor="end" font-weight="normal" fill="#111" stroke="#111" stroke-width="0.2" >0</text>
<line x1="314.0" y1="185.95" x2="317.5" y2="185.95" stroke="#111" stroke-width="0.8" />
<text x="311.5" y="188.14999999999998" font-size="6.2" text-anchor="end" font-weight="normal" fill="#111" stroke="#111" stroke-width="0.2" >5</text>
<line x1="314.0" y1="179.5" x2="317.5" y2="179.5" stroke="#111" stroke-width="0.8" />
<text x="311.5" y="181.7" font-size="6.2" text-anchor="end" font-weight="normal" fill="#111" stroke="#111" stroke-width="0.2" >10</text>
<line x1="314.0" y1="173.05" x2="317.5" y2="173.05" stroke="#111" stroke-width="0.8" />
<text x="311.5" y="175.25" font-size="6.2" text-anchor="end" font-weight="normal" fill="#111" stroke="#111" stroke-width="0.2" >15</text>
<line x1="314.0" y1="166.6" x2="317.5" y2="166.6" stroke="#111" stroke-width="0.8" />
<text x="311.5" y="168.79999999999998" font-size="6.2" text-anchor="end" font-weight="normal" fill="#111" stroke="#111" stroke-width="0.2" >20</text>
<line x1="314.0" y1="151.79999999999998" x2="317.5" y2="151.79999999999998" stroke="#111" stroke-width="0.8" />
<text x="311.5" y="153.99999999999997" font-size="6.2" text-anchor="end" font-weight="normal" fill="#111" stroke="#111" stroke-width="0.2" >5</text>
<line x1="314.0" y1="140.0" x2="317.5" y2="140.0" stroke="#111" stroke-width="0.8" />
<text x="311.5" y="142.2" font-size="6.2" text-anchor="end" font-weight="normal" fill="#111" stroke="#111" stroke-width="0.2" >10</text>
<line x1="314.0" y1="163.6" x2="317.9" y2="163.6" stroke="#111" stroke-width="0.8" />
<text transform="translate(286.9 165.2) rotate(-90)" font-size="6.6" text-anchor="middle" fill="#111" stroke="#111" stroke-width="0.2" >Cell count</text>
<text transform="translate(298.1 146.4) rotate(-90)" font-size="6.1" text-anchor="middle" fill="#111" stroke="#111" stroke-width="0.2" >(x10<tspan font-size="3.8" dy="-2.4">6</tspan><tspan dy="2.4">)</tspan></text>
<text transform="translate(298.1 178.6) rotate(-90)" font-size="6.1" text-anchor="middle" fill="#111" stroke="#111" stroke-width="0.2" >(x10<tspan font-size="3.8" dy="-2.4">5</tspan><tspan dy="2.4">)</tspan></text>
<rect x="322.5" y="166.6" width="5.3" height="25.8" fill="#552a7c"/>
<rect x="322.5" y="158.9" width="5.3" height="4.7" fill="#552a7c"/>
<rect x="330.4" y="166.6" width="5.3" height="25.8" fill="#c00f2e"/>
<rect x="330.4" y="158.9" width="5.3" height="4.7" fill="#c00f2e"/>
<rect x="338.9" y="166.6" width="5.3" height="25.8" fill="#2c5292"/>
<rect x="338.9" y="159.1" width="5.3" height="4.5" fill="#2c5292"/>
<rect x="347.3" y="166.6" width="5.3" height="25.8" fill="#65b041"/>
<rect x="347.3" y="151.8" width="5.3" height="11.8" fill="#65b041"/>
<rect x="357.2" y="166.6" width="5.3" height="25.8" fill="#f09c18"/>
<rect x="357.2" y="153.9" width="5.3" height="9.7" fill="#f09c18"/>
<rect x="372.3" y="166.6" width="5.2" height="25.8" fill="#552a7c"/>
<rect x="372.3" y="156.3" width="5.2" height="7.3" fill="#552a7c"/>
<rect x="380.2" y="166.6" width="5.2" height="25.8" fill="#c00f2e"/>
<rect x="388.1" y="166.6" width="5.2" height="25.8" fill="#2c5292"/>
<rect x="396.0" y="166.6" width="5.2" height="25.8" fill="#65b041"/>
<rect x="418.0" y="166.6" width="5.0" height="25.8" fill="#552a7c"/>
<rect x="427.0" y="179.9" width="5.0" height="12.5" fill="#c00f2e"/>
<rect x="436.0" y="189.2" width="5.0" height="3.2" fill="#2c5292"/>
<rect x="445.0" y="187.8" width="5.0" height="4.6" fill="#65b041"/>
<rect x="467.6" y="166.6" width="5.0" height="25.8" fill="#552a7c"/>
<rect x="477.0" y="179.9" width="5.0" height="12.5" fill="#c00f2e"/>
<circle cx="326.2" cy="154.8" r="1.25" fill="#fff" stroke="#222" stroke-width="0.48"/>
<circle cx="323.9" cy="157.5" r="1.25" fill="#fff" stroke="#222" stroke-width="0.48"/>
<circle cx="326.4" cy="159.5" r="1.25" fill="#fff" stroke="#222" stroke-width="0.48"/>
<circle cx="325.5" cy="161.0" r="1.25" fill="#fff" stroke="#222" stroke-width="0.48"/>
<circle cx="324.5" cy="162.0" r="1.25" fill="#fff" stroke="#222" stroke-width="0.48"/>
<circle cx="325.1" cy="158.6" r="1.25" fill="#fff" stroke="#222" stroke-width="0.48"/>
<circle cx="332.6" cy="145.9" r="1.25" fill="#fff" stroke="#222" stroke-width="0.48"/>
<circle cx="333.7" cy="152.8" r="1.25" fill="#fff" stroke="#222" stroke-width="0.48"/>
<circle cx="332.8" cy="156.6" r="1.25" fill="#fff" stroke="#222" stroke-width="0.48"/>
<circle cx="332.1" cy="159.0" r="1.25" fill="#fff" stroke="#222" stroke-width="0.48"/>
<circle cx="334.0" cy="161.0" r="1.25" fill="#fff" stroke="#222" stroke-width="0.48"/>
<circle cx="332.6" cy="162.0" r="1.25" fill="#fff" stroke="#222" stroke-width="0.48"/>
<circle cx="332.9" cy="177.0" r="1.25" fill="#fff" stroke="#222" stroke-width="0.48"/>
<circle cx="333.2" cy="179.8" r="1.25" fill="#fff" stroke="#222" stroke-width="0.48"/>
<circle cx="340.3" cy="152.8" r="1.25" fill="#fff" stroke="#222" stroke-width="0.48"/>
<circle cx="341.9" cy="152.9" r="1.25" fill="#fff" stroke="#222" stroke-width="0.48"/>
<circle cx="341.4" cy="157.5" r="1.25" fill="#fff" stroke="#222" stroke-width="0.48"/>
<circle cx="340.3" cy="160.0" r="1.25" fill="#fff" stroke="#222" stroke-width="0.48"/>
<circle cx="343.1" cy="161.5" r="1.25" fill="#fff" stroke="#222" stroke-width="0.48"/>
<circle cx="350.1" cy="137.6" r="1.25" fill="#fff" stroke="#222" stroke-width="0.48"/>
<circle cx="349.5" cy="147.8" r="1.25" fill="#fff" stroke="#222" stroke-width="0.48"/>
<circle cx="350.3" cy="152.8" r="1.25" fill="#fff" stroke="#222" stroke-width="0.48"/>
<circle cx="350.1" cy="156.7" r="1.25" fill="#fff" stroke="#222" stroke-width="0.48"/>
<circle cx="350.3" cy="159.7" r="1.25" fill="#fff" stroke="#222" stroke-width="0.48"/>
<circle cx="360.4" cy="150.2" r="1.25" fill="#fff" stroke="#222" stroke-width="0.48"/>
<circle cx="359.2" cy="153.8" r="1.25" fill="#fff" stroke="#222" stroke-width="0.48"/>
<circle cx="359.5" cy="155.8" r="1.25" fill="#fff" stroke="#222" stroke-width="0.48"/>
<circle cx="359.2" cy="158.6" r="1.25" fill="#fff" stroke="#222" stroke-width="0.48"/>
<circle cx="375.5" cy="144.9" r="1.25" fill="#fff" stroke="#222" stroke-width="0.48"/>
<circle cx="375.8" cy="150.2" r="1.25" fill="#fff" stroke="#222" stroke-width="0.48"/>
<circle cx="375.0" cy="154.0" r="1.25" fill="#fff" stroke="#222" stroke-width="0.48"/>
<circle cx="375.2" cy="156.5" r="1.25" fill="#fff" stroke="#222" stroke-width="0.48"/>
<circle cx="375.9" cy="158.5" r="1.25" fill="#fff" stroke="#222" stroke-width="0.48"/>
<circle cx="374.9" cy="160.5" r="1.25" fill="#fff" stroke="#222" stroke-width="0.48"/>
<circle cx="374.8" cy="162.0" r="1.25" fill="#fff" stroke="#222" stroke-width="0.48"/>
<circle cx="382.0" cy="160.0" r="1.25" fill="#fff" stroke="#222" stroke-width="0.48"/>
<circle cx="384.5" cy="161.2" r="1.25" fill="#fff" stroke="#222" stroke-width="0.48"/>
<circle cx="381.4" cy="160.6" r="1.25" fill="#fff" stroke="#222" stroke-width="0.48"/>
<circle cx="382.6" cy="184.4" r="1.25" fill="#fff" stroke="#222" stroke-width="0.48"/>
<circle cx="383.0" cy="187.0" r="1.25" fill="#fff" stroke="#222" stroke-width="0.48"/>
<circle cx="389.0" cy="162.0" r="1.25" fill="#fff" stroke="#222" stroke-width="0.48"/>
<circle cx="389.6" cy="162.4" r="1.25" fill="#fff" stroke="#222" stroke-width="0.48"/>
<circle cx="398.7" cy="160.0" r="1.25" fill="#fff" stroke="#222" stroke-width="0.48"/>
<circle cx="397.7" cy="161.4" r="1.25" fill="#fff" stroke="#222" stroke-width="0.48"/>
<circle cx="398.2" cy="160.8" r="1.25" fill="#fff" stroke="#222" stroke-width="0.48"/>
<circle cx="405.5" cy="187.6" r="1.25" fill="#fff" stroke="#222" stroke-width="0.48"/>
<circle cx="407.0" cy="190.2" r="1.25" fill="#fff" stroke="#222" stroke-width="0.48"/>
<circle cx="405.6" cy="190.4" r="1.25" fill="#fff" stroke="#222" stroke-width="0.48"/>
<circle cx="420.3" cy="157.0" r="1.25" fill="#fff" stroke="#222" stroke-width="0.48"/>
<circle cx="420.1" cy="160.0" r="1.25" fill="#fff" stroke="#222" stroke-width="0.48"/>
<circle cx="420.7" cy="162.6" r="1.25" fill="#fff" stroke="#222" stroke-width="0.48"/>
<circle cx="429.3" cy="168.0" r="1.25" fill="#fff" stroke="#222" stroke-width="0.48"/>
<circle cx="429.5" cy="170.5" r="1.25" fill="#fff" stroke="#222" stroke-width="0.48"/>
<circle cx="429.2" cy="173.0" r="1.25" fill="#fff" stroke="#222" stroke-width="0.48"/>
<circle cx="429.5" cy="175.6" r="1.25" fill="#fff" stroke="#222" stroke-width="0.48"/>
<circle cx="429.4" cy="178.0" r="1.25" fill="#fff" stroke="#222" stroke-width="0.48"/>
<circle cx="429.9" cy="183.0" r="1.25" fill="#fff" stroke="#222" stroke-width="0.48"/>
<circle cx="429.2" cy="187.0" r="1.25" fill="#fff" stroke="#222" stroke-width="0.48"/>
<circle cx="429.3" cy="190.6" r="1.25" fill="#fff" stroke="#222" stroke-width="0.48"/>
<circle cx="439.7" cy="185.6" r="1.25" fill="#fff" stroke="#222" stroke-width="0.48"/>
<circle cx="437.1" cy="188.0" r="1.25" fill="#fff" stroke="#222" stroke-width="0.48"/>
<circle cx="438.5" cy="190.4" r="1.25" fill="#fff" stroke="#222" stroke-width="0.48"/>
<circle cx="438.5" cy="190.8" r="1.25" fill="#fff" stroke="#222" stroke-width="0.48"/>
<circle cx="446.8" cy="183.4" r="1.25" fill="#fff" stroke="#222" stroke-width="0.48"/>
<circle cx="446.4" cy="186.0" r="1.25" fill="#fff" stroke="#222" stroke-width="0.48"/>
<circle cx="447.5" cy="188.6" r="1.25" fill="#fff" stroke="#222" stroke-width="0.48"/>
<circle cx="446.0" cy="190.6" r="1.25" fill="#fff" stroke="#222" stroke-width="0.48"/>
<circle cx="454.3" cy="192.0" r="1.25" fill="#fff" stroke="#222" stroke-width="0.48"/>
<circle cx="455.6" cy="192.0" r="1.25" fill="#fff" stroke="#222" stroke-width="0.48"/>
<circle cx="469.7" cy="158.0" r="1.25" fill="#fff" stroke="#222" stroke-width="0.48"/>
<circle cx="469.2" cy="158.2" r="1.25" fill="#fff" stroke="#222" stroke-width="0.48"/>
<circle cx="470.9" cy="162.0" r="1.25" fill="#fff" stroke="#222" stroke-width="0.48"/>
<circle cx="469.8" cy="162.2" r="1.25" fill="#fff" stroke="#222" stroke-width="0.48"/>
<circle cx="480.0" cy="163.4" r="1.25" fill="#fff" stroke="#222" stroke-width="0.48"/>
<circle cx="479.9" cy="163.4" r="1.25" fill="#fff" stroke="#222" stroke-width="0.48"/>
<circle cx="479.9" cy="176.0" r="1.25" fill="#fff" stroke="#222" stroke-width="0.48"/>
<circle cx="480.3" cy="181.0" r="1.25" fill="#fff" stroke="#222" stroke-width="0.48"/>
<circle cx="479.6" cy="184.6" r="1.25" fill="#fff" stroke="#222" stroke-width="0.48"/>
<circle cx="479.8" cy="188.0" r="1.25" fill="#fff" stroke="#222" stroke-width="0.48"/>
<circle cx="479.6" cy="191.0" r="1.25" fill="#fff" stroke="#222" stroke-width="0.48"/>
<circle cx="487.6" cy="187.6" r="1.25" fill="#fff" stroke="#222" stroke-width="0.48"/>
<circle cx="489.9" cy="190.4" r="1.25" fill="#fff" stroke="#222" stroke-width="0.48"/>
<circle cx="489.0" cy="190.6" r="1.25" fill="#fff" stroke="#222" stroke-width="0.48"/>
<circle cx="496.7" cy="189.0" r="1.25" fill="#fff" stroke="#222" stroke-width="0.48"/>
<circle cx="498.8" cy="191.0" r="1.25" fill="#fff" stroke="#222" stroke-width="0.48"/>
<circle cx="498.1" cy="191.2" r="1.25" fill="#fff" stroke="#222" stroke-width="0.48"/>
<circle cx="508.9" cy="192.0" r="1.25" fill="#fff" stroke="#222" stroke-width="0.48"/>
<circle cx="506.5" cy="192.0" r="1.25" fill="#fff" stroke="#222" stroke-width="0.48"/>
<line x1="479.5" y1="176" x2="479.5" y2="179.6" stroke="#c00f2e" stroke-width="0.6" />
<line x1="478" y1="176" x2="481" y2="176" stroke="#c00f2e" stroke-width="0.6" />
<text x="341.2" y="201.6" font-size="6.2" text-anchor="middle" font-weight="normal" fill="#111" stroke="#111" stroke-width="0.2" >pro-B cells</text>
<text x="391" y="201.6" font-size="6.2" text-anchor="middle" font-weight="normal" fill="#111" stroke="#111" stroke-width="0.2" >pre-B cells</text>
<text x="439.6" y="201.6" font-size="6.2" text-anchor="middle" font-weight="normal" fill="#111" stroke="#111" stroke-width="0.2" >immature</text>
<text x="488.4" y="201.6" font-size="6.2" text-anchor="middle" font-weight="normal" fill="#111" stroke="#111" stroke-width="0.2" >mature</text>
<rect x="333.3" y="209.3" width="2.8" height="2.4" fill="#3f1f63"/>
<text x="340" y="212.3" font-size="5.1" text-anchor="start" font-weight="normal" fill="#2a2a2a" stroke="#2a2a2a" stroke-width="0.08" >WT</text>
<rect x="365" y="209.3" width="2.8" height="2.4" fill="#a80d28"/>
<text x="371.3" y="212.3" font-size="5.1" text-anchor="start" font-weight="normal" fill="#2a2a2a" stroke="#2a2a2a" stroke-width="0.08" >R972Q</text>
<rect x="405" y="209.3" width="2.8" height="2.4" fill="#1f3f70"/>
<text x="410.8" y="212.3" font-size="5.1" text-anchor="start" font-weight="normal" fill="#2a2a2a" stroke="#2a2a2a" stroke-width="0.08" >F971L</text>
<rect x="442.5" y="209.3" width="2.8" height="2.4" fill="#5fa83c"/>
<text x="448.8" y="212.3" font-size="5.1" text-anchor="start" font-weight="normal" fill="#2a2a2a" stroke="#2a2a2a" stroke-width="0.08" >R972W</text>
<rect x="482.5" y="209.3" width="2.8" height="2.4" fill="#e09a1c"/>
<text x="489.3" y="212.3" font-size="5.1" text-anchor="start" font-weight="normal" fill="#2a2a2a" stroke="#2a2a2a" stroke-width="0.08" >KO</text>
<circle cx="373.6" cy="132.8" r="0.45" fill="#2a2a2a"/>
<line x1="375.6" y1="132.5" x2="378.4" y2="132.5" stroke="#2a2a2a" stroke-width="1.5" stroke-dasharray="1.35 0.95" opacity="0.8"/>
<line x1="380.8" y1="132.7" x2="407.8" y2="132.7" stroke="#2a2a2a" stroke-width="1.0" />
<circle cx="373.6" cy="135.5" r="0.45" fill="#2a2a2a"/>
<line x1="375.6" y1="135.2" x2="378.4" y2="135.2" stroke="#2a2a2a" stroke-width="1.5" stroke-dasharray="1.35 0.95" opacity="0.8"/>
<line x1="379.5" y1="135.39999999999998" x2="399.8" y2="135.39999999999998" stroke="#2a2a2a" stroke-width="1.0" />
<circle cx="373.6" cy="138.20000000000002" r="0.45" fill="#2a2a2a"/>
<line x1="375.6" y1="137.9" x2="378.4" y2="137.9" stroke="#2a2a2a" stroke-width="1.5" stroke-dasharray="1.35 0.95" opacity="0.8"/>
<line x1="379" y1="138.1" x2="391.8" y2="138.1" stroke="#2a2a2a" stroke-width="1.0" />
<circle cx="373.6" cy="140.60000000000002" r="0.45" fill="#2a2a2a"/>
<line x1="375.6" y1="140.3" x2="378.4" y2="140.3" stroke="#2a2a2a" stroke-width="1.5" stroke-dasharray="1.35 0.95" opacity="0.8"/>
<line x1="379" y1="140.5" x2="383.2" y2="140.5" stroke="#2a2a2a" stroke-width="1.0" />
<circle cx="383.6" cy="144.10000000000002" r="0.45" fill="#2a2a2a"/>
<line x1="385.6" y1="143.8" x2="387" y2="143.8" stroke="#2a2a2a" stroke-width="1.5" stroke-dasharray="1.35 0.95" opacity="0.8"/>
<line x1="388.8" y1="144.0" x2="407.8" y2="144.0" stroke="#2a2a2a" stroke-width="1.0" />
<circle cx="382.6" cy="144" r="0.45" fill="#2a2a2a"/>
<circle cx="399.4" cy="146.3" r="0.45" fill="#2a2a2a"/>
<line x1="401.6" y1="146" x2="405.4" y2="146" stroke="#2a2a2a" stroke-width="1.5" stroke-dasharray="1.35 0.95" opacity="0.8"/>
<circle cx="407.6" cy="146.3" r="0.45" fill="#2a2a2a"/>
<circle cx="419.6" cy="135.10000000000002" r="0.45" fill="#2a2a2a"/>
<line x1="421.6" y1="134.8" x2="430.5" y2="134.8" stroke="#2a2a2a" stroke-width="1.5" stroke-dasharray="1.35 0.95" opacity="0.8"/>
<line x1="432.3" y1="135.0" x2="458.2" y2="135.0" stroke="#2a2a2a" stroke-width="1.0" />
<circle cx="419.6" cy="137.8" r="0.45" fill="#2a2a2a"/>
<line x1="421.6" y1="137.5" x2="430.5" y2="137.5" stroke="#2a2a2a" stroke-width="1.5" stroke-dasharray="1.35 0.95" opacity="0.8"/>
<line x1="432.3" y1="137.7" x2="449" y2="137.7" stroke="#2a2a2a" stroke-width="1.0" />
<circle cx="419.6" cy="140.60000000000002" r="0.45" fill="#2a2a2a"/>
<line x1="421.6" y1="140.3" x2="430.5" y2="140.3" stroke="#2a2a2a" stroke-width="1.5" stroke-dasharray="1.35 0.95" opacity="0.8"/>
<line x1="432.3" y1="140.5" x2="439.7" y2="140.5" stroke="#2a2a2a" stroke-width="1.0" />
<circle cx="419.6" cy="143.3" r="0.45" fill="#2a2a2a"/>
<line x1="421.6" y1="143" x2="430.5" y2="143" stroke="#2a2a2a" stroke-width="1.5" stroke-dasharray="1.35 0.95" opacity="0.8"/>
<line x1="432.3" y1="143.2" x2="433.2" y2="143.2" stroke="#2a2a2a" stroke-width="1.0" />
<circle cx="429.7" cy="158.3" r="0.45" fill="#2a2a2a"/>
<line x1="431.7" y1="158.0" x2="435.4" y2="158.0" stroke="#2a2a2a" stroke-width="1.5" stroke-dasharray="1.35 0.95" opacity="0.8"/>
<line x1="436.8" y1="158.2" x2="458.2" y2="158.2" stroke="#2a2a2a" stroke-width="1.0" />
<circle cx="468.2" cy="134.8" r="0.45" fill="#2a2a2a"/>
<line x1="470.2" y1="134.5" x2="478.8" y2="134.5" stroke="#2a2a2a" stroke-width="1.5" stroke-dasharray="1.35 0.95" opacity="0.8"/>
<line x1="480.6" y1="134.7" x2="507.7" y2="134.7" stroke="#2a2a2a" stroke-width="1.0" />
<circle cx="468.2" cy="137.8" r="0.45" fill="#2a2a2a"/>
<line x1="470.2" y1="137.5" x2="478.8" y2="137.5" stroke="#2a2a2a" stroke-width="1.5" stroke-dasharray="1.35 0.95" opacity="0.8"/>
<line x1="480.6" y1="137.7" x2="498.5" y2="137.7" stroke="#2a2a2a" stroke-width="1.0" />
<circle cx="468.2" cy="140.60000000000002" r="0.45" fill="#2a2a2a"/>
<line x1="470.2" y1="140.3" x2="478.8" y2="140.3" stroke="#2a2a2a" stroke-width="1.5" stroke-dasharray="1.35 0.95" opacity="0.8"/>
<line x1="480.6" y1="140.5" x2="489.2" y2="140.5" stroke="#2a2a2a" stroke-width="1.0" />
<circle cx="468.2" cy="143.4" r="0.45" fill="#2a2a2a"/>
<line x1="470.2" y1="143.1" x2="478.8" y2="143.1" stroke="#2a2a2a" stroke-width="1.5" stroke-dasharray="1.35 0.95" opacity="0.8"/>
<line x1="480.6" y1="143.29999999999998" x2="482" y2="143.29999999999998" stroke="#2a2a2a" stroke-width="1.0" />
<circle cx="480.6" cy="147.70000000000002" r="0.45" fill="#2a2a2a"/>
<line x1="482.6" y1="147.4" x2="484.2" y2="147.4" stroke="#2a2a2a" stroke-width="1.5" stroke-dasharray="1.35 0.95" opacity="0.8"/>
<line x1="486.2" y1="147.6" x2="507" y2="147.6" stroke="#2a2a2a" stroke-width="1.0" />
<circle cx="480.6" cy="150.70000000000002" r="0.45" fill="#2a2a2a"/>
<line x1="482.6" y1="150.4" x2="484.2" y2="150.4" stroke="#2a2a2a" stroke-width="1.5" stroke-dasharray="1.35 0.95" opacity="0.8"/>
<line x1="486.2" y1="150.6" x2="504.6" y2="150.6" stroke="#2a2a2a" stroke-width="1.0" />
<line x1="317.4" y1="243.6" x2="317.4" y2="302.25" stroke="#111" stroke-width="0.9" />
<line x1="316.95" y1="301.8" x2="416.5" y2="301.8" stroke="#111" stroke-width="0.9" />
<line x1="314.7" y1="301.8" x2="317.4" y2="301.8" stroke="#111" stroke-width="0.8" />
<text x="312.29999999999995" y="304.0" font-size="6.2" text-anchor="end" font-weight="normal" fill="#111" stroke="#111" stroke-width="0.2" >0</text>
<line x1="314.7" y1="288.05" x2="317.4" y2="288.05" stroke="#111" stroke-width="0.8" />
<text x="312.29999999999995" y="290.25" font-size="6.2" text-anchor="end" font-weight="normal" fill="#111" stroke="#111" stroke-width="0.2" >10</text>
<line x1="314.7" y1="274.3" x2="317.4" y2="274.3" stroke="#111" stroke-width="0.8" />
<text x="312.29999999999995" y="276.5" font-size="6.2" text-anchor="end" font-weight="normal" fill="#111" stroke="#111" stroke-width="0.2" >20</text>
<line x1="314.7" y1="260.55" x2="317.4" y2="260.55" stroke="#111" stroke-width="0.8" />
<text x="312.29999999999995" y="262.75" font-size="6.2" text-anchor="end" font-weight="normal" fill="#111" stroke="#111" stroke-width="0.2" >30</text>
<line x1="314.7" y1="246.8" x2="317.4" y2="246.8" stroke="#111" stroke-width="0.8" />
<text x="312.29999999999995" y="249.0" font-size="6.2" text-anchor="end" font-weight="normal" fill="#111" stroke="#111" stroke-width="0.2" >40</text>
<text transform="translate(298.2 271.6) rotate(-90)" font-size="6.9" text-anchor="middle" fill="#111" stroke="#111" stroke-width="0.2" >% of B220<tspan font-size="3.8" dy="-2.6">+</tspan><tspan dy="2.6"> IgM</tspan><tspan font-size="3.8" dy="-2.6">-</tspan></text>
<rect x="320.5" y="293.4" width="6.3" height="8.4" fill="#552a7c"/>
<line x1="323.65" y1="293.4125" x2="323.65" y2="291.21250000000003" stroke="#552a7c" stroke-width="0.9" opacity="0.8"/>
<line x1="322.15" y1="291.21250000000003" x2="325.15" y2="291.21250000000003" stroke="#552a7c" stroke-width="0.8" opacity="0.8"/>
<circle cx="323.6" cy="294.9" r="0.7" fill="#1a1a2a" opacity="0.85"/>
<circle cx="324.4" cy="292.2" r="0.7" fill="#1a1a2a" opacity="0.85"/>
<circle cx="324.5" cy="290.0" r="0.7" fill="#1a1a2a" opacity="0.85"/>
<rect x="329.7" y="269.4" width="6.3" height="32.4" fill="#c00f2e"/>
<line x1="332.84999999999997" y1="269.35" x2="332.84999999999997" y2="268.9375" stroke="#c00f2e" stroke-width="0.9" opacity="0.8"/>
<line x1="331.34999999999997" y1="268.9375" x2="334.34999999999997" y2="268.9375" stroke="#c00f2e" stroke-width="0.8" opacity="0.8"/>
<circle cx="333.4" cy="269.6" r="0.7" fill="#1a1a2a" opacity="0.85"/>
<circle cx="332.7" cy="269.1" r="0.7" fill="#1a1a2a" opacity="0.85"/>
<rect x="338.9" y="265.8" width="6.3" height="36.0" fill="#2c5292"/>
<line x1="342.04999999999995" y1="265.77500000000003" x2="342.04999999999995" y2="264.675" stroke="#2c5292" stroke-width="0.9" opacity="0.8"/>
<line x1="340.54999999999995" y1="264.675" x2="343.54999999999995" y2="264.675" stroke="#2c5292" stroke-width="0.8" opacity="0.8"/>
<circle cx="341.9" cy="266.6" r="0.7" fill="#1a1a2a" opacity="0.85"/>
<circle cx="342.5" cy="264.9" r="0.7" fill="#1a1a2a" opacity="0.85"/>
<rect x="348.1" y="268.1" width="6.3" height="33.7" fill="#65b041"/>
<line x1="351.25" y1="268.1125" x2="351.25" y2="263.4375" stroke="#65b041" stroke-width="0.9" opacity="0.8"/>
<line x1="349.75" y1="263.4375" x2="352.75" y2="263.4375" stroke="#65b041" stroke-width="0.8" opacity="0.8"/>
<circle cx="352.0" cy="275.7" r="0.7" fill="#1a1a2a" opacity="0.85"/>
<circle cx="351.2" cy="268.8" r="0.7" fill="#1a1a2a" opacity="0.85"/>
<circle cx="351.7" cy="256.4" r="0.7" fill="#1a1a2a" opacity="0.85"/>
<rect x="357.3" y="268.7" width="6.3" height="33.1" fill="#f09c18"/>
<line x1="360.45" y1="268.6625" x2="360.45" y2="266.4625" stroke="#f09c18" stroke-width="0.9" opacity="0.8"/>
<line x1="358.95" y1="266.4625" x2="361.95" y2="266.4625" stroke="#f09c18" stroke-width="0.8" opacity="0.8"/>
<circle cx="360.6" cy="272.9" r="0.7" fill="#1a1a2a" opacity="0.85"/>
<circle cx="360.6" cy="268.0" r="0.7" fill="#1a1a2a" opacity="0.85"/>
<circle cx="359.9" cy="264.4" r="0.7" fill="#1a1a2a" opacity="0.85"/>
<rect x="371.1" y="264.9" width="6.3" height="36.9" fill="#552a7c"/>
<line x1="374.25" y1="264.95" x2="374.25" y2="256.15" stroke="#552a7c" stroke-width="0.9" opacity="0.8"/>
<line x1="372.75" y1="256.15" x2="375.75" y2="256.15" stroke="#552a7c" stroke-width="0.8" opacity="0.8"/>
<circle cx="373.8" cy="271.6" r="0.7" fill="#1a1a2a" opacity="0.85"/>
<circle cx="373.8" cy="255.1" r="0.7" fill="#1a1a2a" opacity="0.85"/>
<circle cx="375.2" cy="250.1" r="0.7" fill="#1a1a2a" opacity="0.85"/>
<rect x="380.2" y="288.6" width="6.3" height="13.2" fill="#c00f2e"/>
<line x1="383.33" y1="288.6" x2="383.33" y2="287.3625" stroke="#c00f2e" stroke-width="0.9" opacity="0.8"/>
<line x1="381.83" y1="287.3625" x2="384.83" y2="287.3625" stroke="#c00f2e" stroke-width="0.8" opacity="0.8"/>
<circle cx="382.4" cy="289.4" r="0.7" fill="#1a1a2a" opacity="0.85"/>
<circle cx="382.8" cy="287.5" r="0.7" fill="#1a1a2a" opacity="0.85"/>
<rect x="389.3" y="295.8" width="6.3" height="6.1" fill="#2c5292"/>
<line x1="392.41" y1="295.75" x2="392.41" y2="295.0625" stroke="#2c5292" stroke-width="0.9" opacity="0.8"/>
<line x1="390.91" y1="295.0625" x2="393.91" y2="295.0625" stroke="#2c5292" stroke-width="0.8" opacity="0.8"/>
<circle cx="391.8" cy="296.3" r="0.7" fill="#1a1a2a" opacity="0.85"/>
<circle cx="393.0" cy="295.2" r="0.7" fill="#1a1a2a" opacity="0.85"/>
<rect x="398.3" y="295.8" width="6.3" height="6.1" fill="#65b041"/>
<line x1="401.49" y1="295.75" x2="401.49" y2="294.925" stroke="#65b041" stroke-width="0.9" opacity="0.8"/>
<line x1="399.99" y1="294.925" x2="402.99" y2="294.925" stroke="#65b041" stroke-width="0.8" opacity="0.8"/>
<circle cx="401.8" cy="296.3" r="0.7" fill="#1a1a2a" opacity="0.85"/>
<circle cx="401.1" cy="295.2" r="0.7" fill="#1a1a2a" opacity="0.85"/>
<rect x="407.4" y="300.4" width="6.3" height="1.4" fill="#f09c18"/>
<line x1="410.57" y1="300.425" x2="410.57" y2="299.1875" stroke="#f09c18" stroke-width="0.9" opacity="0.8"/>
<line x1="409.07" y1="299.1875" x2="412.07" y2="299.1875" stroke="#f09c18" stroke-width="0.8" opacity="0.8"/>
<circle cx="409.8" cy="301.0" r="0.7" fill="#1a1a2a" opacity="0.85"/>
<circle cx="410.9" cy="298.2" r="0.7" fill="#1a1a2a" opacity="0.85"/>
<text x="345.6" y="311.2" font-size="6.2" text-anchor="middle" font-weight="normal" fill="#111" stroke="#111" stroke-width="0.2" >pro-pre-B I</text>
<text x="389.8" y="311.2" font-size="6.2" text-anchor="middle" font-weight="normal" fill="#111" stroke="#111" stroke-width="0.2" >pre-B II</text>
<rect x="432.6" y="245.8" width="2.8" height="2.4" fill="#3f1f63"/>
<text x="438.8" y="248.8" font-size="5.1" text-anchor="start" font-weight="normal" fill="#2a2a2a" stroke="#2a2a2a" stroke-width="0.08" >WT</text>
<rect x="432.6" y="255.2" width="2.8" height="2.4" fill="#a80d28"/>
<text x="438.8" y="258.2" font-size="5.1" text-anchor="start" font-weight="normal" fill="#2a2a2a" stroke="#2a2a2a" stroke-width="0.08" >R972Q</text>
<rect x="432.6" y="264.2" width="2.8" height="2.4" fill="#1f3f70"/>
<text x="438.8" y="267.2" font-size="5.1" text-anchor="start" font-weight="normal" fill="#2a2a2a" stroke="#2a2a2a" stroke-width="0.08" >F971L</text>
<rect x="432.6" y="273.2" width="2.8" height="2.4" fill="#5fa83c"/>
<text x="438.8" y="276.2" font-size="5.1" text-anchor="start" font-weight="normal" fill="#2a2a2a" stroke="#2a2a2a" stroke-width="0.08" >R972W</text>
<rect x="432.6" y="282.1" width="2.8" height="2.4" fill="#e09a1c"/>
<text x="438.8" y="285.1" font-size="5.1" text-anchor="start" font-weight="normal" fill="#2a2a2a" stroke="#2a2a2a" stroke-width="0.08" >KO</text>
<circle cx="324.0" cy="244.8" r="0.45" fill="#2a2a2a"/>
<line x1="326" y1="244.5" x2="334.9" y2="244.5" stroke="#2a2a2a" stroke-width="1.5" stroke-dasharray="1.35 0.95" opacity="0.8"/>
<line x1="336" y1="244.7" x2="362.6" y2="244.7" stroke="#2a2a2a" stroke-width="1.0" />
<circle cx="324.0" cy="247.60000000000002" r="0.45" fill="#2a2a2a"/>
<line x1="326" y1="247.3" x2="334.9" y2="247.3" stroke="#2a2a2a" stroke-width="1.5" stroke-dasharray="1.35 0.95" opacity="0.8"/>
<line x1="336" y1="247.5" x2="351.7" y2="247.5" stroke="#2a2a2a" stroke-width="1.0" />
<circle cx="324.0" cy="250.4" r="0.45" fill="#2a2a2a"/>
<line x1="326" y1="250.1" x2="334.9" y2="250.1" stroke="#2a2a2a" stroke-width="1.5" stroke-dasharray="1.35 0.95" opacity="0.8"/>
<line x1="336" y1="250.29999999999998" x2="343.3" y2="250.29999999999998" stroke="#2a2a2a" stroke-width="1.0" />
<circle cx="324.0" cy="253.20000000000002" r="0.45" fill="#2a2a2a"/>
<line x1="326" y1="252.9" x2="334.9" y2="252.9" stroke="#2a2a2a" stroke-width="1.5" stroke-dasharray="1.35 0.95" opacity="0.8"/>
<line x1="336" y1="253.1" x2="337.4" y2="253.1" stroke="#2a2a2a" stroke-width="1.0" />
<circle cx="372.1" cy="235.9" r="0.45" fill="#2a2a2a"/>
<line x1="374.1" y1="235.6" x2="381.8" y2="235.6" stroke="#2a2a2a" stroke-width="1.5" stroke-dasharray="1.35 0.95" opacity="0.8"/>
<line x1="383" y1="235.79999999999998" x2="413.1" y2="235.79999999999998" stroke="#2a2a2a" stroke-width="1.0" />
<circle cx="372.1" cy="238.8" r="0.45" fill="#2a2a2a"/>
<line x1="374.1" y1="238.5" x2="381.8" y2="238.5" stroke="#2a2a2a" stroke-width="1.5" stroke-dasharray="1.35 0.95" opacity="0.8"/>
<line x1="383" y1="238.7" x2="401" y2="238.7" stroke="#2a2a2a" stroke-width="1.0" />
<circle cx="372.1" cy="241.8" r="0.45" fill="#2a2a2a"/>
<line x1="374.1" y1="241.5" x2="381.8" y2="241.5" stroke="#2a2a2a" stroke-width="1.5" stroke-dasharray="1.35 0.95" opacity="0.8"/>
<line x1="383" y1="241.7" x2="390.2" y2="241.7" stroke="#2a2a2a" stroke-width="1.0" />
<circle cx="372.1" cy="244.8" r="0.45" fill="#2a2a2a"/>
<line x1="374.1" y1="244.5" x2="381.8" y2="244.5" stroke="#2a2a2a" stroke-width="1.5" stroke-dasharray="1.35 0.95" opacity="0.8"/>
<line x1="383" y1="244.7" x2="384.3" y2="244.7" stroke="#2a2a2a" stroke-width="1.0" />
<circle cx="383.4" cy="270.8" r="0.45" fill="#2a2a2a"/>
<line x1="385.4" y1="270.5" x2="393.8" y2="270.5" stroke="#2a2a2a" stroke-width="1.5" stroke-dasharray="1.35 0.95" opacity="0.8"/>
<line x1="395" y1="270.7" x2="410.7" y2="270.7" stroke="#2a2a2a" stroke-width="1.0" />
<circle cx="383.4" cy="273.7" r="0.45" fill="#2a2a2a"/>
<line x1="385.4" y1="273.4" x2="393.8" y2="273.4" stroke="#2a2a2a" stroke-width="1.5" stroke-dasharray="1.35 0.95" opacity="0.8"/>
<line x1="395" y1="273.59999999999997" x2="402.3" y2="273.59999999999997" stroke="#2a2a2a" stroke-width="1.0" />
<circle cx="383.4" cy="276.8" r="0.45" fill="#2a2a2a"/>
<line x1="385.4" y1="276.5" x2="393.8" y2="276.5" stroke="#2a2a2a" stroke-width="1.5" stroke-dasharray="1.35 0.95" opacity="0.8"/>
<line x1="390.2" y1="289.2" x2="399.9" y2="289.2" stroke="#2a2a2a" stroke-width="0.9" />
<line x1="401.5" y1="287.8" x2="408.3" y2="287.8" stroke="#2a2a2a" stroke-width="1.5" stroke-dasharray="1.35 0.95" opacity="0.8"/>
<line x1="404.4" y1="290.5" x2="408.3" y2="290.5" stroke="#2a2a2a" stroke-width="1.5" stroke-dasharray="1.35 0.95" opacity="0.8"/>
<circle cx="410.7" cy="290.8" r="0.45" fill="#2a2a2a"/>
<rect x="0" y="0" width="520" height="1" fill="#000"/>
<rect x="0" y="0" width="1" height="324" fill="#000"/>
<rect x="518.5" y="0" width="1.5" height="324" fill="#000"/>
<rect x="0" y="322.5" width="520" height="1.5" fill="#000"/>
</g>
</svg>
</body></html>
